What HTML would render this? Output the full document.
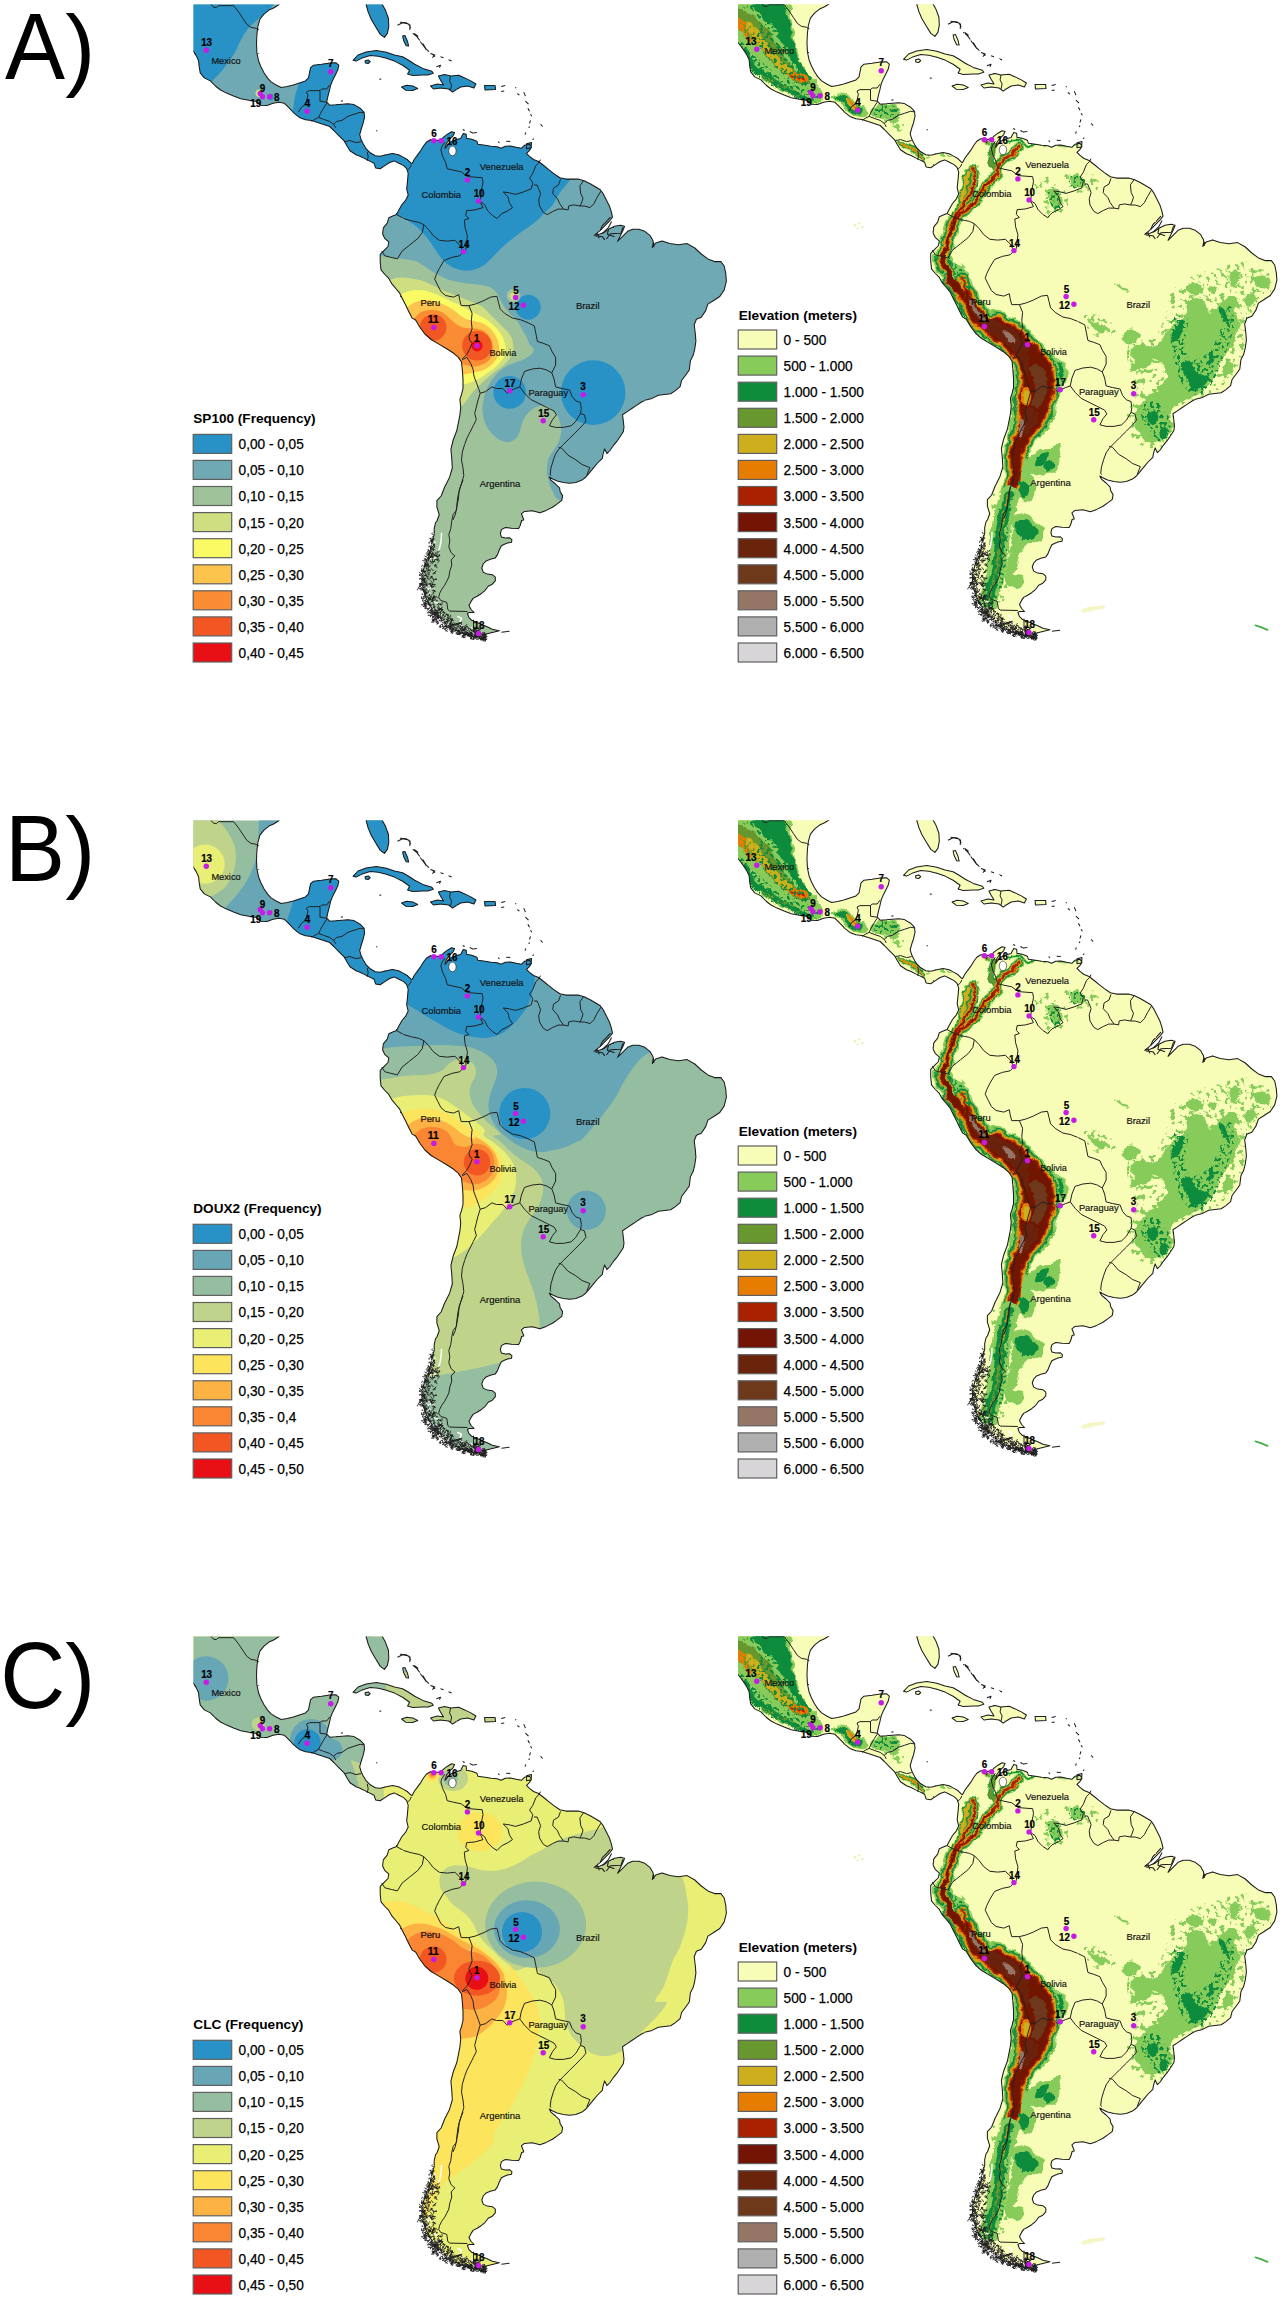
<!DOCTYPE html>
<html lang="en"><head><meta charset="utf-8"><title>Allele frequency maps</title>
<style>
html,body{margin:0;padding:0;background:#fff}
svg{display:block}
text{font-family:'Liberation Sans', Arial, Helvetica, sans-serif}
.pl{font-size:90px;fill:#000}
.num{font-size:10.1px;font-weight:bold;fill:#000;stroke:#000;stroke-width:.2;text-anchor:middle}
.cty{font-size:9.8px;fill:#111;stroke:#111;stroke-width:.18}
.lt{font-size:12.9px;font-weight:bold;fill:#000}
.ll{font-size:14.7px;fill:#000;stroke:#000;stroke-width:.25}
.sw{stroke:#5f5f5f;stroke-width:1.2}
.coast{fill:none;stroke:#1c1c1c;stroke-width:1.05;stroke-linejoin:round}
.bord{fill:none;stroke:#222;stroke-width:1;stroke-linejoin:round}
.dot{fill:#c81ae8}
</style></head><body>
<svg width="1285" height="2300" viewBox="0 0 1285 2300">
<defs>

<path id="land" d="M185.1,0.4 279.5,0.4 279.1,4.5 274.1,7.7 269,10.1 264,14.2 259.9,19.2 257.9,26.3 256.9,34.4 256.5,43.5 256.9,52.6 258.5,60.7 260.9,66.8 264,72.8 267.4,77.9 271.1,81.9 276.1,85 281.2,87.4 287.2,86.6 293.3,85 299.4,83 305.4,80.9 308.5,77.9 309.5,72.8 310.5,67.8 313.5,65.2 321.6,64.3 329.7,63.1 335.8,62.7 338.8,65.2 337.8,69.8 335.8,73.9 332.8,79.9 330.7,85 329.3,91.1 327.7,97.1 326.7,102.2 329.7,105.2 335.8,104.8 341.9,104.2 347.9,103.8 354,104.6 360.1,108.2 364.1,112.3 364.5,117.4 363.1,123.4 361.1,129.5 359.7,134.6 361.1,139.6 363.1,143.7 366.1,148.7 370.2,152.8 375.3,155.8 380.3,156.2 386.4,154.8 392.5,153.4 398.5,154.8 403.6,157.4 407.6,159.8 410.7,162.9 412.1,163.5 414.2,159.5 417.2,155.4 420.2,151.4 423.3,146.3 426.3,142.3 430.4,139.8 434.4,140.2 440.5,140.2 443.5,137.2 447.5,134.2 451.6,131.7 454.6,132.5 453,135.8 449.6,139.2 446.5,143.3 444.9,148.3 447.5,145.3 450.6,141.9 455.6,139.8 460.7,138.6 461.7,136.2 463.3,133.4 466.2,134.2 466.4,138.2 471.8,139.2 476.9,141.2 477.9,144.3 485,145.3 491.1,146.3 497.1,146.7 501.2,148.3 505.2,146.3 510.3,145.9 516.3,147.3 521.4,148.3 524.4,145.3 529.5,144.3 531.5,147.3 529.5,150.4 526.5,153.4 529.5,156.4 533.5,159.5 538.6,161.5 543.7,165.5 548.7,169.6 553.8,173.6 559.8,177.7 565.9,179.1 572,179.1 578.1,179.1 584.1,180.7 590.2,183.7 595.3,186.8 600.3,189.8 603.3,193.9 606.4,199.9 609.4,206 611.4,212.1 612.5,217.1 609.4,221.2 605.4,225.2 600.3,230.3 594.2,235.3 599.3,234.3 604.4,232.3 608.4,229.3 614.5,226.2 620.5,225.2 624.6,226.2 622.6,231.3 619.5,237.4 617.5,241.4 622.6,236.3 627.6,231.3 632.7,229.3 638.8,229.3 644.8,231.3 649.9,235.3 652.9,240.4 653.9,246.5 653.4,242 652.3,247.4 655.6,243.1 662.1,240.9 669.7,243.6 678.4,244.7 687.2,243.6 694.8,248 701.3,254 707.9,258.9 714.4,261.6 720.9,261.6 724.2,266 725.8,273.6 726.4,281.2 724.2,289.9 719.8,296.5 713.3,300.8 707.9,304.1 705.7,310.6 701.3,317.2 696.4,319.3 694.2,324.8 695.3,333.5 695.9,341.1 694.8,348.8 693.2,355.3 690.4,360.7 689.3,370 686.3,374.2 681.6,380.5 680.1,386.7 675.4,390.6 670.7,393.7 664.5,394.5 658.3,395.3 652.1,398.4 645.8,399.9 641.2,402.3 636.5,405.4 631.8,408.5 627.2,411.6 622.5,414.7 623.3,420.9 624,427.2 623.3,431.8 620.2,436.5 617,441.2 613.2,445.8 610,450.5 606.9,453.6 604.6,448.9 603,454.4 602.3,458.3 597.6,463 593.7,467.6 589.8,472.3 585.9,477 582,480.1 575.8,482.4 569.6,483.2 563.3,482.4 557.1,480.9 551.7,478.5 549.3,477 550.9,480.1 555.6,484 559.5,487.9 560.2,491.8 562.6,495.6 561.8,500.3 557.9,503.4 552.5,507.3 546.2,510.4 540,512.8 532.3,510.7 524.5,511.4 521.4,513.8 523,517.7 523.7,520 521.6,520.5 520.2,525.5 518.6,528.6 511.5,528.2 505.4,527.5 501.4,529.6 500.4,533.6 501.4,537.1 505.4,538.1 509.5,537.7 511.9,539.7 511.5,542.3 507.5,543.1 504.4,544.3 501.4,545.8 499.4,549.8 497.4,554.9 495.3,557.9 490.3,559.3 486.2,560.9 483.2,564 481.8,568 483.2,572.1 487.2,574.1 492.3,574.7 495.3,577.1 495.3,580.8 492.3,584.2 488.2,586.2 485.2,590.3 481.2,593.7 477.1,596.3 473.1,598.4 471.1,601.4 469,605.4 471.1,609.5 474.1,612.5 469,612.5 467.4,613.5 469,617.6 472.1,620.6 477.1,622.6 482.2,624.7 487.2,626.7 492.3,629.3 499.4,630.7 493.3,632.2 487.2,633.8 482.2,635.8 484.2,639.8 479.1,637.8 473.1,636.2 467,634.8 460.9,632.8 454.9,629.7 448.8,625.7 442.7,620.6 437.7,615.6 432.6,609.5 428.6,603.4 425.5,596.3 422.9,589.3 421.9,581.2 422.5,573.1 424.9,565 428.6,556.9 430.6,548.8 432.2,540.7 434.2,534.6 434.2,528.6 435.6,522.5 437,520.8 439.2,514.7 436.9,507.2 436.9,500.7 441.1,496 444.8,486.7 449.5,477.4 452.3,468 451.8,458.7 450.9,449.3 453.2,440 456.8,430.5 458.4,422.7 459.9,414.9 460.7,407.2 459.9,399.4 461.5,394.7 463,388.5 463,379.1 462.3,369.8 461.5,362 458.4,357.4 452.9,352.7 446.7,348.8 438.9,344.1 431.1,339.5 424.9,334 420.2,327.8 415.6,320 412.1,318.1 409,311.9 405.9,305.6 402.8,299.4 399.7,293.2 395.8,288.5 391.9,283.9 388.8,278.4 384.9,274.5 381,269.8 380.2,262.1 380.2,254.3 384.9,249.6 388,246.5 388.8,241.8 384.9,238.7 382.6,234 383.3,227.8 387.2,223.2 388.8,217.7 392.7,216.1 396.6,214.6 398.9,209.9 402,204.5 405.9,199.8 408.2,195.1 406.7,188.9 407.5,181.1 408.2,173.3 406.7,168.7 403.6,165.6 398.9,163.2 394.2,160.9 389.6,162.5 384.9,165.6 380.2,168.7 375.6,167.9 374,163.2 369.3,160.9 364.7,158.6 360,156.2 356,154.8 350,150.7 346.9,145.7 343.9,140.6 338.8,135.6 333.8,130.5 329.7,126.5 323.7,124.4 317.6,122.4 311.5,120.4 305.4,119.8 299.4,117.4 294.3,113.3 289.3,108.2 284.2,103.2 279.1,102.2 273.1,103.2 267,105.6 260.9,105.2 255.9,101.2 248.8,100.2 240.7,98.7 233.6,96.1 226.5,93.1 220.5,90 215.4,86 210.4,80.9 204.3,77.9 200.2,72.8 199.2,66.8 198.6,60.7 196.2,55.6 193.6,51.6 189.1,45.5 185.1,40.5ZM365.7,0.4 381.9,0.4 382.3,4.5 385.4,10.1 388.4,18.2 388.8,26.3 387.4,33.4 384.4,37.4 380.3,34.4 375.3,26.3 371.2,19.2 368.2,12.1 366.1,4.5ZM353,60.3 358.1,55 366.1,52 376.3,50.6 386.4,52.2 394.5,55 402.6,56.7 408.6,60.3 414.7,64.3 422.8,68.4 431.9,71.2 433.3,73.2 427.9,74.9 422.8,74.9 412.7,75.5 407.6,74.1 409.6,70.2 402.6,65.2 394.5,61.1 386.4,58.3 378.3,56.2 370.2,55.6 362.1,58.1 356,61.1ZM365.1,60.7 368.2,59.9 370.2,61.7 368.2,63.5 365.3,62.9ZM401.6,87 406.6,85.2 412.7,86 417.7,88.4 412.7,90.4 405.6,90.2ZM430.4,86 437.4,84 443.5,85 440.5,79.9 438.4,75.9 444.5,74.5 450.6,75.9 458.7,75.3 464.7,77.9 470.8,80.9 475.9,84 473.9,88 467.8,86 460.7,87 455.6,90 452.6,92.1 448.6,89 440.5,88 433.4,89ZM484.6,85.4 495.1,85.4 495.5,89.6 485,90ZM526.5,143.7 531.5,142.6 531.1,147.7 526.5,148.7ZM402.6,36 405,35.6 407.6,41.5 408.6,46.1 406.2,45.7 403.6,40.5Z"/>
<clipPath id="lc"><use href="#land"/></clipPath>
<clipPath id="lcL"><rect x="193.5" y="4.5" width="560" height="660"/></clipPath>
<clipPath id="lcR"><rect x="187.5" y="5.3" width="560" height="660"/></clipPath>
<filter id="jag" x="-2%" y="-2%" width="104%" height="104%"><feTurbulence type="fractalNoise" baseFrequency="0.45" numOctaves="2" seed="8" result="n"/><feDisplacementMap in="SourceGraphic" in2="n" scale="1.4" xChannelSelector="R" yChannelSelector="G"/></filter>
<filter id="rough" x="-5%" y="-5%" width="110%" height="110%"><feTurbulence type="fractalNoise" baseFrequency="0.11" numOctaves="3" seed="4" result="n"/><feDisplacementMap in="SourceGraphic" in2="n" scale="7" xChannelSelector="R" yChannelSelector="G"/></filter><filter id="rough2" x="-5%" y="-5%" width="110%" height="110%"><feTurbulence type="fractalNoise" baseFrequency="0.2" numOctaves="2" seed="11" result="n"/><feDisplacementMap in="SourceGraphic" in2="n" scale="5" xChannelSelector="R" yChannelSelector="G"/></filter><filter id="speck" x="-5%" y="-5%" width="110%" height="110%"><feTurbulence type="fractalNoise" baseFrequency="0.2" numOctaves="3" seed="23" result="n"/><feColorMatrix in="n" type="matrix" values="0 0 0 0 0 0 0 0 0 0 0 0 0 0 0 11 0 0 0 -6.25" result="m"/><feComposite in="SourceGraphic" in2="m" operator="in"/></filter><filter id="speck2" x="-5%" y="-5%" width="110%" height="110%"><feTurbulence type="fractalNoise" baseFrequency="0.3" numOctaves="2" seed="5" result="n"/><feColorMatrix in="n" type="matrix" values="0 0 0 0 0 0 0 0 0 0 0 0 0 0 0 0 12 0 0 -6.5" result="m"/><feComposite in="SourceGraphic" in2="m" operator="in"/></filter>
<g id="ov"><path d="M448.7,150.9a3.7,4.8 0 1,0 7.4,0a3.7,4.8 0 1,0 -7.4,0Z" fill="#fff" stroke="#1c1c1c" stroke-width=".6"/><g filter="url(#jag)"><path class="bord" d="M210.4,3.6 213.4,7.1 216.4,7.7 218.4,5.7 233.6,5.7 238.7,12.1 242.7,18.2 246.8,24.3 250.8,27.3 255.9,28.3 258.9,29.9M298.4,112.3 301.4,107.2 304.4,105.2 306.5,101.2 307.9,95.1 306.5,92.1 309.5,90.6 320,90.6 320,101.2M320,90.6 321.6,89 326.7,89 329.7,85M320,101.2 326.7,102.2M326.7,103.2 324.1,107.2 320.6,113.3 318.6,117.4 314.6,119.4 311.5,121.4M318.6,117.4 323.7,119.4 329.7,121.4 333.8,124.4 335.8,127.9M333.8,124.4 336.8,121.4 341.9,120.4 347.9,116.3 354,114.3 360.1,112.3 364.1,112.9M344.9,141.6 350,140.6 356,142.6 361.1,141.6M367.2,151.8 368.2,156.8 367.2,160.9M411.4,164.8 409.8,167.9 407.5,170.2M444.8,142.2 441.7,146.9 440.9,150 442.5,156.2 445.6,162.5 447.2,168.7 453.4,170.2 461.2,171.8 467.4,176.5 475.2,177.2 482.2,177.7 483,182.7 481.4,190.5 480.6,198.2 479.8,201.4M479.8,201.4 484.5,204.5 487.6,210.7 492.3,215.4 497,218.5 501.6,213.8 507.9,210.7 512.5,207.6 509.4,202.9 507.9,196.7 503.2,192 509.4,192.8 515.6,194.4 523.4,192 531.2,188.9 532.8,182.7 529.6,178 532.8,173.3 535.9,165.6 539,162.5 540.5,159.6M479.8,201.4 483,207.6 475.2,209.9 466.6,210.7 465.8,215.4 468.9,218.5 464.3,220 465.1,227.8 467.4,235.6 466.6,243.4 465.8,249.6 463.5,251.9M534,185 537.1,185 538.7,188.9 540.6,193.6 538.7,199.8 539.5,206 543.3,212.3 547.2,214.6 552.7,211.5 558.1,209.1 563.6,209.1M560.5,179.4 558.5,185 553.5,188.1 552.7,193.6 557.4,198.6 559.7,203.7 563.6,209.1M563.6,209.1 568.2,209.9 568.6,206 573.7,204.9 579.9,206M583.8,180.4 579.9,185.8 580.7,193.6 583,198.2 581.5,202.9 579.9,206M579.9,206 584.6,206 590,207.6 593.9,203.7 597,197.5 600.9,191.2M396.6,214.6 403.6,218.5 411.4,220.8 419.1,222.4 423.8,224.7M423.8,224.7 422.3,232.5 417.6,238.7 409.8,244.9 402,251.2 397.4,258.9 391.1,257.4 384.9,255.8 381.8,251.2M423.8,224.7 428.5,229.4 433.2,235.6 439.4,240.3 447.2,241.1 454.9,240.3 459.6,244.9 463.5,251.9M463.5,251.9 459.6,255.8 451.8,257.4 444,260.5 439.4,268.3 436.3,274.5 434.7,279.2 437.8,285.4 440.9,291.6 445.6,295.5 453.4,297.1 458.8,294.7 459.6,299.4 461.2,305.6 468.9,305.6M468.9,305.6 472.1,313.4 471.3,321.2 472.1,329 468.9,336.8M468.9,336.8 469.7,339.9 472.2,343.3 469.4,349.6 466.6,354.6 462.3,358.9M468.9,305.6 475.2,304.1 483,301 490.7,297.1 497,296.3 498.5,302.5 500.1,308.8 504.7,313.4 512.5,318.1 520.3,319.6 528.1,322.8 534.3,325.9 535.9,333.7 537.4,341.4M537.4,341.5 543.2,343.3 549.4,345.7 551.8,351.1 555.6,357.4 555.6,365.1 551.8,372.9M462.3,359.7 466.9,357.4 470.8,363.6 473.2,369.8 473.9,376 476.3,382.3 478.6,388.5 480.2,393.2M480.2,393.2 477.8,400.9 476.3,407.2 474.7,413.4 476.3,419.6 473.2,425.8 470,432.1 466.9,438.3 464.6,444.5 462.3,452.3 461.5,460.1 463,467.9 463.8,475.6 461.5,483.4 459.1,491.2 458.4,499 456.8,506.8 455.3,514.6 452.9,520M463,480 459.9,488.1 457.9,496.2 456.9,504.3 456.5,510.4 453.2,514.4 451.8,520.5 450.8,528.6 448.8,534.6 449.8,540.7 448.8,546.8 451.2,552.8 454.9,555.9 451.2,559.9 451.8,565 449.8,571.1 448.8,577.1 446.8,581.2 444.7,585.2 441.7,589.3 439.7,593.3 438.7,597.4 440.7,600.4 446.8,602.4 447.8,609.5 449.8,611.1 467.4,611.5M473.5,619.6 473.5,633.8M480.2,393.2 485.6,391.6 491.8,386.9 496.5,388.5 502.7,388.5 507.4,393.2 509.7,390.8M509.7,390.8 515.2,388.5 519.8,386.9 521.4,379.1 524.5,371.4 532.3,369 540.1,368.2 546.3,369.8 551.8,372.9M551.8,372.9 554.1,379.1 555.6,386.9 561.9,388.5 569.6,390 572,396.3 575.9,400.9 580.5,402.5 581.3,408.7 580.5,413.4M519.8,386.9 524.5,393.2 530.7,399.4 538.5,403.3 546.3,407.2 554.1,411.1 556.4,414.9 552.5,419.6 549.4,425.8 555.6,427.4 563.4,427.4 571.2,425.8 575.9,421.2 580.5,413.4M580.5,413.4 584.4,414.9 586,421.2 582.1,425.8 575.9,432.1 569.6,438.3 563.4,444.5 558.8,449.2M558.7,447.4 561.8,448.2 568,455.2 575.8,459.8 582,464.5 589.8,467.6 586.7,475.4M558.8,449.2 555.6,453.9 553.3,460.1 551,467.9 550.2,474.1 551,475.6M450.6,75.9 449.6,80.9 451.6,85 450.6,90"/><use href="#land" class="coast"/><path class="coast" d="M397.5,25.3 402.6,22.7 408.6,23.9 410.7,28.3M412.7,33.4 416.7,36.4 419.8,40.5M422.8,43.5 425.8,48.6 428.9,51.6M431.9,53.6 434.9,56.7M400,22.3 406.1,22.7 410.1,25.3 409.7,29.9M414.2,33.4 418.2,36.4M420.2,41.5 423.3,45.5 426.3,49.6M430.4,53.6 434.8,55 432.4,57.7M440.5,56.7 443.5,57.7M448.6,59.7 451.6,61.1M436.4,66.8 440.5,65.2 439.5,67.8M501.2,86.6 505.2,85.6M501.2,91.5 504.2,91.1M515.3,87.4 516.1,88.2M517.4,93.5 519.4,95.1M523.8,92.1 525.4,96.1M525.4,101.2 528.5,104.2M527.9,108.2 529.5,111.3M530.5,114.3 531.9,116.3M530.5,120.4 529.5,123.4M529.5,126.5 528.7,127.9M540.6,124.4 542.6,126.5M525.9,132.5 525,134.6M532.5,139.6 533.9,138.8M462.7,129.5 464.7,130.5M469.8,131.5 472.8,133.1 476.9,132.5M498.1,141.6 499.5,142.8M506.2,141.2 510.3,141.6M379.3,79.3 381.3,78.9M340.9,101.2 342.9,100.8M376.3,130.5 377.3,131.1M501.4,632.2 509.5,631.3M600.3,230.3 602.3,225.6 606.8,221.2 610.4,217.1M602.3,233.3 608.4,227.6 611.6,221.6M595.3,235.9 602.3,236.7 604.8,239.8M606.4,239 610.4,233.7 620.9,233.3 623,227.2M608.4,229.3 607.4,234.3 614.5,236.7M597.3,233.3 599.3,238.4"/></g><path d="M441.5,533.4 441.2,539.4 440.1,546.3 438.9,550.5" fill="none" stroke="#fff" stroke-width="1.5" stroke-linecap="round"/><path d="M457.9,616.5 461.4,618.2 459.7,623.3 462.2,625.9" fill="none" stroke="#fff" stroke-width="1.6" stroke-linecap="round" stroke-linejoin="round"/><path d="M434.6,610.3l0.0,0.3M452.4,622.3l-0.5,1.5M444.0,618.7l-1.3,-1.4M470.2,629.4l-0.4,0.3M429.6,611.3l0.4,-0.0M479.5,636.4l0.7,1.0M437.2,617.7l-0.0,0.6M440.8,624.6l-0.5,-1.0M436.6,609.1l-1.1,0.0M424.7,605.0l-1.3,-0.8M423.6,597.7l-0.3,0.3M431.6,612.3l0.2,1.0M445.3,627.7l-0.8,-0.9M437.0,602.9l1.4,0.2M434.1,543.4l1.5,-0.6M483.9,638.1l1.0,1.4M468.6,632.8l-0.7,1.3M461.3,629.0l0.3,-1.4M434.0,578.5l-0.6,1.0M433.8,541.7l1.5,0.8M435.6,617.1l0.5,0.3M440.6,608.1l-0.9,-0.4M428.7,585.5l1.2,-0.9M439.8,621.8l-0.1,0.4M434.1,554.3l0.9,-0.1M431.7,560.5l-0.7,1.2M434.9,603.1l1.6,-1.3M433.8,620.6l1.3,-1.4M459.6,633.1l-0.4,0.4M464.3,632.8l-1.2,-1.4M435.4,557.8l-1.2,0.8M442.4,623.7l0.8,-1.4M435.9,556.4l-1.2,1.4M436.0,614.4l-0.6,-0.8M447.5,628.4l0.2,-1.2M426.7,562.3l0.9,0.5M485.0,638.3l1.6,-0.9M451.2,620.4l1.4,1.5M453.1,629.1l1.4,0.0M481.6,638.8l-0.4,-0.8M439.7,618.5l-1.0,0.3M484.8,637.9l1.0,-0.8M453.8,625.4l-0.9,0.9M467.5,634.0l0.1,-1.5M477.4,639.0l0.8,-0.0M437.3,619.8l-1.5,-0.7M472.4,629.1l-1.2,-1.6M424.6,601.7l-0.5,-1.4M472.9,632.6l0.8,1.2M432.9,557.7l1.1,0.1M441.7,614.7l-0.1,-0.3M434.2,547.8l1.0,-0.8M476.1,636.5l-1.1,0.4M460.4,628.3l1.0,-1.3M480.4,639.7l0.0,1.4M425.7,587.8l1.0,-1.4M433.8,589.2l0.1,1.6M427.7,588.6l1.6,1.4M465.9,632.9l0.6,0.2M423.1,598.7l0.2,-0.6M467.0,629.5l-0.2,-0.7M464.0,634.9l-0.0,-1.3M437.9,610.1l-1.4,-0.2M422.1,573.4l0.9,1.4M421.4,591.0l-0.8,-1.3M469.5,629.5l0.0,0.1M437.2,607.7l-0.1,0.2M429.3,592.8l1.0,0.4M460.0,634.4l-1.0,0.2M439.5,621.9l-0.0,-1.1M422.7,599.5l1.4,-1.2M448.5,623.3l-0.5,1.1M462.8,626.7l-0.4,-0.9M478.3,637.3l-1.0,-0.9M428.2,563.7l-1.2,1.0M442.2,619.7l1.6,1.5M425.9,560.0l1.5,-1.4M428.9,569.8l-0.6,0.6M442.2,619.2l-1.0,0.0M420.7,585.3l0.2,-0.6M453.5,630.3l-1.2,-0.7M425.4,570.1l1.1,1.2M468.4,635.9l-1.4,-0.3M426.8,593.4l0.7,0.7M432.8,600.4l1.5,1.3M423.0,586.9l-1.2,0.0M450.0,617.5l-0.2,1.2M472.1,638.5l-0.6,0.3M472.1,636.4l-0.1,-0.1M446.2,625.0l1.3,-1.4M441.3,610.3l0.0,-0.6M432.9,545.8l-1.1,-1.2M442.8,616.8l0.8,1.4M440.4,609.9l-0.6,-0.6M482.1,637.5l0.3,0.1M431.8,585.8l-0.9,1.0M426.2,602.3l-1.5,0.9M427.0,591.7l1.1,1.1M429.6,550.2l-1.1,1.1M432.5,588.4l1.3,-0.4M448.9,625.2l0.8,-1.1M482.7,635.9l-0.8,-1.4M425.5,586.9l1.3,1.0M426.8,559.4l-0.5,0.6M460.0,628.8l0.7,1.1M430.6,587.7l-1.4,1.0M428.5,605.5l-0.2,0.1M428.0,593.6l0.5,0.2M432.5,609.0l1.0,0.7M461.4,632.9l1.2,-0.3M453.9,627.1l-0.7,0.7M478.7,633.8l-1.3,-1.1M457.7,634.0l1.6,0.9M442.7,614.9l-1.4,-0.1M426.5,586.7l-0.8,-1.5M481.5,633.9l1.2,0.7M481.7,638.4l-0.5,-0.7M479.6,637.4l1.2,0.2M425.5,581.5l-0.8,-0.5M423.1,577.8l-0.4,-1.3M431.1,605.6l1.1,-1.5M431.1,558.4l-0.9,-0.2M442.2,619.3l-0.2,-1.1M428.7,561.2l-1.1,-0.1" fill="none" stroke="#fff" stroke-width="1.1" stroke-linecap="round"/><path d="M428.3,569.5l-0.2,-1.2l0.1,1.3M450.4,624.6l0.4,1.1l-1.5,-1.6l1.3,0.3M462.5,632.5l0.5,-0.0l0.6,-0.1l-0.8,1.7M485.1,636.5l0.0,-1.6l0.2,-1.3l-1.3,-0.7M431.0,547.0l-0.1,1.6l-0.3,-1.5M457.9,632.9l-0.1,-0.0l0.6,-1.1M445.5,612.9l-1.3,-0.3l-1.0,-0.8l1.6,1.0l-0.7,1.3M426.1,574.0l-1.6,-1.2l-0.2,-1.7M451.5,620.8l0.3,-0.9l0.3,-0.4l-0.2,1.6M437.2,612.9l-0.6,-0.9l0.4,0.8l-1.2,0.4M431.9,555.3l-0.8,1.1l0.3,-0.7l-1.1,0.7l-1.5,-0.9M447.5,617.6l0.8,-1.5l-0.3,-0.9l-1.5,-0.7M445.9,614.5l1.6,0.5l0.7,0.3l-1.2,-1.6l-1.6,1.4M462.4,625.0l-1.5,-0.6l-1.2,-1.5l-0.2,-0.4l-1.5,1.5M456.9,632.4l0.6,1.4l1.3,-0.3M442.0,626.9l0.8,-0.4l0.8,0.3l-0.2,1.2l-1.4,0.9M432.3,614.8l-0.8,-1.7l-0.7,0.6l-1.0,-1.1l1.4,0.5M438.0,607.9l0.5,1.0l0.9,-1.0l-1.0,-1.0M475.3,637.4l0.7,1.5l-0.8,-1.1M432.4,590.9l1.1,-0.8l0.4,0.6M424.2,586.0l-0.3,-1.1l0.9,-0.8l0.9,1.0M482.1,639.5l1.6,0.6l-1.0,-0.1l-1.1,-1.7M437.3,611.1l0.1,1.5l0.0,1.7l-1.2,1.2M452.8,631.2l-1.3,-0.2l0.4,1.4l-0.4,0.2l1.3,1.0M452.7,624.7l1.6,0.1l1.0,-0.6M477.9,632.0l-0.5,-0.3l-0.8,1.4l-1.0,1.2l-0.2,-1.6M442.8,617.3l1.5,-0.0l1.5,-1.4l-0.9,0.1l-0.7,0.8M450.6,625.5l0.6,1.5l1.3,0.4l-0.7,-1.2M437.6,620.6l0.0,0.4l-1.6,1.6M438.4,603.5l-0.0,-0.5l1.4,1.5l1.4,0.1l-1.3,-0.3M433.5,541.6l-1.0,-0.9l0.6,-0.6M428.6,597.7l1.2,0.4l0.7,0.7M470.9,638.1l0.1,1.2l0.1,-1.0l-1.0,0.1M451.5,621.0l1.3,-1.2l-0.9,0.8l-0.8,-1.4M469.1,633.5l0.4,1.0l-1.4,0.2l-0.5,1.1l-0.5,0.7M448.0,626.9l-0.1,-1.6l0.9,0.4M475.0,634.9l1.2,1.7l1.5,-1.4l-1.5,1.5M437.5,610.1l-0.2,0.3l-1.7,0.7l1.2,-1.1M469.7,631.2l0.2,-1.1l0.3,-0.5l0.9,-0.7l-1.3,0.8M434.9,564.7l0.9,0.9l-0.3,0.8l-1.5,-0.5M428.9,614.4l-0.9,1.5l0.6,-0.6M453.0,625.9l0.5,0.7l0.9,1.6l-1.6,0.4l0.8,-0.8M475.9,635.7l0.5,1.1l-1.4,0.3M458.6,633.4l1.6,1.2l0.1,0.3l-0.2,-0.0l-0.7,-0.3M427.0,590.4l0.6,0.8l-1.6,0.9l0.3,0.5M432.4,604.0l-1.5,1.7l1.5,-1.5l1.4,-0.2l-0.1,1.6M427.3,579.9l-1.2,1.6l-0.9,0.7l-1.5,-0.3l-1.3,1.2M452.2,624.6l1.5,0.8l-0.9,-1.3l1.3,1.0M446.0,626.0l0.5,0.9l-1.1,-0.9l1.6,1.4M470.0,637.1l-1.6,-1.6l-0.9,-0.8l0.9,1.4l-1.2,-0.9M482.8,637.7l0.8,1.2l-1.4,-1.3l1.1,0.4l0.9,-1.0M428.8,607.8l-0.7,0.9l1.1,-1.1l0.5,0.3M438.1,609.7l0.7,-0.0l0.9,-0.6M472.1,636.4l-0.6,-0.2l0.3,1.4M452.2,630.3l-0.6,-0.3l1.5,1.3l-0.9,-0.5l-0.5,-0.5M427.9,603.6l0.1,1.1l0.2,-1.1l0.9,1.3l-0.7,-1.6M438.8,617.4l-1.5,0.2l1.0,-1.4l-1.4,0.8l1.4,-1.4M463.7,631.0l1.0,-0.6l-1.2,-0.0l1.0,-1.5M442.8,627.7l1.2,1.0l1.1,1.3l1.6,0.5M442.2,616.2l1.4,-0.9l-1.1,0.5l0.6,-0.6l-0.4,0.1M431.4,585.1l0.5,0.9l-1.1,-1.5l-0.1,0.3M473.4,637.7l0.3,0.3l-0.1,0.0l-0.2,1.3M470.9,634.9l-0.1,-0.9l-1.5,1.5M465.4,633.5l1.0,-1.5l1.4,1.3l1.3,1.4M429.6,612.0l-1.2,-0.6l-0.8,1.3l0.1,0.5l1.7,-0.8M435.8,619.9l1.1,-1.4l-0.8,0.7l-1.4,-0.1M441.6,610.3l-1.6,-1.1l-1.0,0.6l1.0,-0.2M431.9,604.6l-0.5,0.6l-1.3,-0.4M441.6,609.3l1.2,0.7l-0.1,-0.7M435.8,556.9l1.4,-1.2l0.4,1.5l0.8,1.5M462.0,630.0l0.8,-0.6l1.5,0.2l0.8,-0.6l1.1,-1.4M426.6,560.2l-1.0,-1.6l-0.1,0.7l-1.4,-1.6M426.8,560.0l-0.6,-0.3l-1.6,-0.3l0.7,1.6l1.0,0.5M441.1,626.1l-1.3,-0.4l0.0,1.0l1.1,0.4l-1.2,0.9M475.4,634.9l0.3,-1.0l1.5,1.7l0.7,1.5M437.7,623.9l-0.9,0.3l0.7,-0.6l1.5,-0.5M430.2,612.7l0.2,-0.8l1.4,1.7M427.9,578.5l-0.2,-0.3l1.0,1.5M484.8,640.2l0.4,0.5l0.9,-1.2l-0.3,-1.6l0.1,-1.3M427.7,604.7l-1.5,1.0l0.8,1.0l-0.3,-0.0M431.5,554.2l0.9,-0.0l1.7,1.2l1.2,-0.3l-0.2,0.2M475.8,635.1l-0.6,-1.5l0.8,1.4M430.9,557.0l-0.1,-1.3l1.4,0.2M458.9,623.8l1.2,-0.3l1.0,-0.9l0.8,0.2M474.0,637.3l-1.7,-0.9l-0.7,-0.6l-1.5,1.3l1.1,-0.3M428.1,596.8l-0.7,-0.0l1.5,1.6l-0.1,-1.0M433.1,587.4l1.4,-1.6l0.5,0.7l0.2,0.1M480.4,638.9l0.7,1.5l-0.2,-1.4l-0.9,-0.7M453.3,630.9l1.0,-0.4l0.6,1.3l0.3,-0.9M432.9,588.4l-0.1,-1.4l1.4,-1.4M473.9,638.3l1.0,-1.4l-0.7,0.9l-0.9,-0.8l0.2,-1.1M477.4,630.9l-1.7,1.3l-1.5,-1.5l0.9,1.4l-0.6,-0.1M441.1,617.3l-0.9,-0.2l0.9,1.0l1.0,-0.9l-0.0,-0.9M443.1,622.0l0.2,1.3l-1.1,-1.2M430.7,609.3l-1.3,-1.1l0.5,0.3M459.5,628.6l1.1,0.8l1.0,0.9l-0.0,0.5M430.8,612.0l-1.3,0.9l0.3,-1.2M461.9,629.6l1.3,-1.2l-0.4,-0.7l-0.3,-1.4l-1.6,1.7M465.4,628.9l-0.3,-1.4l-0.9,-0.7l1.5,1.4M422.9,575.9l0.2,1.4l1.3,1.4l-1.1,1.2M477.3,637.3l-0.5,-1.1l0.2,-1.1l-1.0,-1.0l-0.1,-0.7M424.5,598.5l0.0,0.2l0.5,-1.0l-1.3,-1.5M462.4,627.2l-1.6,-0.6l-0.4,-1.4M473.0,636.0l-0.7,0.4l-0.0,-1.1M433.0,618.6l0.1,-1.2l0.7,-0.8l0.8,0.6l-1.2,-1.0M423.6,586.9l0.8,-0.1l-1.7,0.9M462.1,629.7l0.6,1.5l1.3,-0.9l0.5,-1.4M429.4,607.8l-0.7,0.7l-0.9,1.4l-1.0,0.9M430.5,596.8l1.0,-0.1l-0.8,1.2l-0.7,1.4l1.4,-1.3M478.1,632.0l-0.1,-0.6l-0.8,-1.6l-0.5,1.3M480.2,638.4l0.4,0.4l-0.3,-0.3M431.2,584.9l-1.6,-1.2l0.0,-0.7l-0.5,1.6l-1.2,-1.0M428.8,576.1l-1.7,0.2l1.2,0.9l-1.4,1.1l1.3,0.6M463.1,633.4l0.7,0.6l1.6,1.1l-1.2,0.4M436.8,613.8l-0.9,-0.9l-0.6,-1.1l0.0,-1.3l-1.5,-1.5M435.0,564.6l-0.3,0.8l0.7,-0.8l0.5,-0.4M451.3,629.4l0.2,-0.3l0.7,0.4l1.1,1.0M430.3,556.8l1.6,-0.1l0.7,1.0l1.5,-0.8M422.9,584.0l-1.5,0.7l-1.3,-1.6l-0.7,0.8M483.6,638.9l-1.1,-1.5l-0.2,1.3l0.5,-0.9l0.8,-0.3M437.4,608.6l-0.2,-1.2l1.3,-0.8l0.2,-0.8l-0.3,-0.6M430.9,550.0l-1.5,1.3l-0.6,-1.4l-1.1,-0.1M484.9,639.4l-0.5,0.2l0.2,-1.0l0.4,1.1l-0.8,-1.1M423.5,587.6l-1.1,-1.6l-1.1,-1.3M432.8,548.9l-1.7,-1.0l1.6,-1.7l0.1,1.1l1.0,0.8M480.0,637.0l-1.7,-1.2l-0.6,0.8M435.2,617.4l-0.5,-0.8l1.4,-0.6l-1.4,-0.6l0.8,-1.0M461.6,629.6l-1.2,-0.4l-1.1,-1.6M424.5,605.6l-1.6,-1.1l-1.5,0.3l0.3,-0.6M441.5,610.7l1.1,-1.5l-0.4,1.4l1.3,0.9M445.2,625.7l0.0,0.2l-1.3,1.1l0.6,-0.2l0.6,-0.3M426.1,602.4l0.1,-0.2l-0.7,-1.5M433.3,545.7l0.8,-0.6l0.8,1.7l-0.3,1.2M437.9,558.8l1.1,1.0l0.0,1.7l-1.5,1.3M455.0,631.0l1.2,-1.0l-0.7,0.5M464.7,632.7l0.9,0.2l1.4,1.0M427.6,561.8l1.5,-1.0l-0.7,-0.3l0.4,-1.6M453.9,627.3l0.1,-0.6l1.6,1.6l0.2,1.7M433.7,600.5l0.5,-1.0l-1.0,0.9l-1.1,0.3M432.7,543.1l-0.7,-1.7l-1.5,-1.0l0.7,1.3M420.9,584.9l-0.9,0.3l-0.7,1.3l-0.7,1.2l0.6,-0.2M478.3,637.2l0.5,-0.5l-0.6,0.3l0.5,-0.8l0.5,-1.7M441.3,626.6l-0.4,-0.8l-1.4,1.3l0.9,-1.3M450.6,627.3l-0.4,0.8l0.6,-0.5M477.1,631.6l-1.5,-1.1l0.0,-0.1l0.5,-1.5l-0.9,-1.6M485.4,638.5l-0.0,1.1l0.1,-1.4l1.0,-1.7M481.8,636.6l0.9,-1.3l-0.1,-1.6l1.2,1.5l1.3,-1.6M428.1,596.2l-0.7,0.0l-1.3,0.2M427.0,557.2l-0.9,-0.3l-1.5,-1.0l-0.2,0.2M438.3,610.0l-1.2,0.2l-1.1,0.4l1.6,0.7M426.4,600.8l-0.7,1.6l0.5,1.2l-1.5,-0.3l-1.4,-0.8M437.0,556.5l0.2,0.0l1.4,-0.4l-0.7,0.8M424.1,582.0l0.5,-0.6l-1.3,-0.6l0.1,-1.1M427.4,602.0l-1.6,-0.5l1.5,0.1l0.1,0.8M429.2,600.2l1.6,-0.5l0.3,-0.4l-0.7,0.4M430.2,552.3l0.5,-0.4l-1.4,0.2l-1.4,-0.4l-0.9,-0.8M431.9,541.0l-1.5,0.9l-1.5,0.4l0.2,1.5M445.2,628.6l1.1,-0.1l-0.6,0.4M477.7,632.5l-0.4,-0.2l-0.2,-1.3l-0.6,0.8M431.4,548.6l0.7,-0.3l0.6,0.5M426.8,563.7l-1.0,0.7l-0.0,-0.2l1.0,0.0l-0.1,0.2M473.5,631.0l0.5,-0.4l1.0,0.6l-0.2,0.3M437.3,610.5l-0.6,0.7l-0.9,-0.8l0.8,0.3l-0.8,-1.5M467.9,634.1l0.2,1.6l1.4,-0.2M432.8,614.8l0.0,-1.2l1.7,-0.5l-1.2,-0.0M437.1,564.8l-1.3,0.9l0.3,1.4l1.4,0.6M435.0,597.4l-1.3,-0.5l-1.1,1.3l0.6,-0.7M438.4,621.2l1.5,-1.2l-0.4,1.1l0.2,-1.3M435.6,553.0l-0.7,-0.2l1.0,0.5l0.1,-0.1M452.4,629.3l0.2,-0.5l-0.9,1.5l-1.3,1.5M484.1,638.2l-1.2,-0.3l-1.2,1.4M484.1,635.1l0.1,-1.1l0.1,-0.5l-0.0,-1.0l0.7,-0.3M430.8,616.0l-1.2,-0.7l-0.6,0.7M481.6,633.8l1.5,-1.6l-0.0,0.3l0.6,0.4l0.4,1.5M434.0,550.7l-0.7,-0.7l1.7,-0.3M432.8,550.1l1.1,-0.3l-0.6,-0.5l-1.6,0.9l-0.8,0.3M436.9,618.9l1.5,-0.3l-1.0,-1.0l-0.2,-0.9M475.9,637.9l0.2,-1.6l-0.6,-1.5l0.0,0.8M421.6,572.0l-0.2,-1.5l0.2,-1.2l0.6,-1.5M476.8,634.2l-1.5,-1.6l1.5,-0.3M424.3,563.5l1.5,-0.5l1.5,-1.2l0.7,1.5M423.5,571.1l-0.5,0.8l1.4,-1.2l1.3,1.6l0.8,0.6M429.7,556.3l0.9,0.1l1.5,-1.4l-0.9,-1.4l-0.6,0.9M476.9,635.7l-0.7,1.0l1.6,-0.1M424.6,604.5l1.6,-1.6l-0.3,1.6l0.4,-1.5M433.2,540.8l-0.8,0.4l-0.4,-0.1l0.4,-0.6M433.3,596.9l-0.8,1.5l-0.0,0.6l0.4,1.3l0.5,-0.1M449.0,618.2l-0.9,0.3l-1.2,1.5l-0.7,-1.4M423.8,601.5l-1.5,-0.6l0.5,-1.5l-1.2,-1.6l0.1,-1.5M421.0,585.6l-0.8,1.4l0.0,-0.3M448.4,616.9l-0.6,0.6l0.0,1.4l0.5,0.6M430.3,610.2l1.0,0.7l1.1,1.0l-1.1,1.1M423.9,588.8l-0.1,0.5l0.6,-0.3l1.5,1.2M450.5,622.3l0.8,0.6l-0.2,-0.3l-0.4,0.9M433.6,535.3l-0.4,-0.5l-1.6,-1.2l1.0,-0.9M455.6,624.2l-0.1,0.6l-1.6,-0.8l0.9,-1.3M421.4,593.8l1.6,0.9l-0.6,-0.8l0.1,-0.0M423.4,578.4l-0.7,1.2l1.2,0.1l-1.0,1.4M470.1,628.5l0.6,0.9l0.2,0.5l1.5,1.4l-0.8,0.1M484.1,638.7l0.4,-1.1l1.6,1.0M450.7,619.4l0.7,-0.1l-0.2,-1.3M442.5,609.5l-1.7,-0.1l0.4,1.3M470.7,635.1l-1.5,-0.1l-1.6,-1.5l-0.4,-0.1M438.3,555.6l1.4,0.5l-0.6,-1.6l1.1,0.8M447.7,619.5l1.0,0.7l-0.2,-0.5M431.1,609.2l1.3,0.4l-1.4,0.8l0.4,0.2l0.5,0.6M442.4,614.6l0.8,-0.7l0.8,1.5M447.2,615.9l1.2,-0.5l-0.2,-1.4M433.9,600.7l-1.5,0.3l1.1,1.1l-0.4,0.3l0.7,0.9M461.7,630.3l0.2,1.7l-1.2,1.0l-0.6,0.8l1.5,-0.8M443.1,620.2l0.6,-0.7l1.0,-0.3l-1.2,0.4l-0.1,0.1M484.8,637.6l-1.4,-0.7l0.7,0.6M430.3,599.6l-1.0,-1.6l1.4,0.5l-1.6,-1.0M432.3,539.1l1.2,-1.0l0.7,0.7l-0.6,1.3M426.1,575.0l0.4,1.7l-0.9,-0.9l0.4,-1.2M480.9,638.0l1.4,0.6l-1.1,-0.5l0.7,-1.0M476.0,631.4l-0.0,0.6l1.2,0.8l0.9,0.6M438.4,619.2l0.2,-1.6l-1.2,0.6l-1.5,1.0M421.2,574.8l-0.7,-1.6l-0.5,-0.3l-1.1,-1.1M425.1,563.9l0.7,0.0l-0.3,-0.4l0.0,-0.1l0.1,0.1M469.9,628.1l-0.4,0.5l-1.6,-0.1l0.1,-0.5M477.5,635.3l-1.4,0.0l-0.9,0.3l0.5,1.3l-1.0,-1.3M434.3,596.2l1.0,0.7l0.9,-0.2l1.7,1.3M444.9,622.6l-0.1,1.4l0.6,-1.0M433.0,610.0l-1.7,0.8l1.4,0.4M423.4,580.0l1.6,-1.1l-1.1,1.0M422.4,576.4l1.0,0.5l0.8,1.3l0.5,1.6M459.6,625.5l-0.4,0.5l-0.3,0.5l-1.6,0.3M421.4,583.7l-0.4,1.5l0.6,-1.3l0.5,0.5M461.5,623.8l-0.0,-0.4l0.1,-1.5l-1.6,1.6l-0.4,-0.6M431.9,561.7l-0.0,0.9l0.2,-0.9M430.2,570.6l-1.3,-0.4l-0.9,-0.2M427.9,584.7l-1.2,0.7l-1.2,-0.5l1.7,1.0l0.3,-0.9M427.4,567.4l-1.5,1.1l1.0,-0.3l-0.4,0.8M428.4,552.8l-1.0,-0.6l-1.7,1.3M443.2,623.8l-1.2,1.0l1.3,1.4l-1.3,0.5M422.9,583.8l0.7,1.4l-1.1,-0.4M430.1,598.9l1.7,1.2l0.5,1.6l-1.2,-0.3M438.4,622.1l-1.0,1.5l-0.4,-0.8l0.6,1.2M432.7,541.1l-1.0,0.2l-0.5,-1.7l-1.7,-1.7M425.0,593.8l-0.2,1.4l1.0,-1.1M433.9,611.4l-0.9,0.8l1.0,0.1l0.4,1.4l0.5,1.6M429.6,571.2l-1.4,-1.6l-0.1,1.1l0.6,0.2M469.8,635.3l-0.1,-1.4l0.3,1.2M426.8,564.5l1.4,-0.4l0.5,-0.4l-0.3,0.5M421.4,578.7l0.9,0.5l-0.1,-1.7l-0.1,-0.8l0.3,0.0M432.0,618.8l1.7,1.0l-0.7,-0.2M434.2,613.4l0.1,1.6l1.5,-0.2l0.2,-1.4l-0.9,-1.2M448.3,628.0l-1.7,-1.1l-1.2,-1.1M437.0,556.7l-1.0,-0.2l0.4,-1.5l1.5,-0.6M433.4,561.0l-0.1,1.4l1.0,-1.0l-1.5,0.4M432.6,612.9l-0.3,-1.2l-0.1,-1.1M470.6,633.3l0.2,-0.6l-1.1,0.8l0.9,-0.6M434.3,605.7l0.0,-0.9l-0.9,-0.3M470.0,633.3l1.6,0.4l-1.3,0.7l0.3,0.4M465.4,631.4l-0.9,1.6l1.4,1.0l-1.3,-0.8l-0.1,0.2M427.9,583.4l-0.8,-0.6l-1.4,1.0M471.9,638.1l-1.4,-1.5l0.7,1.5l1.0,1.5M465.0,633.7l-0.0,-1.7l-0.3,-1.4l0.8,0.2M425.8,579.0l-0.2,-0.8l-1.2,0.4l0.9,0.6l-1.3,-0.5M445.0,627.0l-0.3,-1.2l1.7,0.3l1.4,1.6M464.0,630.3l-1.2,0.1l-0.3,0.1M425.1,561.5l-1.3,-1.2l-1.1,0.3l0.4,0.4M430.6,553.6l-1.4,1.3l-1.5,-0.8l0.9,0.3l0.6,-0.3M434.6,618.7l-1.3,-1.2l-1.0,0.1l0.3,-1.7l1.7,1.1M425.5,602.5l0.7,1.3l-0.0,0.3l0.5,-0.5M437.1,605.0l1.4,-1.4l-0.7,1.2l0.1,-0.5M477.2,630.0l0.2,1.5l0.2,1.3l0.6,-0.9l-0.5,-1.4M422.6,575.4l-0.6,-1.1l-0.5,-0.2l0.9,-1.1l1.1,1.5M425.5,571.2l-1.6,-0.0l-1.4,-1.4l1.6,1.5M432.2,547.5l-1.1,1.7l-1.0,1.0M429.4,556.8l-1.0,1.4l1.2,0.0l-1.5,-0.7M429.3,579.4l0.9,-0.7l-0.8,-0.7M477.5,635.7l-0.6,-0.0l-0.4,-0.8M432.8,544.8l1.0,0.3l0.8,-1.6M428.0,565.2l-1.4,-0.4l-0.8,-0.4l1.6,0.7l1.0,-1.2M479.4,633.5l0.3,-1.2l-1.7,0.3M474.3,637.2l0.8,-0.7l1.3,-1.7M430.7,576.6l1.6,-0.3l-0.1,1.5l0.3,0.7M432.6,549.3l1.5,-1.3l-0.2,-0.8l0.6,-1.3l-0.6,-0.3M434.0,613.7l0.7,-1.0l1.4,-0.1l0.7,0.5M479.3,635.0l1.4,-0.8l-1.4,1.6M482.5,636.8l1.5,0.3l0.7,0.8l-1.2,-0.8M479.5,637.9l1.4,1.2l1.2,1.1M438.1,623.8l-1.6,-1.5l0.8,-0.0M477.9,631.1l0.7,-0.5l0.5,-1.5l1.4,0.8M427.8,553.4l-1.2,1.6l1.1,0.3l-1.2,1.0M455.5,625.3l-0.5,-0.5l-1.5,0.6l-1.5,0.6M477.3,634.8l-0.1,-1.7l0.4,0.5l1.2,0.4l-0.5,-1.7M471.3,632.6l0.9,1.7l-0.1,1.4M424.5,604.3l-0.6,-1.5l1.3,0.3l0.8,0.8l-1.4,0.0M427.1,593.0l-0.0,0.1l-0.8,0.1l-1.5,-0.5M431.0,586.7l1.2,0.8l-1.5,-1.3l0.8,1.2M483.6,636.9l0.4,-1.2l1.6,0.0l-0.8,1.6l-0.4,-1.5M449.5,628.4l-0.6,0.6l1.4,1.7l1.3,1.4l-0.8,1.1M433.1,551.5l-0.9,0.8l0.3,1.1l-1.3,1.2M445.6,629.6l0.8,0.7l-0.6,0.9l0.3,-0.3M435.6,619.9l-1.4,-0.4l-1.0,1.4l-1.4,-1.4M484.4,636.9l0.7,-0.6l-0.4,1.7M420.2,584.9l-0.0,-0.3l-0.4,1.5l-0.6,1.1M433.9,620.9l-0.9,-1.3l-0.6,1.2M427.3,575.3l-1.5,-0.7l-1.6,1.3l-0.5,-1.4M424.1,598.3l-1.4,0.1l-1.5,-0.2l1.0,-0.8M466.0,635.5l0.2,-0.4l-0.9,-0.2M431.0,560.2l-0.9,1.7l0.0,-0.5l1.2,0.1M449.4,616.9l1.0,0.4l-0.1,-1.3l0.5,-1.2M432.3,559.9l0.3,-0.2l-0.3,0.1l0.5,-1.2M475.9,633.1l1.1,1.0l-1.0,-0.5l-1.5,0.9l-0.1,1.7M425.7,588.0l1.3,1.4l-0.8,0.4l-1.5,0.6M479.7,637.0l-0.5,1.7l0.9,-0.1M433.6,557.5l-1.2,0.0l0.5,-1.3M427.8,553.4l1.1,1.4l0.4,1.5l0.2,0.2M433.2,539.9l0.3,-0.8l-1.5,0.2l-0.3,1.5M422.7,572.3l-1.2,-1.6l0.3,-0.9l0.4,1.4l0.8,-0.7M444.1,624.6l1.3,-0.5l1.5,0.3l-0.8,0.5M460.9,633.7l1.3,-1.7l0.4,0.8l-1.1,0.3M423.2,578.7l-0.9,0.5l1.2,0.7l-0.9,-1.6M427.9,599.4l0.6,0.2l0.2,-0.9M431.4,557.7l-1.6,-0.4l1.5,-0.1l1.6,0.4M458.7,626.1l-1.1,0.7l0.3,0.6M435.3,620.0l0.4,0.2l0.9,-0.7l-0.4,-0.2M462.3,629.1l0.1,-0.5l-1.2,-0.2l-1.3,-0.6l0.9,1.2M431.3,577.1l0.6,0.2l-1.4,0.6l0.7,-0.2M481.3,637.6l-0.7,-1.6l-1.2,1.1l-1.1,0.2M424.3,575.7l1.4,-0.2l0.5,-0.1l-1.1,-0.5M466.6,632.2l-0.5,0.1l0.3,1.4l-0.9,-0.5M435.1,614.7l0.3,-0.8l0.4,-0.1l1.0,1.0M433.8,578.1l-0.2,1.7l-0.0,1.7l0.4,0.4M436.4,599.8l0.1,0.2l0.2,1.5l0.8,-1.4M482.4,640.3l1.6,1.0l1.5,-1.3l-0.1,1.6M455.7,631.0l-0.1,-0.5l0.8,-0.3l-0.2,-0.9M432.9,563.9l-1.4,-0.9l-1.1,0.0M452.0,630.0l-0.6,1.7l-0.2,0.0M424.0,566.8l-1.3,-1.6l-1.6,1.3M466.8,631.6l-0.2,0.1l0.7,1.1l1.0,-0.9M432.5,586.7l-0.8,-1.7l1.6,-0.8l-0.3,0.9l-0.6,-0.3M468.0,636.2l0.0,-1.2l0.8,-0.8l-0.3,-0.9M444.9,623.4l0.2,-1.3l-0.0,-0.8l-0.7,1.5M438.2,612.2l-0.4,1.2l0.8,-1.2M440.4,619.1l-0.1,-1.6l0.2,-1.1l0.1,-0.9M461.5,633.0l0.5,0.2l0.5,-0.3l1.2,0.1l1.3,1.7M472.2,631.2l0.3,-1.5l-0.7,0.5l-1.2,-0.2M432.8,597.1l1.3,-0.6l-0.6,-0.2M433.9,607.7l-0.2,-0.2l0.5,-0.6l1.1,-0.3l0.2,0.1M478.8,630.9l0.5,-1.2l1.5,-0.5M450.5,626.3l0.9,-0.9l-0.6,0.8M458.7,623.8l-0.1,-0.4l-1.5,0.2l1.5,0.1l0.8,-1.5M471.4,636.1l-0.1,-1.0l0.9,0.4l1.2,0.2M425.6,581.3l-1.2,-0.8l-1.3,-1.6l0.1,0.8l-0.3,1.4M433.4,579.1l-1.2,-0.4l-0.4,-0.6M423.9,598.4l-0.8,-1.1l1.4,-1.0l-1.3,-0.0M424.1,583.5l-1.5,-0.5l-0.6,0.4l-1.7,0.9l-1.4,-0.3M441.0,611.3l-0.9,0.4l-0.3,1.5l-0.2,-0.8M433.1,589.7l1.1,0.5l1.0,1.1M433.7,606.0l0.6,1.4l-0.1,0.1l0.6,-1.2M432.5,608.4l-1.6,1.1l-0.4,1.1l-1.3,-0.2M435.2,621.7l1.7,0.2l0.8,0.3l-0.1,-1.1M449.6,625.4l0.2,1.0l-0.4,-0.6l-0.9,-0.6M459.7,631.7l-0.4,1.0l-0.7,1.7M474.3,634.2l0.5,-0.5l0.5,-1.0M435.1,614.0l0.8,0.4l1.6,1.6l0.9,-0.6M438.5,616.5l-1.6,-0.1l-0.8,0.2l0.8,1.2l0.0,0.7M478.5,635.4l1.3,-0.6l1.4,-0.0l1.6,1.2l0.7,-0.4M434.0,610.9l0.6,-0.8l1.5,-0.3M440.2,608.7l1.6,-0.7l-1.4,0.6l-1.5,-1.1M421.5,588.1l1.7,0.8l0.2,0.4M425.1,602.4l-1.4,1.1l1.2,0.7l-1.0,0.9M432.6,537.1l0.8,-0.4l-0.9,-0.2M447.2,620.3l0.0,1.6l-0.1,-0.2l0.5,1.0l0.3,1.5M432.3,584.0l-0.7,-0.1l1.5,0.6M478.9,637.2l1.6,1.2l1.6,1.4l-0.7,-1.4l1.5,1.5M458.7,624.1l1.6,-1.6l-0.1,1.2l0.4,-0.5M428.7,610.0l-0.0,-0.2l-1.4,-1.3M426.4,571.3l1.0,0.1l1.4,1.7l1.0,-0.5l-0.8,0.4M427.2,557.7l0.9,0.1l1.2,-0.0l-0.4,1.7l-0.9,-0.4M427.8,592.1l-0.2,1.6l-1.4,-0.1l0.5,-1.6M476.3,636.2l0.8,-0.1l-1.1,0.4M461.7,632.0l1.0,0.5l0.2,-1.1M457.8,634.2l-0.9,0.3l-1.0,-1.2l1.0,0.2M477.8,639.3l-0.3,-0.5l1.5,0.4M425.9,571.3l-0.6,-0.3l0.7,0.3M440.3,613.8l1.2,-0.2l-1.1,-0.7l0.4,-1.4l1.4,-0.9M425.8,607.2l-0.1,1.4l-0.8,0.4l0.3,-1.7M483.2,636.2l0.2,-0.9l-0.9,-1.4l-1.5,0.3M437.8,551.7l-0.3,-0.2l-1.1,0.9M468.8,633.9l-0.9,1.4l1.3,-0.0l1.0,-0.5M465.2,628.9l1.0,1.1l-0.2,-0.7l-1.6,-0.1M462.0,634.7l0.7,0.8l0.6,1.4l0.3,0.5M429.8,589.7l-1.1,1.0l-0.0,0.8l-0.5,1.5M427.4,602.8l0.0,0.0l1.7,1.3l-0.2,1.1M458.0,623.9l-1.6,-0.4l0.3,0.9l0.3,1.4M426.5,564.8l-1.5,-1.5l-1.3,-1.6M435.5,613.5l1.6,-1.4l0.4,0.8l1.6,0.8M426.0,562.0l1.2,-1.6l-0.8,-1.4M447.8,629.2l-1.2,1.4l0.0,0.0l1.0,1.5M472.4,633.0l0.2,0.5l-1.5,-1.0l0.3,0.8M429.2,551.2l0.3,0.3l-1.7,-1.5l1.1,0.4M484.8,637.8l1.5,-1.2l-0.2,-1.4l0.2,-0.9M433.8,620.0l1.7,-0.3l-1.4,0.1M438.6,618.1l0.0,-0.9l1.0,-1.6l-1.6,-0.5M437.7,612.4l0.3,-0.8l-0.3,0.8l-1.4,-0.2M423.2,580.6l-1.6,-0.9l-0.8,-1.1l1.1,0.6l1.3,-1.2M431.9,537.9l-0.6,0.4l-1.7,0.2M425.9,606.3l-0.2,-1.0l-0.9,1.7l0.7,0.8M435.3,596.8l0.1,-0.3l-1.3,-0.8l-1.1,0.4M432.7,619.5l0.5,1.6l0.6,-0.7l0.6,1.7M452.4,629.0l0.1,1.4l1.1,-0.4M467.2,632.9l1.3,-0.3l1.6,0.4l0.0,1.1M431.4,594.9l1.0,-0.8l1.7,-0.5M440.7,624.4l-0.0,-0.2l1.5,0.3l0.6,-0.4M425.5,600.4l0.7,-1.0l-1.6,1.3l1.0,0.7M441.1,609.8l-1.2,-1.5l0.5,0.7l0.3,0.3M433.7,574.0l0.8,-1.5l0.9,1.4M426.8,559.6l-0.6,1.5l0.5,-0.2l-1.2,-1.5M456.5,627.2l-0.8,0.3l0.7,-0.1l1.0,1.0l-1.4,0.7M442.5,612.9l0.6,-0.9l0.8,0.1l-0.9,-1.1M470.5,633.8l-1.4,0.4l1.3,0.9M451.1,619.4l-1.4,-0.4l0.3,-0.5l1.2,1.3l1.6,-1.5M452.3,619.5l-1.4,0.1l-1.1,-1.2M466.4,631.2l1.0,-0.7l0.8,0.3l0.5,-1.6M434.7,596.9l-0.1,0.4l-0.4,-0.8M484.5,637.2l0.9,-1.6l1.0,1.0l1.1,-0.1M431.5,541.1l0.2,-1.7l-0.9,0.8l-0.2,-0.4M465.6,631.0l1.4,1.6l0.9,1.0l0.7,-0.3M457.7,629.7l0.9,1.5l1.3,-0.2l-1.4,-1.4M429.2,552.3l1.0,0.5l1.4,-1.3l-0.7,-0.3M469.5,631.0l0.8,1.1l0.1,0.6l1.2,1.1l-1.2,-1.6M461.0,627.0l-1.1,-1.2l0.5,0.4l-1.2,1.4M432.5,574.0l1.4,-0.2l-0.3,-0.9l1.2,-0.6l1.4,-1.6M426.5,607.0l-1.6,-1.1l-0.9,1.1l-1.6,-1.6M427.9,601.5l0.7,0.3l-0.3,-0.2l0.5,-1.4M450.2,623.5l-0.3,0.1l1.1,0.6l-1.0,-1.2M432.4,584.9l0.7,-0.4l0.8,0.0l1.5,0.0l0.5,0.6M444.9,626.9l1.0,-1.6l0.2,1.6l-0.8,-0.7M431.2,616.2l0.1,-1.1l-1.1,0.6l0.1,-0.3M435.4,615.4l-1.0,0.1l1.1,-1.3M460.7,630.2l0.0,-1.3l0.8,-1.0l-0.4,0.3M431.3,583.9l-0.7,-0.0l0.2,-1.3M477.4,635.4l0.6,1.7l-0.5,-0.3l0.7,-1.6M424.2,594.3l0.3,-0.3l1.4,1.1l-1.1,1.4M452.4,628.4l1.4,1.3l-0.1,-0.4l0.7,0.6l-1.4,0.0M427.3,585.2l-1.2,-0.2l0.9,-0.4l-1.6,0.1M427.7,566.2l0.9,1.4l1.3,-1.5M474.8,637.7l-0.7,-1.4l1.0,-0.8l1.6,-1.1M424.8,583.6l-0.9,1.6l-0.7,-0.0M441.1,609.2l-1.2,-0.1l1.1,0.6l-0.8,-1.5M449.2,627.8l0.1,-0.6l1.5,-0.2M466.0,637.3l-1.0,-0.5l-1.1,0.8l1.2,-1.0M434.6,554.6l1.4,-1.1l0.5,0.3l1.6,-1.5l1.7,-1.5M434.4,573.0l1.5,-1.6l-0.8,0.3M430.3,611.5l1.1,-0.0l1.2,0.9l-0.3,0.7M434.1,619.6l-0.9,0.1l-0.8,1.5l1.5,1.4M427.1,607.9l-0.6,-0.1l0.8,1.4l-0.8,-1.3M442.0,620.3l1.7,-0.6l-1.6,-1.3l-0.9,0.8l0.8,-0.5M471.3,637.1l1.0,-0.7l1.4,0.4l0.6,0.3M428.5,573.1l-0.8,0.9l1.7,0.6l-1.1,0.4M434.4,560.0l0.0,-0.3l0.2,1.4l0.3,0.8M482.4,637.1l-1.7,-0.2l-1.3,-0.5l1.2,-1.0l-0.2,1.3M471.5,634.9l-0.0,-1.6l1.3,1.3l0.9,-0.8M457.8,625.2l-0.6,-0.8l0.2,-0.7l0.8,-0.7M474.7,639.0l-0.8,0.5l-0.5,0.0l-0.8,0.1M455.5,623.5l1.3,-0.1l1.2,1.4l-0.3,-0.3M448.6,627.3l1.1,0.8l1.6,0.9l-1.3,-0.6M476.3,638.7l0.2,0.8l0.9,-0.2l1.3,-1.0M465.2,634.8l0.8,0.2l-1.5,-1.4M446.3,622.7l0.2,-1.3l-0.9,0.8l-1.3,-0.4M477.3,637.1l0.0,-1.0l-0.6,1.6l-0.1,-0.2M424.8,565.3l1.5,1.6l0.6,-1.3l0.6,-0.1M430.7,614.6l0.8,0.8l-0.3,0.2l-0.7,0.5l-0.2,1.0M423.9,586.9l-0.3,1.1l1.6,-1.5l0.5,1.1M435.1,609.4l0.4,-0.5l-1.6,-1.3l0.6,0.7M484.4,639.0l1.6,0.8l1.2,-1.0l-0.8,0.8M429.6,565.7l-0.1,0.8l-1.6,0.6l1.2,-0.3M463.1,629.2l-0.6,-1.7l-0.3,0.3l1.4,-1.4l0.8,-0.6M449.1,619.6l0.7,1.3l0.9,1.6l-1.6,1.4M428.3,554.5l1.2,-1.6l0.1,-0.3l1.4,0.4M421.7,576.4l-0.9,-0.8l-1.6,-0.2l1.2,-0.4l-1.5,-0.5M476.4,631.5l-1.1,0.8l-0.5,-1.6l0.5,-0.8l1.3,-1.1M451.2,627.1l-1.6,1.1l-0.8,-1.5l-0.9,1.6M451.9,622.9l0.1,-1.2l-0.6,-0.7l-0.1,1.5M459.9,630.3l-1.2,0.5l-0.7,0.0l0.7,1.6M441.6,617.3l-0.1,1.5l-0.2,1.5M431.0,568.4l1.2,0.9l1.1,1.7M431.5,550.0l-0.4,-0.5l-0.3,-1.5M437.2,559.6l0.4,-0.5l-1.5,1.0l-0.9,-0.9l0.2,0.9M424.8,564.2l1.0,1.4l-1.6,-1.1M432.6,561.9l-0.7,-0.9l0.4,0.7l1.3,0.0l-1.5,-1.6M428.0,597.7l0.8,1.3l1.2,-0.4M434.9,618.4l0.7,1.3l1.6,1.6l1.1,0.6M462.9,635.2l0.1,1.3l-0.6,-1.0l0.4,0.4l-1.4,1.1M440.8,622.2l0.7,-1.0l0.6,-1.1l-0.9,0.9l-1.2,-0.3M432.4,555.6l-0.1,0.4l0.4,-0.3l-0.1,0.7l-1.6,-1.6M454.3,620.3l-0.7,0.6l-1.1,-1.4l-1.5,1.2l0.1,-1.6M429.0,598.0l1.2,1.0l-1.6,0.2M484.2,635.8l0.5,-1.6l-1.5,1.1l1.2,-0.8l1.5,1.1M436.1,555.4l1.4,1.1l-1.0,-0.3l-1.5,-0.6M440.7,614.6l0.2,-0.2l-1.1,1.0M429.2,598.7l0.5,0.7l-0.8,0.9M471.6,634.8l-1.3,-0.7l1.2,-1.7l0.5,1.4M467.6,635.3l-0.2,-1.2l-0.2,-1.6l-1.0,1.3l-1.4,0.1M474.3,631.8l1.2,1.6l-1.0,-1.1l0.7,-1.5M429.7,558.1l-1.3,-1.0l-0.5,1.6l-1.1,-0.3M434.3,620.3l-0.9,0.8l-1.4,1.6l-0.8,-1.2M430.1,606.5l-0.9,-1.6l1.0,-0.7l-0.8,1.2l1.6,0.2M457.8,634.7l1.6,-0.9l0.4,0.6l-0.4,-0.8l-0.2,0.7M449.4,628.1l0.2,0.6l0.6,0.5l1.6,0.7M434.2,591.3l1.1,0.7l-0.5,-1.7M483.8,640.0l-0.2,-1.0l-1.6,-1.2l-0.5,-0.5M432.2,584.6l0.8,-1.2l-1.3,-1.6l-1.4,-1.6M426.6,592.8l-1.4,-1.3l1.0,1.6l-0.9,0.6l0.9,1.3M430.6,565.3l-1.0,1.0l-1.5,-1.1l0.7,-1.4M473.6,630.8l1.3,-0.9l0.4,-1.6l-1.0,-0.6l0.8,1.7M430.6,576.9l0.2,0.5l0.7,-0.4l-0.4,-1.1M446.6,625.2l-0.5,1.1l1.0,-0.3l-1.1,1.3M424.5,604.3l-0.0,1.5l1.2,-1.2l-0.8,-1.3l1.0,1.4M435.2,619.3l-0.2,-1.3l1.6,-1.7l1.0,-1.6M425.7,587.3l0.7,-1.5l-0.7,-0.8l-0.1,-0.3M428.0,553.2l1.6,0.3l-1.0,0.4l-0.0,-0.7l1.0,-0.8M421.1,590.7l-1.2,-1.5l-0.9,-1.3l-1.7,1.3l0.1,1.2M456.5,633.3l1.4,1.3l1.3,-0.2M466.3,627.4l-0.2,1.0l-0.1,1.5M477.1,636.8l-1.4,-0.1l-0.9,-1.3l1.0,0.5l-0.1,1.4M432.2,599.0l0.0,1.3l0.0,-1.5l1.6,-0.9M424.0,592.0l1.5,1.1l-1.5,-1.6l1.7,-0.0M468.7,628.0l-1.5,-1.5l0.0,0.5l-1.4,-1.4l1.3,-1.5M426.0,597.2l-0.8,-0.9l0.8,1.5l-0.9,-0.7l-0.3,-1.5M432.9,552.1l-0.1,0.2l0.5,0.8l1.4,1.6M434.1,555.4l0.2,-0.6l-1.7,-0.5l-0.6,-1.4M427.2,565.9l-0.6,-0.5l-0.3,0.7l-0.8,0.7l1.3,-0.2M432.1,599.2l1.4,-0.4l0.5,-1.6l-0.9,0.5M433.3,580.2l1.7,-0.7l1.7,-0.3l-1.4,-0.1l1.5,0.2M439.9,604.8l0.7,-1.1l0.7,1.6l1.1,-1.6l-0.7,-1.7M458.5,624.1l0.2,1.0l-1.2,-0.1l0.4,-1.5M447.9,618.0l0.5,0.3l-0.1,-0.2l0.3,-0.6l1.0,0.2M420.4,579.0l-1.4,-0.1l0.9,-0.2l1.3,-0.5M432.0,615.2l1.5,-0.7l1.5,-1.3M423.2,589.6l1.7,0.5l-0.9,1.6M472.9,638.2l-1.5,-0.4l0.6,1.2l-0.5,-0.3M449.3,626.2l-1.5,0.1l-1.2,0.2l-0.9,0.2l0.6,-1.0M426.2,581.4l-0.7,1.7l-1.3,-1.1l1.2,-1.6M427.2,571.3l0.2,-0.8l-0.8,-1.0M462.5,636.4l0.2,-0.5l1.4,-1.0l-0.7,1.3M432.4,615.0l1.4,-1.4l0.3,0.6M469.6,637.1l-1.5,-1.6l0.0,-0.1M450.3,624.8l1.6,-1.2l1.3,1.7l-0.9,-1.6l1.0,-1.3M428.5,604.0l1.1,-0.8l0.5,-0.5l-0.7,1.6M442.6,617.7l-0.7,0.3l-0.5,0.7M469.0,633.2l-1.2,1.3l1.1,-1.0M463.6,635.5l-0.5,0.9l1.1,1.3l-1.5,-0.3l-0.3,-0.9M437.2,560.4l-0.3,-1.6l0.1,0.6l1.3,1.6M447.2,628.0l-1.5,0.3l0.0,0.3M477.2,632.8l1.7,0.2l0.4,-0.4l1.0,-0.7M440.4,609.7l0.3,0.1l1.1,-1.6l0.4,-1.5M462.7,633.4l1.4,1.0l0.7,1.6l-1.3,-1.5l-1.0,-1.3M483.4,635.8l-1.0,-1.7l1.3,1.6l-0.6,0.3M428.0,602.4l0.4,0.6l0.2,-0.3l-0.0,-1.3M431.7,596.2l-1.4,0.3l0.7,-0.5l0.1,-0.4M427.7,562.7l0.2,1.2l-0.9,0.6l0.8,0.4l0.6,-0.1M435.9,613.1l-1.1,1.2l0.1,-1.6M442.9,621.1l0.8,-1.6l0.3,-1.0l-0.8,0.7M424.3,572.9l-0.2,-0.8l1.5,-0.8l1.1,-0.9M430.8,570.2l-1.4,-0.4l1.4,1.4M434.7,612.3l-0.9,1.2l-1.2,-0.1M435.4,556.4l-0.0,-0.9l-0.6,0.4l-0.8,-1.5M483.1,634.7l-0.4,0.3l0.7,0.1M460.4,632.5l-1.2,-0.3l1.3,-1.6l-1.1,0.1M454.7,625.5l0.4,-1.5l1.3,0.7l-1.0,0.9M421.8,576.2l0.6,-0.7l-1.0,-0.8l1.3,1.5M434.0,607.1l-1.5,1.3l-1.3,1.3l1.2,1.0M458.2,632.2l-1.0,-0.2l-1.4,0.6M451.5,631.9l0.4,1.4l1.3,-0.9l-0.4,-1.6M458.0,630.2l0.6,0.1l-0.5,0.7l1.7,0.5M450.3,623.7l0.8,1.3l0.3,0.8l-0.9,-1.0l0.0,1.7M484.2,638.1l-1.4,1.1l-0.9,-0.9l-1.6,-0.5l1.5,-0.5M430.1,594.0l-1.6,1.0l1.0,1.0l0.3,-1.3M454.9,627.3l-1.0,1.2l-1.2,1.4l-1.3,-1.2M424.8,579.5l-0.5,1.5l-0.4,1.3l1.3,0.0l1.4,1.6M447.0,622.0l-0.2,-0.6l1.6,0.5l-0.0,-1.4M444.6,627.7l1.0,0.6l0.1,0.1l-0.7,0.8l-0.8,-0.5M446.5,622.1l0.4,-0.7l0.9,-0.4l-1.2,-1.7M421.6,589.8l1.4,0.6l-0.2,-1.1l-1.6,0.3M478.7,630.4l0.2,0.1l-0.1,1.0M431.5,614.2l1.4,-0.8l-0.1,-0.6l0.8,-0.3M421.5,587.0l-0.5,1.0l-0.5,1.2l1.3,-1.6M471.9,633.4l-1.3,-0.8l0.6,0.5l1.3,-0.2M430.7,546.6l-0.5,-0.1l-1.7,0.4l1.4,-1.2M430.4,557.6l-0.9,0.8l-1.1,-0.7l0.1,0.2l-0.2,-0.4M450.5,624.3l0.9,1.0l-0.5,-1.0l1.5,0.9M464.1,629.3l-0.8,1.7l-0.2,-0.2l-1.5,-1.2M466.8,626.5l0.8,0.1l-1.2,-0.5l-1.5,1.7M438.4,609.3l1.4,1.1l-1.6,-0.3l1.6,-0.5M474.8,630.1l-1.1,-1.7l1.1,-1.6l0.6,0.0M430.4,585.3l1.7,1.7l-1.0,-1.2l-1.7,-1.3M434.2,592.2l-1.1,0.3l0.9,-1.2l-0.8,-1.3l-0.5,0.5M433.7,597.0l-0.3,1.4l1.6,-0.8l0.3,1.6l-0.7,1.7M438.7,614.3l-1.0,1.7l0.3,0.2l-1.1,-0.8M468.2,634.5l-0.2,-0.1l0.2,0.9l-1.2,-1.0M460.1,632.5l-0.5,1.5l-1.2,-0.7M433.9,615.1l0.8,-0.4l1.6,0.4l-0.5,-0.5M421.1,585.4l-1.4,-1.6l1.4,-0.5l0.8,1.3M422.4,585.4l-1.3,-1.6l-0.1,-1.2M440.8,608.4l-0.5,-0.5l-0.4,1.6l-1.6,-0.5M475.1,638.1l-1.2,-0.3l-0.7,1.5l-0.2,0.7M423.6,599.6l-0.0,0.7l0.8,0.7l0.9,-1.0l0.5,1.0M457.6,632.0l0.5,-0.9l0.3,-0.6l0.2,1.0l1.2,1.6M452.4,625.8l0.0,0.2l1.6,-0.0M465.8,627.1l-1.7,0.9l0.7,0.7M425.4,565.6l0.9,-1.1l-0.5,-0.0M432.8,546.1l0.8,-1.3l-0.1,-1.2l0.6,1.6l0.7,-1.4M423.9,570.3l-0.3,-0.3l-0.5,0.5l-0.1,0.7" fill="none" stroke="#202020" stroke-width=".85" stroke-linejoin="round"/><circle class="dot" cx="206.3" cy="50.2" r="2.7"/><circle class="dot" cx="260.3" cy="93.5" r="2.7"/><circle class="dot" cx="262.4" cy="96.7" r="2.7"/><circle class="dot" cx="269.6" cy="96.7" r="2.7"/><circle class="dot" cx="307.1" cy="111.3" r="2.7"/><circle class="dot" cx="330.7" cy="71.8" r="2.7"/><circle class="dot" cx="433.8" cy="140.8" r="2.7"/><circle class="dot" cx="441.1" cy="140.8" r="2.7"/><circle class="dot" cx="467.4" cy="179.9" r="2.7"/><circle class="dot" cx="478.6" cy="200.9" r="2.7"/><circle class="dot" cx="463.5" cy="251.6" r="2.7"/><circle class="dot" cx="515.6" cy="297.5" r="2.7"/><circle class="dot" cx="523.4" cy="305.2" r="2.7"/><circle class="dot" cx="433.9" cy="327.4" r="2.7"/><circle class="dot" cx="477.0" cy="345.8" r="2.7"/><circle class="dot" cx="509.7" cy="390.8" r="2.7"/><circle class="dot" cx="543.2" cy="420.7" r="2.7"/><circle class="dot" cx="583.2" cy="394.7" r="2.7"/><circle class="dot" cx="478.5" cy="633.4" r="2.7"/><text class="num" x="262.5" y="92.0" textLength="5.5" lengthAdjust="spacingAndGlyphs">9</text><text class="num" x="255.7" y="106.6" textLength="10.9" lengthAdjust="spacingAndGlyphs">19</text><text class="num" x="276.8" y="100.6" textLength="5.5" lengthAdjust="spacingAndGlyphs">8</text><text class="num" x="307.4" y="107.2" textLength="5.5" lengthAdjust="spacingAndGlyphs">4</text><text class="num" x="330.8" y="67.2" textLength="5.5" lengthAdjust="spacingAndGlyphs">7</text><text class="num" x="433.9" y="137.2" textLength="5.5" lengthAdjust="spacingAndGlyphs">6</text><text class="num" x="452.0" y="145.3" textLength="10.9" lengthAdjust="spacingAndGlyphs">16</text><text class="num" x="467.6" y="175.7" textLength="5.5" lengthAdjust="spacingAndGlyphs">2</text><text class="num" x="479.1" y="196.7" textLength="10.9" lengthAdjust="spacingAndGlyphs">10</text><text class="num" x="463.9" y="247.7" textLength="10.9" lengthAdjust="spacingAndGlyphs">14</text><text class="num" x="515.9" y="293.5" textLength="5.5" lengthAdjust="spacingAndGlyphs">5</text><text class="num" x="514.0" y="309.5" textLength="10.9" lengthAdjust="spacingAndGlyphs">12</text><text class="num" x="433.2" y="323.0" textLength="10.9" lengthAdjust="spacingAndGlyphs">11</text><text class="num" x="476.7" y="341.7" textLength="5.5" lengthAdjust="spacingAndGlyphs">1</text><text class="num" x="509.9" y="386.6" textLength="10.9" lengthAdjust="spacingAndGlyphs">17</text><text class="num" x="543.8" y="416.5" textLength="10.9" lengthAdjust="spacingAndGlyphs">15</text><text class="num" x="583.0" y="390.3" textLength="5.5" lengthAdjust="spacingAndGlyphs">3</text><text class="num" x="479.1" y="628.7" textLength="10.9" lengthAdjust="spacingAndGlyphs">18</text><text class="cty" x="421.5" y="197.5" textLength="39.4" lengthAdjust="spacingAndGlyphs">Colombia</text><text class="cty" x="420.4" y="306.1" textLength="19.8" lengthAdjust="spacingAndGlyphs">Peru</text><text class="cty" x="575.9" y="308.6" textLength="23.6" lengthAdjust="spacingAndGlyphs">Brazil</text><text class="cty" x="489.5" y="356.1" textLength="26.9" lengthAdjust="spacingAndGlyphs">Bolivia</text><text class="cty" x="528.4" y="396.0" textLength="39.7" lengthAdjust="spacingAndGlyphs">Paraguay</text><text class="cty" x="479.7" y="486.5" textLength="40.5" lengthAdjust="spacingAndGlyphs">Argentina</text></g>
<g id="ovl"><text class="num" x="206.6" y="46.1" textLength="10.9" lengthAdjust="spacingAndGlyphs">13</text><text class="cty" x="211.4" y="64.3" textLength="29.3" lengthAdjust="spacingAndGlyphs">Mexico</text><text class="cty" x="479.8" y="169.5" textLength="43.6" lengthAdjust="spacingAndGlyphs">Venezuela</text></g>
<g id="ovr"><text class="num" x="200.5" y="46.1" textLength="10.9" lengthAdjust="spacingAndGlyphs">13</text><text class="cty" x="214.1" y="54.7" textLength="29.5" lengthAdjust="spacingAndGlyphs">Mexico</text><text class="cty" x="474.8" y="168.9" textLength="43.6" lengthAdjust="spacingAndGlyphs">Venezuela</text></g>
<g id="elev" clip-path="url(#lc)"><rect x="150" y="-20" width="640" height="700" fill="#f7fcb6"/><g filter="url(#speck)"><path d="M333.9,119.3C335.7,117.2 346.1,115.2 349.5,116.2C352.9,117.2 354.4,122.7 354.1,125.5C353.8,128.3 350.5,132.8 347.9,133.3C345.3,133.8 340.9,130.9 338.6,128.6C336.3,126.3 332.1,121.4 333.9,119.3Z" fill="#87cc5a"/><path d="M371.3,156.9C372.9,157.0 377.5,157.9 380.6,157.7C383.7,157.4 386.6,155.4 390.0,155.4C393.4,155.4 399.1,157.3 400.9,157.7" fill="none" stroke="#87cc5a" stroke-width="4" stroke-linecap="round" stroke-linejoin="round"/><path d="M396.2,257.3C396.7,256.0 402.4,258.6 405.5,260.4C408.6,262.2 412.6,265.3 414.9,268.2C417.2,271.1 418.2,274.1 419.5,277.5C420.8,280.9 421.9,284.5 422.7,288.4C423.5,292.3 425.0,298.6 424.2,300.9C423.4,303.2 419.6,304.2 418.0,302.4C416.4,300.6 416.2,293.9 414.9,290.0C413.6,286.1 412.3,282.7 410.2,279.1C408.1,275.5 404.7,271.8 402.4,268.2C400.1,264.6 395.7,258.6 396.2,257.3Z" fill="#87cc5a"/><path d="M486.5,181.0C487.3,178.9 492.1,178.7 494.2,179.5C496.3,180.3 498.7,183.6 499.2,185.7C499.7,187.8 499.0,191.2 497.4,192.2C495.8,193.2 491.4,193.8 489.6,191.9C487.8,190.0 485.7,183.1 486.5,181.0Z" fill="#87cc5a" stroke="#87cc5a" stroke-width="6" stroke-linejoin="round"/><path d="M495.8,188.8C497.4,186.5 502.2,186.3 505.1,187.3C508.0,188.3 511.3,191.9 512.9,195.0C514.5,198.1 515.3,203.0 514.5,205.9C513.7,208.8 510.9,211.4 508.3,212.2C505.7,213.0 501.0,212.4 498.9,210.6C496.8,208.8 496.3,204.9 495.8,201.3C495.3,197.7 494.2,191.1 495.8,188.8Z" fill="#87cc5a" stroke="#87cc5a" stroke-width="6" stroke-linejoin="round"/><path d="M517.6,176.4C519.3,174.8 525.4,174.0 528.5,174.8C531.6,175.6 535.1,178.7 536.3,181.0C537.5,183.3 537.3,187.2 535.5,188.8C533.7,190.4 528.2,191.2 525.4,190.4C522.5,189.6 519.7,186.5 518.4,184.2C517.1,181.9 515.9,178.0 517.6,176.4Z" fill="#87cc5a" stroke="#87cc5a" stroke-width="6" stroke-linejoin="round"/><path d="M494.2,210.6C495.5,209.4 503.0,208.4 505.1,209.1C507.2,209.8 508.0,213.8 506.7,215.0C505.4,216.2 499.5,216.9 497.4,216.2C495.3,215.5 492.9,211.8 494.2,210.6Z" fill="#87cc5a" stroke="#87cc5a" stroke-width="6" stroke-linejoin="round"/><path d="M534.7,177.9C536.0,176.4 542.5,177.7 544.1,179.5C545.7,181.3 545.7,187.3 544.4,188.8C543.1,190.3 537.9,190.3 536.3,188.5C534.7,186.7 533.4,179.4 534.7,177.9Z" fill="#87cc5a" stroke="#87cc5a" stroke-width="6" stroke-linejoin="round"/><path d="M442.7,497.7C444.5,492.5 452.8,494.6 456.7,497.7C460.6,500.8 465.0,508.6 466.0,516.4C467.0,524.2 464.4,531.9 462.9,544.4C461.3,556.9 460.1,580.7 456.7,591.1C453.3,601.5 446.1,606.6 442.7,606.6C439.3,606.6 436.4,598.9 436.4,591.1C436.4,583.3 441.1,570.3 442.7,559.9C444.3,549.5 445.8,539.2 445.8,528.8C445.8,518.4 440.9,502.9 442.7,497.7Z" fill="#87cc5a" stroke="#87cc5a" stroke-width="4" stroke-linejoin="round"/><path d="M621.7,292.1C626.4,285.6 634.6,280.8 643.4,276.6C652.2,272.5 666.8,269.8 674.6,267.2C682.4,264.6 684.9,261.0 690.1,261.0C695.3,261.0 700.5,264.6 705.7,267.2C710.9,269.8 718.4,271.9 721.3,276.6C724.1,281.3 725.4,289.2 722.8,295.2C720.2,301.2 710.1,305.6 705.7,312.4C701.3,319.1 699.0,327.7 696.4,335.7C693.8,343.7 693.7,352.3 690.1,360.6C686.5,368.9 682.4,378.2 674.6,385.5C666.8,392.8 651.2,399.0 643.4,404.2C635.6,409.4 631.0,410.6 627.9,416.6C624.8,422.6 627.9,434.3 624.8,440.0C621.7,445.7 615.7,450.1 609.2,450.9C602.7,451.7 591.4,450.4 585.9,444.7C580.4,439.0 576.5,424.9 576.5,416.6C576.5,408.3 585.1,401.1 585.9,394.9C586.7,388.7 582.8,385.5 581.2,379.3C579.6,373.1 576.5,363.7 576.5,357.5C576.5,351.3 576.8,345.0 581.2,341.9C585.6,338.8 597.3,343.2 603.0,338.8C608.7,334.4 612.3,323.3 615.4,315.5C618.5,307.7 617.0,298.6 621.7,292.1Z" fill="#87cc5a"/><path d="M534.4,315.4C537.3,313.5 549.2,315.4 554.5,318.3C559.8,321.2 567.1,329.4 566.1,332.7C565.1,336.0 553.6,338.9 548.8,338.4C544.0,337.9 539.7,333.6 537.3,329.8C534.9,326.0 531.5,317.3 534.4,315.4Z" fill="#87cc5a"/></g><g filter="url(#rough)"><path d="M484.7,344.8C485.2,344.0 490.9,348.8 494.0,351.0C497.1,353.2 500.0,355.8 503.4,358.0C506.8,360.2 511.8,361.6 514.2,364.3C516.7,367.0 518.2,371.0 518.1,374.4C518.0,377.8 515.3,381.8 513.5,384.5C511.7,387.2 508.4,388.0 507.2,390.7C506.0,393.4 506.9,397.0 506.5,400.8C506.1,404.6 506.4,408.6 504.9,413.3C503.4,418.0 499.7,424.9 497.4,428.9C495.1,432.8 492.8,436.8 491.2,437.0C489.6,437.2 487.1,433.6 487.8,430.4C488.5,427.2 493.3,422.4 495.6,418.0C497.9,413.6 500.5,408.7 501.8,404.0C503.1,399.3 503.1,394.6 503.4,389.9C503.7,385.2 504.2,380.0 503.4,375.9C502.6,371.8 500.8,368.4 498.7,365.0C496.6,361.6 493.2,359.1 490.9,355.7C488.6,352.3 484.2,345.6 484.7,344.8Z" fill="#87cc5a"/><path d="M487.8,347.9C489.4,348.4 497.8,355.8 501.8,358.8C505.8,361.8 509.8,363.2 511.9,365.8C514.0,368.4 514.6,371.7 514.2,374.4C513.8,377.1 511.2,381.2 509.6,382.2C508.1,383.2 505.9,382.2 504.9,380.6C503.9,379.0 504.7,375.7 503.7,372.8C502.7,369.9 500.9,366.4 499.0,363.5C497.1,360.6 494.4,358.3 492.5,355.7C490.6,353.1 486.2,347.4 487.8,347.9Z" fill="#0e8c3c"/><path d="M461.6,354.2C462.7,352.1 467.5,358.5 469.1,361.9C470.7,365.3 471.4,369.7 471.4,374.4C471.4,379.1 469.9,384.7 469.1,389.9C468.3,395.1 467.3,400.3 466.8,405.5C466.3,410.7 466.6,415.9 466.0,421.1C465.4,426.3 464.1,431.4 462.9,436.6C461.7,441.8 460.0,447.0 459.0,452.2C458.0,457.4 457.6,465.2 456.7,467.8C455.8,470.4 453.6,470.9 453.5,467.8C453.4,464.7 455.0,455.3 455.9,449.1C456.8,442.9 458.2,436.6 459.0,430.4C459.8,424.2 460.2,417.9 460.6,411.7C461.0,405.5 461.0,399.3 461.3,393.1C461.6,386.9 462.6,380.9 462.6,374.4C462.7,367.9 460.5,356.3 461.6,354.2Z" fill="#87cc5a"/><path d="M400.9,264.3C402.1,263.9 407.6,265.3 410.2,267.4C412.8,269.5 414.8,273.4 416.4,276.8C418.0,280.2 419.1,284.2 419.9,287.7C420.7,291.2 421.7,296.0 421.4,297.8C421.1,299.6 419.2,300.1 418.0,298.5C416.8,296.9 415.5,291.8 414.1,288.4C412.7,285.0 411.2,281.4 409.4,278.3C407.6,275.2 404.6,272.1 403.2,269.8C401.8,267.5 399.7,264.7 400.9,264.3Z" fill="#87cc5a"/><path d="M181.4,4.1C190.5,-1.6 226.2,1.5 235.9,4.1C245.6,6.7 238.0,14.5 239.3,19.7C240.7,24.9 242.7,29.8 244.0,35.2C245.3,40.7 245.8,47.2 247.1,52.4C248.4,57.6 249.6,62.5 251.7,66.4C253.8,70.3 257.2,73.1 259.5,75.7C261.8,78.3 264.1,79.4 265.7,81.9C267.3,84.4 268.2,87.4 269.3,90.5C270.4,93.6 273.2,98.1 272.0,100.6C270.8,103.1 265.7,105.5 262.3,105.6C258.9,105.6 254.5,102.7 251.4,100.9C248.3,99.1 247.0,96.2 243.6,94.7C240.2,93.2 235.1,93.1 231.2,91.6C227.3,90.0 223.7,87.5 220.3,85.4C216.9,83.3 214.1,81.4 211.0,79.1C207.9,76.8 203.9,74.5 201.6,71.4C199.3,68.3 198.8,64.4 197.0,60.5C195.2,56.6 193.3,51.7 190.7,48.0C188.1,44.3 182.9,45.7 181.4,38.4C179.9,31.1 172.3,9.8 181.4,4.1Z" fill="#87cc5a"/><path d="M201.6,4.1C204.4,1.7 225.2,1.5 231.2,4.1C237.2,6.7 235.6,14.2 237.4,19.7C239.2,25.1 240.8,31.3 242.1,36.8C243.4,42.2 244.1,47.6 245.5,52.4C246.9,57.2 248.6,62.0 250.6,65.6C252.6,69.2 255.8,72.0 257.7,74.2C259.6,76.4 262.3,77.5 262.3,78.8C262.3,80.1 260.3,83.5 257.7,81.9C255.1,80.4 249.9,73.8 246.8,69.5C243.7,65.2 241.6,60.4 239.0,55.8C236.4,51.2 233.8,46.2 231.2,41.8C228.6,37.4 226.2,33.2 223.4,29.3C220.6,25.4 217.7,22.6 214.1,18.4C210.5,14.2 198.8,6.5 201.6,4.1Z" fill="#0e8c3c"/><path d="M193.8,47.7C195.4,48.7 198.5,56.2 201.6,60.1C204.7,64.0 208.6,67.6 212.5,71.0C216.4,74.4 220.8,77.7 225.0,80.4C229.2,83.1 233.2,85.1 237.4,87.4C241.6,89.7 246.0,92.2 249.9,94.4C253.8,96.6 259.5,99.2 260.8,100.6C262.1,102.0 260.0,103.3 257.7,102.9C255.4,102.5 250.7,100.2 246.8,98.3C242.9,96.4 238.5,93.8 234.3,91.6C230.2,89.4 226.1,87.6 221.9,85.0C217.8,82.4 213.2,79.1 209.4,76.0C205.6,72.9 202.2,70.1 199.3,66.4C196.5,62.7 193.2,57.0 192.3,53.9C191.4,50.8 192.2,46.7 193.8,47.7Z" fill="#0e8c3c"/><path d="M186.1,10.3C187.7,8.5 190.7,10.6 193.8,11.9C196.9,13.2 200.9,14.9 204.7,18.1C208.5,21.4 212.4,26.6 216.4,31.4C220.4,36.2 224.9,41.9 228.4,47.1C231.9,52.4 234.6,58.5 237.7,62.9C240.8,67.3 243.8,71.2 247.1,73.8C250.4,76.4 255.4,76.6 257.7,78.5C260.0,80.4 262.2,83.8 261.1,85.0C260.1,86.2 254.8,86.7 251.4,85.8C248.0,84.9 244.1,82.2 240.5,79.6C236.9,77.0 233.2,73.4 229.6,70.3C226.0,67.2 222.1,64.5 218.7,60.9C215.3,57.3 212.5,52.6 209.4,48.5C206.3,44.4 202.9,39.6 200.1,36.0C197.2,32.4 194.9,28.9 192.3,26.7C189.7,24.5 185.5,25.5 184.5,22.8C183.5,20.1 184.5,12.1 186.1,10.3Z" fill="#68962f"/><path d="M195.4,22.8C196.9,22.6 201.6,24.6 204.7,27.5C207.8,30.4 211.0,35.8 214.1,39.9C217.2,44.0 220.6,48.5 223.4,52.4C226.2,56.3 228.3,60.1 231.2,63.3C234.0,66.5 239.5,69.7 240.5,71.8C241.5,73.9 239.5,76.3 237.4,75.7C235.3,75.1 231.2,70.8 228.1,67.9C225.0,65.1 221.8,62.0 218.7,58.6C215.6,55.2 212.2,51.3 209.4,47.7C206.6,44.1 203.9,39.9 201.6,36.8C199.3,33.7 196.4,31.3 195.4,29.0C194.4,26.7 193.9,23.1 195.4,22.8Z" fill="#cdaf1e"/><path d="M182.9,16.6C184.2,15.4 188.6,18.4 190.7,20.5C192.8,22.6 193.8,26.0 195.7,29.3C197.6,32.6 201.6,38.1 201.9,40.2C202.2,42.3 199.1,43.1 197.3,41.8C195.5,40.5 193.4,34.8 191.0,32.4C188.6,30.0 184.2,30.1 182.9,27.5C181.6,24.9 181.6,17.8 182.9,16.6Z" fill="#e67d00"/><path d="M237.4,72.9C239.5,72.5 246.4,74.0 249.9,74.9C253.4,75.8 257.6,77.0 258.4,78.5C259.2,80.0 257.3,83.4 254.9,83.8C252.5,84.2 246.9,81.8 244.0,80.7C241.1,79.6 238.5,78.6 237.4,77.3C236.3,76.0 235.3,73.3 237.4,72.9Z" fill="#e67d00"/><path d="M240.5,77.3C241.8,77.5 246.0,78.1 248.3,78.8C250.6,79.5 253.5,80.8 254.5,81.2" fill="none" stroke="#a82000" stroke-width="1.6" stroke-linecap="round" stroke-linejoin="round"/><path d="M281.3,97.2C281.6,95.8 285.5,94.6 287.5,94.1C289.5,93.6 290.8,93.0 293.4,94.1C295.9,95.2 299.9,98.4 302.8,100.6C305.7,102.8 308.5,105.0 310.9,107.1C313.3,109.2 316.6,111.6 317.1,113.4C317.6,115.2 316.1,117.5 314.0,118.0C311.9,118.5 307.7,118.0 304.3,116.5C300.9,115.0 296.5,111.0 293.4,108.7C290.3,106.4 287.7,104.4 285.7,102.5C283.7,100.6 281.0,98.6 281.3,97.2Z" fill="#87cc5a"/><path d="M285.7,97.5C286.7,96.6 290.5,95.5 293.4,96.3C296.2,97.1 299.9,100.2 302.8,102.5C305.7,104.8 309.9,107.8 310.9,109.9C311.9,112.1 310.6,114.8 309.0,115.4C307.4,116.0 303.8,114.9 301.2,113.4C298.6,111.9 295.7,108.2 293.4,106.2C291.1,104.2 288.5,103.0 287.2,101.5C285.9,100.0 284.7,98.4 285.7,97.5Z" fill="#0e8c3c"/><path d="M294.2,98.7C295.2,98.4 298.3,99.0 300.5,100.6C302.7,102.2 306.9,106.6 307.5,108.4C308.1,110.2 305.7,111.5 304.3,111.2C302.9,110.9 300.5,108.3 298.9,106.8C297.3,105.3 295.5,103.5 294.7,102.2C293.9,100.9 293.2,99.0 294.2,98.7Z" fill="#cdaf1e"/><path d="M296.6,100.6C297.4,101.2 299.6,103.1 301.2,104.5C302.8,105.9 305.1,108.4 305.9,109.2" fill="none" stroke="#e67d00" stroke-width="2.2" stroke-linecap="round" stroke-linejoin="round"/><path d="M320.2,110.7C322.0,108.8 328.0,105.7 332.4,105.0C336.8,104.3 343.8,105.4 346.7,106.8C349.6,108.2 349.9,110.5 349.8,113.4C349.8,116.3 347.9,122.7 346.4,124.0C344.8,125.3 343.3,121.9 340.5,121.2C337.7,120.5 332.8,120.4 329.6,119.6C326.4,118.8 323.1,118.0 321.5,116.5C319.9,115.0 318.4,112.6 320.2,110.7Z" fill="#87cc5a"/><path d="M349.8,143.9C351.3,144.7 355.7,147.0 358.8,148.9C361.9,150.8 365.7,153.2 368.2,155.1C370.7,157.0 375.2,161.8 373.6,160.5C372.0,159.2 360.0,148.7 358.8,147.6C357.6,146.5 364.5,152.2 366.6,153.8C368.7,155.4 370.5,156.4 371.3,156.9" fill="none" stroke="#87cc5a" stroke-width="5.5" stroke-linecap="round" stroke-linejoin="round"/><path d="M349.8,143.9C351.3,144.7 355.7,147.0 358.8,148.9C361.9,150.8 365.7,153.2 368.2,155.1C370.7,157.0 375.2,161.8 373.6,160.5C372.0,159.2 360.0,148.7 358.8,147.6C357.6,146.5 364.5,152.2 366.6,153.8C368.7,155.4 370.5,156.4 371.3,156.9" fill="none" stroke="#0e8c3c" stroke-width="3.4" stroke-linecap="round" stroke-linejoin="round"/><path d="M349.8,143.9C351.3,144.7 355.7,147.0 358.8,148.9C361.9,150.8 365.7,153.2 368.2,155.1C370.7,157.0 372.7,159.6 373.6,160.5" fill="none" stroke="#cdaf1e" stroke-width="2.0" stroke-linecap="round" stroke-linejoin="round"/><path d="M349.8,143.9C351.3,144.7 355.7,147.0 358.8,148.9C361.9,150.8 365.7,153.2 368.2,155.1C370.7,157.0 372.7,159.6 373.6,160.5" fill="none" stroke="#e67d00" stroke-width="1.0" stroke-linecap="round" stroke-linejoin="round"/><path d="M443.2,145.6C442.9,146.8 442.1,150.5 441.6,153.0C441.1,155.5 439.9,158.3 440.1,160.8C440.3,163.3 442.4,166.8 442.9,168.0" fill="none" stroke="#87cc5a" stroke-width="7.199999999999999" stroke-linecap="round" stroke-linejoin="round"/><path d="M418.0,173.6C417.7,174.8 417.1,177.9 416.4,181.0C415.7,184.1 414.6,188.5 413.6,191.9C412.6,195.3 410.8,200.0 410.2,201.6" fill="none" stroke="#87cc5a" stroke-width="7.4399999999999995" stroke-linecap="round" stroke-linejoin="round"/><path d="M468.6,148.0C467.5,149.1 464.1,152.7 461.9,154.6C459.7,156.5 457.4,157.6 455.3,159.2C453.2,160.8 450.9,162.3 449.4,163.9C447.9,165.5 446.6,167.1 446.3,168.9C446.0,170.7 448.2,173.0 447.6,174.8C447.0,176.6 444.5,177.9 442.9,179.5C441.3,181.1 439.8,182.4 438.2,184.2C436.6,186.0 435.1,188.3 433.5,190.4C431.9,192.5 430.4,194.5 428.9,196.6C427.3,198.7 426.0,200.7 424.2,202.8C422.4,204.9 420.1,207.3 418.0,209.1C415.9,210.9 413.6,212.1 411.8,213.7C410.0,215.2 408.7,216.8 407.1,218.4C405.5,220.0 403.2,222.6 402.4,223.4" fill="none" stroke="#87cc5a" stroke-width="10.2" stroke-linecap="round" stroke-linejoin="round"/><path d="M422.7,170.1C422.9,171.2 423.6,174.1 423.6,176.4C423.6,178.8 423.3,181.6 422.7,184.2C422.1,186.8 420.9,189.3 419.9,191.9C418.8,194.5 417.8,197.1 416.4,199.7C415.0,202.3 413.4,204.9 411.8,207.5C410.2,210.1 408.7,212.7 407.1,215.3C405.5,218.0 403.2,222.1 402.4,223.4" fill="none" stroke="#87cc5a" stroke-width="10.2" stroke-linecap="round" stroke-linejoin="round"/><path d="M402.4,223.4C401.9,224.9 400.4,229.6 399.6,232.4C398.8,235.2 398.4,237.6 397.7,240.2C397.0,242.8 396.5,245.4 395.6,248.0C394.7,250.6 393.2,253.6 392.5,255.7C391.8,257.8 391.1,258.6 391.5,260.7C391.9,262.8 394.1,266.9 394.6,268.2" fill="none" stroke="#87cc5a" stroke-width="15.600000000000001" stroke-linecap="round" stroke-linejoin="round"/><path d="M392.5,255.7C392.3,256.5 391.1,258.6 391.5,260.7C391.9,262.8 393.3,265.9 394.6,268.2C395.9,270.5 397.7,272.1 399.3,274.4C400.9,276.7 402.4,279.6 404.0,282.2C405.6,284.8 407.2,287.7 408.6,290.0C410.0,292.3 411.5,295.2 412.1,296.2" fill="none" stroke="#87cc5a" stroke-width="18.0" stroke-linecap="round" stroke-linejoin="round"/><path d="M443.2,145.6C442.9,146.8 442.1,150.5 441.6,153.0C441.1,155.5 439.9,158.3 440.1,160.8C440.3,163.3 442.4,166.8 442.9,168.0" fill="none" stroke="#0e8c3c" stroke-width="5.64" stroke-linecap="round" stroke-linejoin="round"/><path d="M418.0,173.6C417.7,174.8 417.1,177.9 416.4,181.0C415.7,184.1 414.6,188.5 413.6,191.9C412.6,195.3 410.8,200.0 410.2,201.6" fill="none" stroke="#0e8c3c" stroke-width="5.828" stroke-linecap="round" stroke-linejoin="round"/><path d="M468.6,148.0C467.5,149.1 464.1,152.7 461.9,154.6C459.7,156.5 457.4,157.6 455.3,159.2C453.2,160.8 450.9,162.3 449.4,163.9C447.9,165.5 446.6,167.1 446.3,168.9C446.0,170.7 448.2,173.0 447.6,174.8C447.0,176.6 444.5,177.9 442.9,179.5C441.3,181.1 439.8,182.4 438.2,184.2C436.6,186.0 435.1,188.3 433.5,190.4C431.9,192.5 430.4,194.5 428.9,196.6C427.3,198.7 426.0,200.7 424.2,202.8C422.4,204.9 420.1,207.3 418.0,209.1C415.9,210.9 413.6,212.1 411.8,213.7C410.0,215.2 408.7,216.8 407.1,218.4C405.5,220.0 403.2,222.6 402.4,223.4" fill="none" stroke="#0e8c3c" stroke-width="7.99" stroke-linecap="round" stroke-linejoin="round"/><path d="M422.7,170.1C422.9,171.2 423.6,174.1 423.6,176.4C423.6,178.8 423.3,181.6 422.7,184.2C422.1,186.8 420.9,189.3 419.9,191.9C418.8,194.5 417.8,197.1 416.4,199.7C415.0,202.3 413.4,204.9 411.8,207.5C410.2,210.1 408.7,212.7 407.1,215.3C405.5,218.0 403.2,222.1 402.4,223.4" fill="none" stroke="#0e8c3c" stroke-width="7.99" stroke-linecap="round" stroke-linejoin="round"/><path d="M402.4,223.4C401.9,224.9 400.4,229.6 399.6,232.4C398.8,235.2 398.4,237.6 397.7,240.2C397.0,242.8 396.5,245.4 395.6,248.0C394.7,250.6 393.2,253.6 392.5,255.7C391.8,257.8 391.1,258.6 391.5,260.7C391.9,262.8 394.1,266.9 394.6,268.2" fill="none" stroke="#0e8c3c" stroke-width="12.22" stroke-linecap="round" stroke-linejoin="round"/><path d="M392.5,255.7C392.3,256.5 391.1,258.6 391.5,260.7C391.9,262.8 393.3,265.9 394.6,268.2C395.9,270.5 397.7,272.1 399.3,274.4C400.9,276.7 402.4,279.6 404.0,282.2C405.6,284.8 407.2,287.7 408.6,290.0C410.0,292.3 411.5,295.2 412.1,296.2" fill="none" stroke="#0e8c3c" stroke-width="14.100000000000001" stroke-linecap="round" stroke-linejoin="round"/><path d="M443.2,145.6C442.9,146.8 442.1,150.5 441.6,153.0C441.1,155.5 439.9,158.3 440.1,160.8C440.3,163.3 442.4,166.8 442.9,168.0" fill="none" stroke="#68962f" stroke-width="4.32" stroke-linecap="round" stroke-linejoin="round"/><path d="M418.0,173.6C417.7,174.8 417.1,177.9 416.4,181.0C415.7,184.1 414.6,188.5 413.6,191.9C412.6,195.3 410.8,200.0 410.2,201.6" fill="none" stroke="#68962f" stroke-width="4.464" stroke-linecap="round" stroke-linejoin="round"/><path d="M468.6,148.0C467.5,149.1 464.1,152.7 461.9,154.6C459.7,156.5 457.4,157.6 455.3,159.2C453.2,160.8 450.9,162.3 449.4,163.9C447.9,165.5 446.6,167.1 446.3,168.9C446.0,170.7 448.2,173.0 447.6,174.8C447.0,176.6 444.5,177.9 442.9,179.5C441.3,181.1 439.8,182.4 438.2,184.2C436.6,186.0 435.1,188.3 433.5,190.4C431.9,192.5 430.4,194.5 428.9,196.6C427.3,198.7 426.0,200.7 424.2,202.8C422.4,204.9 420.1,207.3 418.0,209.1C415.9,210.9 413.6,212.1 411.8,213.7C410.0,215.2 408.7,216.8 407.1,218.4C405.5,220.0 403.2,222.6 402.4,223.4" fill="none" stroke="#68962f" stroke-width="6.12" stroke-linecap="round" stroke-linejoin="round"/><path d="M422.7,170.1C422.9,171.2 423.6,174.1 423.6,176.4C423.6,178.8 423.3,181.6 422.7,184.2C422.1,186.8 420.9,189.3 419.9,191.9C418.8,194.5 417.8,197.1 416.4,199.7C415.0,202.3 413.4,204.9 411.8,207.5C410.2,210.1 408.7,212.7 407.1,215.3C405.5,218.0 403.2,222.1 402.4,223.4" fill="none" stroke="#68962f" stroke-width="6.12" stroke-linecap="round" stroke-linejoin="round"/><path d="M402.4,223.4C401.9,224.9 400.4,229.6 399.6,232.4C398.8,235.2 398.4,237.6 397.7,240.2C397.0,242.8 396.5,245.4 395.6,248.0C394.7,250.6 393.2,253.6 392.5,255.7C391.8,257.8 391.1,258.6 391.5,260.7C391.9,262.8 394.1,266.9 394.6,268.2" fill="none" stroke="#68962f" stroke-width="9.360000000000001" stroke-linecap="round" stroke-linejoin="round"/><path d="M392.5,255.7C392.3,256.5 391.1,258.6 391.5,260.7C391.9,262.8 393.3,265.9 394.6,268.2C395.9,270.5 397.7,272.1 399.3,274.4C400.9,276.7 402.4,279.6 404.0,282.2C405.6,284.8 407.2,287.7 408.6,290.0C410.0,292.3 411.5,295.2 412.1,296.2" fill="none" stroke="#68962f" stroke-width="10.8" stroke-linecap="round" stroke-linejoin="round"/><path d="M418.0,173.6C417.7,174.8 417.1,177.9 416.4,181.0C415.7,184.1 414.6,188.5 413.6,191.9C412.6,195.3 410.8,200.0 410.2,201.6" fill="none" stroke="#cdaf1e" stroke-width="3.472" stroke-linecap="round" stroke-linejoin="round"/><path d="M468.6,148.0C467.5,149.1 464.1,152.7 461.9,154.6C459.7,156.5 457.4,157.6 455.3,159.2C453.2,160.8 450.9,162.3 449.4,163.9C447.9,165.5 446.6,167.1 446.3,168.9C446.0,170.7 448.2,173.0 447.6,174.8C447.0,176.6 444.5,177.9 442.9,179.5C441.3,181.1 439.8,182.4 438.2,184.2C436.6,186.0 435.1,188.3 433.5,190.4C431.9,192.5 430.4,194.5 428.9,196.6C427.3,198.7 426.0,200.7 424.2,202.8C422.4,204.9 420.1,207.3 418.0,209.1C415.9,210.9 413.6,212.1 411.8,213.7C410.0,215.2 408.7,216.8 407.1,218.4C405.5,220.0 403.2,222.6 402.4,223.4" fill="none" stroke="#cdaf1e" stroke-width="4.76" stroke-linecap="round" stroke-linejoin="round"/><path d="M422.7,170.1C422.9,171.2 423.6,174.1 423.6,176.4C423.6,178.8 423.3,181.6 422.7,184.2C422.1,186.8 420.9,189.3 419.9,191.9C418.8,194.5 417.8,197.1 416.4,199.7C415.0,202.3 413.4,204.9 411.8,207.5C410.2,210.1 408.7,212.7 407.1,215.3C405.5,218.0 403.2,222.1 402.4,223.4" fill="none" stroke="#cdaf1e" stroke-width="4.76" stroke-linecap="round" stroke-linejoin="round"/><path d="M402.4,223.4C401.9,224.9 400.4,229.6 399.6,232.4C398.8,235.2 398.4,237.6 397.7,240.2C397.0,242.8 396.5,245.4 395.6,248.0C394.7,250.6 393.2,253.6 392.5,255.7C391.8,257.8 391.1,258.6 391.5,260.7C391.9,262.8 394.1,266.9 394.6,268.2" fill="none" stroke="#cdaf1e" stroke-width="7.279999999999999" stroke-linecap="round" stroke-linejoin="round"/><path d="M392.5,255.7C392.3,256.5 391.1,258.6 391.5,260.7C391.9,262.8 393.3,265.9 394.6,268.2C395.9,270.5 397.7,272.1 399.3,274.4C400.9,276.7 402.4,279.6 404.0,282.2C405.6,284.8 407.2,287.7 408.6,290.0C410.0,292.3 411.5,295.2 412.1,296.2" fill="none" stroke="#cdaf1e" stroke-width="8.399999999999999" stroke-linecap="round" stroke-linejoin="round"/><path d="M468.6,148.0C467.5,149.1 464.1,152.7 461.9,154.6C459.7,156.5 457.4,157.6 455.3,159.2C453.2,160.8 450.9,162.3 449.4,163.9C447.9,165.5 446.6,167.1 446.3,168.9C446.0,170.7 448.2,173.0 447.6,174.8C447.0,176.6 444.5,177.9 442.9,179.5C441.3,181.1 439.8,182.4 438.2,184.2C436.6,186.0 435.1,188.3 433.5,190.4C431.9,192.5 430.4,194.5 428.9,196.6C427.3,198.7 426.0,200.7 424.2,202.8C422.4,204.9 420.1,207.3 418.0,209.1C415.9,210.9 413.6,212.1 411.8,213.7C410.0,215.2 408.7,216.8 407.1,218.4C405.5,220.0 403.2,222.6 402.4,223.4" fill="none" stroke="#e67d00" stroke-width="3.57" stroke-linecap="round" stroke-linejoin="round"/><path d="M422.7,170.1C422.9,171.2 423.6,174.1 423.6,176.4C423.6,178.8 423.3,181.6 422.7,184.2C422.1,186.8 420.9,189.3 419.9,191.9C418.8,194.5 417.8,197.1 416.4,199.7C415.0,202.3 413.4,204.9 411.8,207.5C410.2,210.1 408.7,212.7 407.1,215.3C405.5,218.0 403.2,222.1 402.4,223.4" fill="none" stroke="#e67d00" stroke-width="3.57" stroke-linecap="round" stroke-linejoin="round"/><path d="M402.4,223.4C401.9,224.9 400.4,229.6 399.6,232.4C398.8,235.2 398.4,237.6 397.7,240.2C397.0,242.8 396.5,245.4 395.6,248.0C394.7,250.6 393.2,253.6 392.5,255.7C391.8,257.8 391.1,258.6 391.5,260.7C391.9,262.8 394.1,266.9 394.6,268.2" fill="none" stroke="#e67d00" stroke-width="5.460000000000001" stroke-linecap="round" stroke-linejoin="round"/><path d="M392.5,255.7C392.3,256.5 391.1,258.6 391.5,260.7C391.9,262.8 393.3,265.9 394.6,268.2C395.9,270.5 397.7,272.1 399.3,274.4C400.9,276.7 402.4,279.6 404.0,282.2C405.6,284.8 407.2,287.7 408.6,290.0C410.0,292.3 411.5,295.2 412.1,296.2" fill="none" stroke="#e67d00" stroke-width="6.300000000000001" stroke-linecap="round" stroke-linejoin="round"/><path d="M468.6,148.0C467.5,149.1 464.1,152.7 461.9,154.6C459.7,156.5 457.4,157.6 455.3,159.2C453.2,160.8 450.9,162.3 449.4,163.9C447.9,165.5 446.6,167.1 446.3,168.9C446.0,170.7 448.2,173.0 447.6,174.8C447.0,176.6 444.5,177.9 442.9,179.5C441.3,181.1 439.8,182.4 438.2,184.2C436.6,186.0 435.1,188.3 433.5,190.4C431.9,192.5 430.4,194.5 428.9,196.6C427.3,198.7 426.0,200.7 424.2,202.8C422.4,204.9 420.1,207.3 418.0,209.1C415.9,210.9 413.6,212.1 411.8,213.7C410.0,215.2 408.7,216.8 407.1,218.4C405.5,220.0 403.2,222.6 402.4,223.4" fill="none" stroke="#a82000" stroke-width="2.38" stroke-linecap="round" stroke-linejoin="round"/><path d="M422.7,170.1C422.9,171.2 423.6,174.1 423.6,176.4C423.6,178.8 423.3,181.6 422.7,184.2C422.1,186.8 420.9,189.3 419.9,191.9C418.8,194.5 417.8,197.1 416.4,199.7C415.0,202.3 413.4,204.9 411.8,207.5C410.2,210.1 408.7,212.7 407.1,215.3C405.5,218.0 403.2,222.1 402.4,223.4" fill="none" stroke="#a82000" stroke-width="2.38" stroke-linecap="round" stroke-linejoin="round"/><path d="M402.4,223.4C401.9,224.9 400.4,229.6 399.6,232.4C398.8,235.2 398.4,237.6 397.7,240.2C397.0,242.8 396.5,245.4 395.6,248.0C394.7,250.6 393.2,253.6 392.5,255.7C391.8,257.8 391.1,258.6 391.5,260.7C391.9,262.8 394.1,266.9 394.6,268.2" fill="none" stroke="#a82000" stroke-width="3.6399999999999997" stroke-linecap="round" stroke-linejoin="round"/><path d="M392.5,255.7C392.3,256.5 391.1,258.6 391.5,260.7C391.9,262.8 393.3,265.9 394.6,268.2C395.9,270.5 397.7,272.1 399.3,274.4C400.9,276.7 402.4,279.6 404.0,282.2C405.6,284.8 407.2,287.7 408.6,290.0C410.0,292.3 411.5,295.2 412.1,296.2" fill="none" stroke="#a82000" stroke-width="4.199999999999999" stroke-linecap="round" stroke-linejoin="round"/><path d="M422.7,184.2C422.2,185.5 420.9,189.3 419.9,191.9C418.8,194.5 417.8,197.1 416.4,199.7C415.0,202.3 413.4,204.9 411.8,207.5C410.2,210.1 408.7,212.7 407.1,215.3C405.5,218.0 403.2,222.1 402.4,223.4" fill="none" stroke="#731405" stroke-width="1.0" stroke-linecap="round" stroke-linejoin="round"/><path d="M442.9,179.5C442.1,180.3 439.8,182.4 438.2,184.2C436.6,186.0 435.1,188.3 433.5,190.4C431.9,192.5 430.4,194.5 428.9,196.6C427.3,198.7 426.0,200.7 424.2,202.8C422.4,204.9 420.1,207.3 418.0,209.1C415.9,210.9 413.6,212.1 411.8,213.7C410.0,215.2 408.7,216.8 407.1,218.4C405.5,220.0 403.2,222.6 402.4,223.4" fill="none" stroke="#731405" stroke-width="1.0" stroke-linecap="round" stroke-linejoin="round"/><path d="M402.4,223.4C401.9,224.9 400.4,229.6 399.6,232.4C398.8,235.2 398.4,237.6 397.7,240.2C397.0,242.8 396.5,245.4 395.6,248.0C394.7,250.6 393.2,253.6 392.5,255.7C391.8,257.8 391.1,258.6 391.5,260.7C391.9,262.8 394.1,266.9 394.6,268.2" fill="none" stroke="#731405" stroke-width="2.6" stroke-linecap="round" stroke-linejoin="round"/><path d="M392.5,255.7C392.3,256.5 391.1,258.6 391.5,260.7C391.9,262.8 393.3,265.9 394.6,268.2C395.9,270.5 397.7,272.1 399.3,274.4C400.9,276.7 402.4,279.6 404.0,282.2C405.6,284.8 407.2,287.7 408.6,290.0C410.0,292.3 411.5,295.2 412.1,296.2" fill="none" stroke="#731405" stroke-width="5" stroke-linecap="round" stroke-linejoin="round"/><path d="M458.4,142.4C460.0,142.2 464.7,140.2 467.8,140.9C470.9,141.6 473.5,145.7 477.1,146.5C480.7,147.3 485.5,145.9 489.6,145.6C493.8,145.3 497.9,144.6 502.0,144.6C506.1,144.6 510.1,145.6 514.5,145.6C518.9,145.6 526.2,144.8 528.5,144.6" fill="none" stroke="#87cc5a" stroke-width="3.6" stroke-linecap="round" stroke-linejoin="round"/><path d="M458.4,142.4C460.0,142.2 464.7,140.2 467.8,140.9C470.9,141.6 473.5,145.7 477.1,146.5C480.7,147.3 487.5,145.8 489.6,145.6" fill="none" stroke="#0e8c3c" stroke-width="1.6" stroke-linecap="round" stroke-linejoin="round"/><circle cx="436.7" cy="142.9" r="3.2" fill="#87cc5a"/><circle cx="436.7" cy="142.9" r="2.1" fill="#68962f"/><circle cx="436.7" cy="142.9" r="1.2" fill="#731405"/><path d="M412.1,293.9C411.9,295.3 416.8,302.2 414.6,300.1C412.4,298.0 400.7,282.6 399.1,281.0C397.6,279.4 403.2,286.9 405.3,290.3C407.4,293.7 409.4,297.6 411.5,301.2C413.6,304.8 415.6,308.7 417.7,312.1C419.8,315.5 421.6,318.6 424.0,321.5C426.4,324.4 429.2,326.9 431.8,329.2C434.4,331.5 436.6,333.1 439.5,335.5C442.4,337.9 445.8,341.0 448.9,343.3C452.0,345.6 455.6,347.4 458.2,349.5C460.8,351.6 462.6,353.1 464.4,355.7C466.2,358.3 467.8,361.9 469.1,365.0C470.4,368.1 471.4,371.3 472.2,374.4C473.0,377.5 474.1,381.1 473.8,383.7C473.6,386.3 471.5,387.3 470.7,389.9C469.9,392.5 469.4,395.9 469.1,399.3C468.8,402.7 468.8,407.1 469.1,410.2C469.4,413.3 470.7,415.1 470.7,418.0C470.7,420.9 469.9,424.2 469.1,427.3C468.3,430.4 467.0,433.5 466.0,436.6C465.0,439.7 463.7,442.9 462.9,446.0C462.1,449.1 461.6,451.7 461.3,455.3C461.0,458.9 461.2,467.5 461.3,467.8C461.4,468.1 461.4,456.9 461.6,457.2C461.8,457.5 462.5,466.1 462.6,469.7C462.7,473.3 462.8,475.9 462.3,479.0C461.8,482.1 460.4,485.5 459.8,488.4C459.2,491.2 458.2,494.8 458.5,496.1C458.8,497.4 460.2,497.7 461.3,496.4C462.4,495.1 463.7,491.3 464.8,488.4C465.9,485.5 467.2,482.1 467.9,479.0C468.6,475.9 468.9,473.3 469.1,469.7C469.3,466.1 469.1,457.5 469.1,457.2C469.1,456.9 468.8,468.1 469.1,467.8C469.4,467.5 469.7,459.2 470.7,455.3C471.7,451.4 473.5,447.8 475.3,444.4C477.1,441.0 479.3,438.0 481.6,435.1C483.9,432.2 487.2,430.2 489.3,427.3C491.4,424.4 492.7,421.4 494.0,418.0C495.3,414.6 496.1,410.7 497.1,407.1C498.1,403.5 499.4,399.6 500.2,396.2C501.0,392.8 501.5,389.9 501.8,386.8C502.1,383.7 502.1,380.6 501.8,377.5C501.5,374.4 501.2,371.1 500.2,368.2C499.2,365.3 497.4,362.7 495.6,360.4C493.8,358.1 491.1,356.3 489.3,354.2C487.5,352.1 486.5,349.7 484.7,347.9C482.9,346.1 480.5,345.4 478.4,343.3C476.3,341.2 474.3,337.9 472.2,335.5C470.1,333.1 468.6,331.0 466.0,329.2C463.4,327.4 459.8,326.2 456.7,324.6C453.6,323.1 450.2,320.4 447.3,319.9C444.4,319.4 441.8,322.0 439.5,321.5C437.2,321.0 435.4,318.9 433.3,316.8C431.2,314.7 429.2,311.9 427.1,309.0C425.0,306.1 422.7,302.8 420.9,299.7C419.1,296.6 417.8,293.4 416.2,290.3C414.6,287.2 410.9,279.6 411.5,281.0C412.1,282.4 419.1,296.8 419.9,298.5C420.7,300.2 417.4,292.3 416.1,291.5C414.8,290.7 412.4,292.5 412.1,293.9Z" fill="#87cc5a" stroke="#87cc5a" stroke-width="16" stroke-linejoin="round"/><path d="M412.1,293.9C411.9,295.3 416.8,302.2 414.6,300.1C412.4,298.0 400.7,282.6 399.1,281.0C397.6,279.4 403.2,286.9 405.3,290.3C407.4,293.7 409.4,297.6 411.5,301.2C413.6,304.8 415.6,308.7 417.7,312.1C419.8,315.5 421.6,318.6 424.0,321.5C426.4,324.4 429.2,326.9 431.8,329.2C434.4,331.5 436.6,333.1 439.5,335.5C442.4,337.9 445.8,341.0 448.9,343.3C452.0,345.6 455.6,347.4 458.2,349.5C460.8,351.6 462.6,353.1 464.4,355.7C466.2,358.3 467.8,361.9 469.1,365.0C470.4,368.1 471.4,371.3 472.2,374.4C473.0,377.5 474.1,381.1 473.8,383.7C473.6,386.3 471.5,387.3 470.7,389.9C469.9,392.5 469.4,395.9 469.1,399.3C468.8,402.7 468.8,407.1 469.1,410.2C469.4,413.3 470.7,415.1 470.7,418.0C470.7,420.9 469.9,424.2 469.1,427.3C468.3,430.4 467.0,433.5 466.0,436.6C465.0,439.7 463.7,442.9 462.9,446.0C462.1,449.1 461.6,451.7 461.3,455.3C461.0,458.9 461.2,467.5 461.3,467.8C461.4,468.1 461.4,456.9 461.6,457.2C461.8,457.5 462.5,466.1 462.6,469.7C462.7,473.3 462.8,475.9 462.3,479.0C461.8,482.1 460.4,485.5 459.8,488.4C459.2,491.2 458.2,494.8 458.5,496.1C458.8,497.4 460.2,497.7 461.3,496.4C462.4,495.1 463.7,491.3 464.8,488.4C465.9,485.5 467.2,482.1 467.9,479.0C468.6,475.9 468.9,473.3 469.1,469.7C469.3,466.1 469.1,457.5 469.1,457.2C469.1,456.9 468.8,468.1 469.1,467.8C469.4,467.5 469.7,459.2 470.7,455.3C471.7,451.4 473.5,447.8 475.3,444.4C477.1,441.0 479.3,438.0 481.6,435.1C483.9,432.2 487.2,430.2 489.3,427.3C491.4,424.4 492.7,421.4 494.0,418.0C495.3,414.6 496.1,410.7 497.1,407.1C498.1,403.5 499.4,399.6 500.2,396.2C501.0,392.8 501.5,389.9 501.8,386.8C502.1,383.7 502.1,380.6 501.8,377.5C501.5,374.4 501.2,371.1 500.2,368.2C499.2,365.3 497.4,362.7 495.6,360.4C493.8,358.1 491.1,356.3 489.3,354.2C487.5,352.1 486.5,349.7 484.7,347.9C482.9,346.1 480.5,345.4 478.4,343.3C476.3,341.2 474.3,337.9 472.2,335.5C470.1,333.1 468.6,331.0 466.0,329.2C463.4,327.4 459.8,326.2 456.7,324.6C453.6,323.1 450.2,320.4 447.3,319.9C444.4,319.4 441.8,322.0 439.5,321.5C437.2,321.0 435.4,318.9 433.3,316.8C431.2,314.7 429.2,311.9 427.1,309.0C425.0,306.1 422.7,302.8 420.9,299.7C419.1,296.6 417.8,293.4 416.2,290.3C414.6,287.2 410.9,279.6 411.5,281.0C412.1,282.4 419.1,296.8 419.9,298.5C420.7,300.2 417.4,292.3 416.1,291.5C414.8,290.7 412.4,292.5 412.1,293.9Z" fill="#0e8c3c" stroke="#0e8c3c" stroke-width="12.5" stroke-linejoin="round"/><path d="M412.1,293.9C411.9,295.3 416.8,302.2 414.6,300.1C412.4,298.0 400.7,282.6 399.1,281.0C397.6,279.4 403.2,286.9 405.3,290.3C407.4,293.7 409.4,297.6 411.5,301.2C413.6,304.8 415.6,308.7 417.7,312.1C419.8,315.5 421.6,318.6 424.0,321.5C426.4,324.4 429.2,326.9 431.8,329.2C434.4,331.5 436.6,333.1 439.5,335.5C442.4,337.9 445.8,341.0 448.9,343.3C452.0,345.6 455.6,347.4 458.2,349.5C460.8,351.6 462.6,353.1 464.4,355.7C466.2,358.3 467.8,361.9 469.1,365.0C470.4,368.1 471.4,371.3 472.2,374.4C473.0,377.5 474.1,381.1 473.8,383.7C473.6,386.3 471.5,387.3 470.7,389.9C469.9,392.5 469.4,395.9 469.1,399.3C468.8,402.7 468.8,407.1 469.1,410.2C469.4,413.3 470.7,415.1 470.7,418.0C470.7,420.9 469.9,424.2 469.1,427.3C468.3,430.4 467.0,433.5 466.0,436.6C465.0,439.7 463.7,442.9 462.9,446.0C462.1,449.1 461.6,451.7 461.3,455.3C461.0,458.9 461.2,467.5 461.3,467.8C461.4,468.1 461.4,456.9 461.6,457.2C461.8,457.5 462.5,466.1 462.6,469.7C462.7,473.3 462.8,475.9 462.3,479.0C461.8,482.1 460.4,485.5 459.8,488.4C459.2,491.2 458.2,494.8 458.5,496.1C458.8,497.4 460.2,497.7 461.3,496.4C462.4,495.1 463.7,491.3 464.8,488.4C465.9,485.5 467.2,482.1 467.9,479.0C468.6,475.9 468.9,473.3 469.1,469.7C469.3,466.1 469.1,457.5 469.1,457.2C469.1,456.9 468.8,468.1 469.1,467.8C469.4,467.5 469.7,459.2 470.7,455.3C471.7,451.4 473.5,447.8 475.3,444.4C477.1,441.0 479.3,438.0 481.6,435.1C483.9,432.2 487.2,430.2 489.3,427.3C491.4,424.4 492.7,421.4 494.0,418.0C495.3,414.6 496.1,410.7 497.1,407.1C498.1,403.5 499.4,399.6 500.2,396.2C501.0,392.8 501.5,389.9 501.8,386.8C502.1,383.7 502.1,380.6 501.8,377.5C501.5,374.4 501.2,371.1 500.2,368.2C499.2,365.3 497.4,362.7 495.6,360.4C493.8,358.1 491.1,356.3 489.3,354.2C487.5,352.1 486.5,349.7 484.7,347.9C482.9,346.1 480.5,345.4 478.4,343.3C476.3,341.2 474.3,337.9 472.2,335.5C470.1,333.1 468.6,331.0 466.0,329.2C463.4,327.4 459.8,326.2 456.7,324.6C453.6,323.1 450.2,320.4 447.3,319.9C444.4,319.4 441.8,322.0 439.5,321.5C437.2,321.0 435.4,318.9 433.3,316.8C431.2,314.7 429.2,311.9 427.1,309.0C425.0,306.1 422.7,302.8 420.9,299.7C419.1,296.6 417.8,293.4 416.2,290.3C414.6,287.2 410.9,279.6 411.5,281.0C412.1,282.4 419.1,296.8 419.9,298.5C420.7,300.2 417.4,292.3 416.1,291.5C414.8,290.7 412.4,292.5 412.1,293.9Z" fill="#68962f" stroke="#68962f" stroke-width="9.4" stroke-linejoin="round"/><path d="M412.1,293.9C411.9,295.3 416.8,302.2 414.6,300.1C412.4,298.0 400.7,282.6 399.1,281.0C397.6,279.4 403.2,286.9 405.3,290.3C407.4,293.7 409.4,297.6 411.5,301.2C413.6,304.8 415.6,308.7 417.7,312.1C419.8,315.5 421.6,318.6 424.0,321.5C426.4,324.4 429.2,326.9 431.8,329.2C434.4,331.5 436.6,333.1 439.5,335.5C442.4,337.9 445.8,341.0 448.9,343.3C452.0,345.6 455.6,347.4 458.2,349.5C460.8,351.6 462.6,353.1 464.4,355.7C466.2,358.3 467.8,361.9 469.1,365.0C470.4,368.1 471.4,371.3 472.2,374.4C473.0,377.5 474.1,381.1 473.8,383.7C473.6,386.3 471.5,387.3 470.7,389.9C469.9,392.5 469.4,395.9 469.1,399.3C468.8,402.7 468.8,407.1 469.1,410.2C469.4,413.3 470.7,415.1 470.7,418.0C470.7,420.9 469.9,424.2 469.1,427.3C468.3,430.4 467.0,433.5 466.0,436.6C465.0,439.7 463.7,442.9 462.9,446.0C462.1,449.1 461.6,451.7 461.3,455.3C461.0,458.9 461.2,467.5 461.3,467.8C461.4,468.1 461.4,456.9 461.6,457.2C461.8,457.5 462.5,466.1 462.6,469.7C462.7,473.3 462.8,475.9 462.3,479.0C461.8,482.1 460.4,485.5 459.8,488.4C459.2,491.2 458.2,494.8 458.5,496.1C458.8,497.4 460.2,497.7 461.3,496.4C462.4,495.1 463.7,491.3 464.8,488.4C465.9,485.5 467.2,482.1 467.9,479.0C468.6,475.9 468.9,473.3 469.1,469.7C469.3,466.1 469.1,457.5 469.1,457.2C469.1,456.9 468.8,468.1 469.1,467.8C469.4,467.5 469.7,459.2 470.7,455.3C471.7,451.4 473.5,447.8 475.3,444.4C477.1,441.0 479.3,438.0 481.6,435.1C483.9,432.2 487.2,430.2 489.3,427.3C491.4,424.4 492.7,421.4 494.0,418.0C495.3,414.6 496.1,410.7 497.1,407.1C498.1,403.5 499.4,399.6 500.2,396.2C501.0,392.8 501.5,389.9 501.8,386.8C502.1,383.7 502.1,380.6 501.8,377.5C501.5,374.4 501.2,371.1 500.2,368.2C499.2,365.3 497.4,362.7 495.6,360.4C493.8,358.1 491.1,356.3 489.3,354.2C487.5,352.1 486.5,349.7 484.7,347.9C482.9,346.1 480.5,345.4 478.4,343.3C476.3,341.2 474.3,337.9 472.2,335.5C470.1,333.1 468.6,331.0 466.0,329.2C463.4,327.4 459.8,326.2 456.7,324.6C453.6,323.1 450.2,320.4 447.3,319.9C444.4,319.4 441.8,322.0 439.5,321.5C437.2,321.0 435.4,318.9 433.3,316.8C431.2,314.7 429.2,311.9 427.1,309.0C425.0,306.1 422.7,302.8 420.9,299.7C419.1,296.6 417.8,293.4 416.2,290.3C414.6,287.2 410.9,279.6 411.5,281.0C412.1,282.4 419.1,296.8 419.9,298.5C420.7,300.2 417.4,292.3 416.1,291.5C414.8,290.7 412.4,292.5 412.1,293.9Z" fill="#cdaf1e" stroke="#cdaf1e" stroke-width="7.2" stroke-linejoin="round"/><path d="M412.1,293.9C411.9,295.3 416.8,302.2 414.6,300.1C412.4,298.0 400.7,282.6 399.1,281.0C397.6,279.4 403.2,286.9 405.3,290.3C407.4,293.7 409.4,297.6 411.5,301.2C413.6,304.8 415.6,308.7 417.7,312.1C419.8,315.5 421.6,318.6 424.0,321.5C426.4,324.4 429.2,326.9 431.8,329.2C434.4,331.5 436.6,333.1 439.5,335.5C442.4,337.9 445.8,341.0 448.9,343.3C452.0,345.6 455.6,347.4 458.2,349.5C460.8,351.6 462.6,353.1 464.4,355.7C466.2,358.3 467.8,361.9 469.1,365.0C470.4,368.1 471.4,371.3 472.2,374.4C473.0,377.5 474.1,381.1 473.8,383.7C473.6,386.3 471.5,387.3 470.7,389.9C469.9,392.5 469.4,395.9 469.1,399.3C468.8,402.7 468.8,407.1 469.1,410.2C469.4,413.3 470.7,415.1 470.7,418.0C470.7,420.9 469.9,424.2 469.1,427.3C468.3,430.4 467.0,433.5 466.0,436.6C465.0,439.7 463.7,442.9 462.9,446.0C462.1,449.1 461.6,451.7 461.3,455.3C461.0,458.9 461.2,467.5 461.3,467.8C461.4,468.1 461.4,456.9 461.6,457.2C461.8,457.5 462.5,466.1 462.6,469.7C462.7,473.3 462.8,475.9 462.3,479.0C461.8,482.1 460.4,485.5 459.8,488.4C459.2,491.2 458.2,494.8 458.5,496.1C458.8,497.4 460.2,497.7 461.3,496.4C462.4,495.1 463.7,491.3 464.8,488.4C465.9,485.5 467.2,482.1 467.9,479.0C468.6,475.9 468.9,473.3 469.1,469.7C469.3,466.1 469.1,457.5 469.1,457.2C469.1,456.9 468.8,468.1 469.1,467.8C469.4,467.5 469.7,459.2 470.7,455.3C471.7,451.4 473.5,447.8 475.3,444.4C477.1,441.0 479.3,438.0 481.6,435.1C483.9,432.2 487.2,430.2 489.3,427.3C491.4,424.4 492.7,421.4 494.0,418.0C495.3,414.6 496.1,410.7 497.1,407.1C498.1,403.5 499.4,399.6 500.2,396.2C501.0,392.8 501.5,389.9 501.8,386.8C502.1,383.7 502.1,380.6 501.8,377.5C501.5,374.4 501.2,371.1 500.2,368.2C499.2,365.3 497.4,362.7 495.6,360.4C493.8,358.1 491.1,356.3 489.3,354.2C487.5,352.1 486.5,349.7 484.7,347.9C482.9,346.1 480.5,345.4 478.4,343.3C476.3,341.2 474.3,337.9 472.2,335.5C470.1,333.1 468.6,331.0 466.0,329.2C463.4,327.4 459.8,326.2 456.7,324.6C453.6,323.1 450.2,320.4 447.3,319.9C444.4,319.4 441.8,322.0 439.5,321.5C437.2,321.0 435.4,318.9 433.3,316.8C431.2,314.7 429.2,311.9 427.1,309.0C425.0,306.1 422.7,302.8 420.9,299.7C419.1,296.6 417.8,293.4 416.2,290.3C414.6,287.2 410.9,279.6 411.5,281.0C412.1,282.4 419.1,296.8 419.9,298.5C420.7,300.2 417.4,292.3 416.1,291.5C414.8,290.7 412.4,292.5 412.1,293.9Z" fill="#e67d00" stroke="#e67d00" stroke-width="5.0" stroke-linejoin="round"/><path d="M412.1,293.9C411.9,295.3 416.8,302.2 414.6,300.1C412.4,298.0 400.7,282.6 399.1,281.0C397.6,279.4 403.2,286.9 405.3,290.3C407.4,293.7 409.4,297.6 411.5,301.2C413.6,304.8 415.6,308.7 417.7,312.1C419.8,315.5 421.6,318.6 424.0,321.5C426.4,324.4 429.2,326.9 431.8,329.2C434.4,331.5 436.6,333.1 439.5,335.5C442.4,337.9 445.8,341.0 448.9,343.3C452.0,345.6 455.6,347.4 458.2,349.5C460.8,351.6 462.6,353.1 464.4,355.7C466.2,358.3 467.8,361.9 469.1,365.0C470.4,368.1 471.4,371.3 472.2,374.4C473.0,377.5 474.1,381.1 473.8,383.7C473.6,386.3 471.5,387.3 470.7,389.9C469.9,392.5 469.4,395.9 469.1,399.3C468.8,402.7 468.8,407.1 469.1,410.2C469.4,413.3 470.7,415.1 470.7,418.0C470.7,420.9 469.9,424.2 469.1,427.3C468.3,430.4 467.0,433.5 466.0,436.6C465.0,439.7 463.7,442.9 462.9,446.0C462.1,449.1 461.6,451.7 461.3,455.3C461.0,458.9 461.2,467.5 461.3,467.8C461.4,468.1 461.4,456.9 461.6,457.2C461.8,457.5 462.5,466.1 462.6,469.7C462.7,473.3 462.8,475.9 462.3,479.0C461.8,482.1 460.4,485.5 459.8,488.4C459.2,491.2 458.2,494.8 458.5,496.1C458.8,497.4 460.2,497.7 461.3,496.4C462.4,495.1 463.7,491.3 464.8,488.4C465.9,485.5 467.2,482.1 467.9,479.0C468.6,475.9 468.9,473.3 469.1,469.7C469.3,466.1 469.1,457.5 469.1,457.2C469.1,456.9 468.8,468.1 469.1,467.8C469.4,467.5 469.7,459.2 470.7,455.3C471.7,451.4 473.5,447.8 475.3,444.4C477.1,441.0 479.3,438.0 481.6,435.1C483.9,432.2 487.2,430.2 489.3,427.3C491.4,424.4 492.7,421.4 494.0,418.0C495.3,414.6 496.1,410.7 497.1,407.1C498.1,403.5 499.4,399.6 500.2,396.2C501.0,392.8 501.5,389.9 501.8,386.8C502.1,383.7 502.1,380.6 501.8,377.5C501.5,374.4 501.2,371.1 500.2,368.2C499.2,365.3 497.4,362.7 495.6,360.4C493.8,358.1 491.1,356.3 489.3,354.2C487.5,352.1 486.5,349.7 484.7,347.9C482.9,346.1 480.5,345.4 478.4,343.3C476.3,341.2 474.3,337.9 472.2,335.5C470.1,333.1 468.6,331.0 466.0,329.2C463.4,327.4 459.8,326.2 456.7,324.6C453.6,323.1 450.2,320.4 447.3,319.9C444.4,319.4 441.8,322.0 439.5,321.5C437.2,321.0 435.4,318.9 433.3,316.8C431.2,314.7 429.2,311.9 427.1,309.0C425.0,306.1 422.7,302.8 420.9,299.7C419.1,296.6 417.8,293.4 416.2,290.3C414.6,287.2 410.9,279.6 411.5,281.0C412.1,282.4 419.1,296.8 419.9,298.5C420.7,300.2 417.4,292.3 416.1,291.5C414.8,290.7 412.4,292.5 412.1,293.9Z" fill="#a82000" stroke="#a82000" stroke-width="2.8" stroke-linejoin="round"/><path d="M412.1,293.9C411.9,295.3 416.8,302.2 414.6,300.1C412.4,298.0 400.7,282.6 399.1,281.0C397.6,279.4 403.2,286.9 405.3,290.3C407.4,293.7 409.4,297.6 411.5,301.2C413.6,304.8 415.6,308.7 417.7,312.1C419.8,315.5 421.6,318.6 424.0,321.5C426.4,324.4 429.2,326.9 431.8,329.2C434.4,331.5 436.6,333.1 439.5,335.5C442.4,337.9 445.8,341.0 448.9,343.3C452.0,345.6 455.6,347.4 458.2,349.5C460.8,351.6 462.6,353.1 464.4,355.7C466.2,358.3 467.8,361.9 469.1,365.0C470.4,368.1 471.4,371.3 472.2,374.4C473.0,377.5 474.1,381.1 473.8,383.7C473.6,386.3 471.5,387.3 470.7,389.9C469.9,392.5 469.4,395.9 469.1,399.3C468.8,402.7 468.8,407.1 469.1,410.2C469.4,413.3 470.7,415.1 470.7,418.0C470.7,420.9 469.9,424.2 469.1,427.3C468.3,430.4 467.0,433.5 466.0,436.6C465.0,439.7 463.7,442.9 462.9,446.0C462.1,449.1 461.6,451.7 461.3,455.3C461.0,458.9 461.2,467.5 461.3,467.8C461.4,468.1 461.4,456.9 461.6,457.2C461.8,457.5 462.5,466.1 462.6,469.7C462.7,473.3 462.8,475.9 462.3,479.0C461.8,482.1 460.4,485.5 459.8,488.4C459.2,491.2 458.2,494.8 458.5,496.1C458.8,497.4 460.2,497.7 461.3,496.4C462.4,495.1 463.7,491.3 464.8,488.4C465.9,485.5 467.2,482.1 467.9,479.0C468.6,475.9 468.9,473.3 469.1,469.7C469.3,466.1 469.1,457.5 469.1,457.2C469.1,456.9 468.8,468.1 469.1,467.8C469.4,467.5 469.7,459.2 470.7,455.3C471.7,451.4 473.5,447.8 475.3,444.4C477.1,441.0 479.3,438.0 481.6,435.1C483.9,432.2 487.2,430.2 489.3,427.3C491.4,424.4 492.7,421.4 494.0,418.0C495.3,414.6 496.1,410.7 497.1,407.1C498.1,403.5 499.4,399.6 500.2,396.2C501.0,392.8 501.5,389.9 501.8,386.8C502.1,383.7 502.1,380.6 501.8,377.5C501.5,374.4 501.2,371.1 500.2,368.2C499.2,365.3 497.4,362.7 495.6,360.4C493.8,358.1 491.1,356.3 489.3,354.2C487.5,352.1 486.5,349.7 484.7,347.9C482.9,346.1 480.5,345.4 478.4,343.3C476.3,341.2 474.3,337.9 472.2,335.5C470.1,333.1 468.6,331.0 466.0,329.2C463.4,327.4 459.8,326.2 456.7,324.6C453.6,323.1 450.2,320.4 447.3,319.9C444.4,319.4 441.8,322.0 439.5,321.5C437.2,321.0 435.4,318.9 433.3,316.8C431.2,314.7 429.2,311.9 427.1,309.0C425.0,306.1 422.7,302.8 420.9,299.7C419.1,296.6 417.8,293.4 416.2,290.3C414.6,287.2 410.9,279.6 411.5,281.0C412.1,282.4 419.1,296.8 419.9,298.5C420.7,300.2 417.4,292.3 416.1,291.5C414.8,290.7 412.4,292.5 412.1,293.9Z" fill="#731405"/><path d="M394.6,268.2C395.4,269.2 397.7,272.1 399.3,274.4C400.9,276.7 402.4,279.6 404.0,282.2C405.6,284.8 407.2,287.7 408.6,290.0C410.0,292.3 413.7,297.7 412.1,296.2C410.5,294.7 400.2,282.0 399.1,281.0C398.0,280.0 404.3,288.8 405.3,290.3" fill="none" stroke="#a82000" stroke-width="6.4" stroke-linecap="round" stroke-linejoin="round"/><path d="M394.6,268.2C395.4,269.2 397.7,272.1 399.3,274.4C400.9,276.7 402.4,279.6 404.0,282.2C405.6,284.8 407.2,287.7 408.6,290.0C410.0,292.3 413.7,297.7 412.1,296.2C410.5,294.7 400.2,282.0 399.1,281.0C398.0,280.0 404.3,288.8 405.3,290.3" fill="none" stroke="#731405" stroke-width="4.8" stroke-linecap="round" stroke-linejoin="round"/><path d="M459.0,496.1C458.6,497.2 457.4,500.1 456.7,502.4C456.0,504.7 455.6,506.7 454.8,510.1C454.0,513.5 452.5,518.5 451.7,522.6C450.9,526.8 450.3,530.9 449.8,535.0C449.3,539.1 449.3,543.4 448.9,547.5C448.5,551.6 447.9,555.8 447.3,559.9C446.7,564.0 446.0,568.2 445.1,572.4C444.2,576.6 443.0,581.0 442.0,584.9C441.0,588.8 439.6,592.5 438.9,595.7C438.2,598.9 438.1,602.9 438.0,604.3" fill="none" stroke="#87cc5a" stroke-width="19.0" stroke-linecap="round" stroke-linejoin="round"/><path d="M459.0,496.1C458.6,497.2 457.4,500.1 456.7,502.4C456.0,504.7 455.6,506.7 454.8,510.1C454.0,513.5 452.5,518.5 451.7,522.6C450.9,526.8 450.3,530.9 449.8,535.0C449.3,539.1 449.3,543.4 448.9,547.5C448.5,551.6 447.9,555.8 447.3,559.9C446.7,564.0 446.0,568.2 445.1,572.4C444.2,576.6 443.0,581.0 442.0,584.9C441.0,588.8 439.6,592.5 438.9,595.7C438.2,598.9 438.1,602.9 438.0,604.3" fill="none" stroke="#0e8c3c" stroke-width="9.5" stroke-linecap="round" stroke-linejoin="round"/><path d="M459.0,496.1C458.6,497.2 457.4,500.1 456.7,502.4C456.0,504.7 455.6,506.7 454.8,510.1C454.0,513.5 452.5,518.5 451.7,522.6C450.9,526.8 450.3,530.9 449.8,535.0C449.3,539.1 449.3,543.4 448.9,547.5C448.5,551.6 447.9,555.8 447.3,559.9C446.7,564.0 446.0,568.2 445.1,572.4C444.2,576.6 443.0,581.0 442.0,584.9C441.0,588.8 439.6,592.5 438.9,595.7C438.2,598.9 438.1,602.9 438.0,604.3" fill="none" stroke="#68962f" stroke-width="3.0" stroke-linecap="round" stroke-linejoin="round"/><path d="M459.0,496.1C458.6,497.2 457.4,500.1 456.7,502.4C456.0,504.7 455.6,506.7 454.8,510.1C454.0,513.5 452.2,520.5 451.7,522.6" fill="none" stroke="#cdaf1e" stroke-width="1.4" stroke-linecap="round" stroke-linejoin="round"/><path d="M475.3,460.3C476.4,461.3 477.5,467.6 478.8,471.2C480.1,474.8 482.4,478.5 483.4,482.1C484.4,485.7 485.2,489.8 485.0,493.0C484.8,496.2 483.5,499.2 481.9,501.1C480.3,503.0 477.2,504.8 475.3,504.2C473.4,503.6 471.7,500.6 470.7,497.7C469.7,494.8 469.1,490.7 469.1,486.8C469.1,482.9 470.2,477.9 470.7,474.3C471.2,470.7 471.4,467.3 472.2,465.0C473.0,462.7 474.2,459.3 475.3,460.3Z" fill="#87cc5a"/><path d="M490.9,463.5C492.7,461.4 496.1,459.9 498.7,458.8C501.3,457.8 504.9,455.9 506.5,457.2C508.1,458.5 509.3,463.8 508.3,466.6C507.3,469.5 503.2,472.4 500.6,474.3C498.0,476.2 494.6,478.3 492.5,477.8C490.4,477.3 488.1,473.6 487.8,471.2C487.5,468.8 489.1,465.6 490.9,463.5Z" fill="#87cc5a"/><path d="M498.7,450.6C502.6,449.1 507.5,442.6 509.6,442.9C511.7,443.2 511.6,449.3 511.1,452.2C510.6,455.1 509.4,456.6 506.5,460.0C503.6,463.4 498.7,469.8 494.0,472.4C489.3,475.0 481.5,476.9 478.4,475.6C475.3,474.3 474.0,468.6 475.3,464.7C476.6,460.8 482.3,454.5 486.2,452.2C490.1,449.9 494.8,452.2 498.7,450.6Z" fill="#87cc5a"/><path d="M462.9,516.4C465.2,514.6 471.7,513.8 475.3,514.8C478.9,515.8 481.8,520.3 484.7,522.6C487.6,524.9 491.5,526.2 492.8,528.8C494.1,531.4 493.9,535.8 492.5,538.2C491.1,540.6 487.1,542.0 484.7,543.1C482.3,544.2 480.5,543.5 478.4,544.7C476.3,546.0 473.8,548.1 472.2,550.6C470.6,553.1 470.1,556.8 469.1,559.9C468.1,563.0 467.0,566.7 466.0,569.3C465.0,571.9 462.4,574.7 462.9,575.5C463.4,576.3 467.2,573.7 469.1,574.3C471.0,574.9 473.8,577.1 474.1,578.9C474.4,580.7 472.6,583.6 470.7,585.2C468.8,586.8 465.2,588.0 462.9,588.3C460.6,588.5 458.1,588.8 456.7,586.7C455.3,584.6 454.3,579.4 454.3,575.5C454.3,571.6 455.8,567.2 456.7,563.1C457.6,559.0 459.0,554.8 459.8,550.6C460.6,546.5 461.1,542.4 461.3,538.2C461.6,534.1 461.0,529.3 461.3,525.7C461.6,522.1 460.6,518.2 462.9,516.4Z" fill="#87cc5a"/><path d="M637.2,303.0C638.5,300.7 641.1,298.6 643.4,298.4C645.7,298.1 649.1,299.9 651.2,301.5C653.3,303.1 654.6,305.4 655.9,307.7C657.2,310.0 657.7,314.7 659.0,315.5C660.3,316.3 662.1,314.0 663.7,312.4C665.3,310.8 666.6,308.2 668.4,306.1C670.2,304.0 672.3,301.4 674.6,299.9C676.9,298.3 680.3,296.5 682.4,296.8C684.5,297.1 686.8,299.2 687.0,301.5C687.2,303.8 683.6,307.7 683.9,310.8C684.2,313.9 687.6,317.5 688.6,320.1C689.6,322.7 690.6,324.0 690.1,326.4C689.6,328.8 686.5,331.3 685.5,334.2C684.5,337.1 685.2,340.6 683.9,343.5C682.6,346.4 679.8,348.4 677.7,351.3C675.6,354.2 673.3,357.5 671.5,360.6C669.7,363.7 668.4,366.8 666.8,369.9C665.2,373.0 663.6,376.7 662.1,379.3C660.6,381.9 659.3,383.4 657.5,385.5C655.7,387.6 653.6,389.9 651.2,391.7C648.9,393.5 646.0,394.8 643.4,396.4C640.8,398.0 638.3,399.6 635.7,401.1C633.1,402.7 630.2,404.1 627.9,405.7C625.6,407.2 623.3,408.3 621.7,410.4C620.1,412.5 618.5,415.6 618.5,418.2C618.5,420.8 621.6,423.4 621.7,426.0C621.8,428.6 620.9,431.2 619.3,433.8C617.7,436.4 615.0,439.9 612.3,441.5C609.6,443.1 606.1,443.4 603.0,443.1C599.9,442.9 596.2,442.1 593.6,440.0C591.0,437.9 589.0,434.0 587.4,430.6C585.8,427.2 584.5,423.4 584.3,419.8C584.0,416.2 584.6,412.0 585.9,408.9C587.2,405.8 589.8,403.4 592.1,401.1C594.4,398.8 597.0,397.0 599.9,394.9C602.8,392.8 606.6,391.2 609.2,388.6C611.8,386.0 614.6,382.4 615.4,379.3C616.2,376.2 614.9,372.8 613.9,369.9C612.9,367.0 611.0,363.8 609.2,362.2C607.4,360.6 604.8,359.6 603.0,360.6C601.2,361.6 600.4,366.8 598.3,368.4C596.2,369.9 593.4,369.1 590.5,369.9C587.6,370.7 583.0,373.6 581.2,373.1C579.4,372.6 579.1,368.9 579.6,366.8C580.1,364.7 584.3,362.7 584.3,360.6C584.3,358.5 579.6,356.5 579.6,354.4C579.6,352.3 582.0,349.8 584.3,348.2C586.6,346.6 590.5,345.3 593.6,345.0C596.7,344.7 600.1,347.1 603.0,346.6C605.9,346.1 608.7,344.0 610.8,341.9C612.9,339.8 613.3,336.8 615.4,334.2C617.5,331.6 620.6,328.5 623.2,326.4C625.8,324.3 628.9,324.0 631.0,321.7C633.1,319.4 634.7,315.5 635.7,312.4C636.7,309.3 635.9,305.3 637.2,303.0Z" fill="#87cc5a"/></g><g filter="url(#rough2)"><path d="M497.4,191.9C498.3,189.8 502.8,189.4 505.1,190.4C507.4,191.4 510.3,195.6 511.4,198.2C512.4,200.8 512.4,204.1 511.4,205.9C510.3,207.7 507.1,209.6 505.1,209.1C503.2,208.6 501.0,205.7 499.7,202.8C498.4,199.9 496.5,194.0 497.4,191.9Z" fill="#87cc5a"/><path d="M519.1,178.7C520.1,176.9 525.9,176.4 528.5,177.1C531.1,177.8 534.2,180.8 534.7,182.6C535.2,184.4 533.7,187.1 531.6,188.0C529.5,188.9 524.4,189.6 522.3,188.0C520.2,186.4 518.1,180.5 519.1,178.7Z" fill="#87cc5a"/><path d="M469.4,482.1C470.7,480.9 475.4,482.2 476.9,484.0C478.4,485.8 479.1,490.7 478.4,493.0C477.7,495.3 474.1,498.2 472.5,498.0C470.9,497.8 469.6,494.1 469.1,491.5C468.6,488.9 468.1,483.4 469.4,482.1Z" fill="#0e8c3c"/><path d="M494.0,465.0C494.9,463.2 500.2,461.4 501.8,461.9C503.4,462.4 504.3,466.3 503.4,468.1C502.5,469.9 497.9,473.3 496.3,472.8C494.7,472.3 493.1,466.8 494.0,465.0Z" fill="#0e8c3c"/><path d="M487.8,456.9C489.9,454.6 496.1,452.5 497.1,453.8C498.1,455.1 496.1,462.4 494.0,464.7C491.9,467.0 485.7,469.1 484.7,467.8C483.7,466.5 485.7,459.2 487.8,456.9Z" fill="#0e8c3c"/><path d="M464.4,524.2C465.9,522.4 472.4,520.8 475.3,521.0C478.2,521.2 479.8,523.9 481.9,525.7C484.0,527.5 487.6,529.8 488.1,531.9C488.6,534.0 486.6,536.6 484.7,538.2C482.8,539.8 479.2,541.6 476.9,541.6C474.6,541.6 472.5,539.8 470.7,538.2C468.9,536.6 467.1,534.2 466.0,531.9C464.9,529.6 462.8,526.0 464.4,524.2Z" fill="#0e8c3c"/><path d="M679.2,276.6C679.7,273.7 682.1,270.6 683.9,270.3C685.7,270.0 689.6,272.7 690.1,275.0C690.6,277.3 688.5,282.2 687.0,284.3C685.5,286.4 682.1,288.8 680.8,287.5C679.5,286.2 678.7,279.5 679.2,276.6Z" fill="#87cc5a"/><path d="M702.6,279.7C703.4,277.9 709.0,276.4 711.9,276.6C714.8,276.9 718.9,279.1 719.7,281.2C720.5,283.3 718.7,287.9 716.6,289.0C714.5,290.1 709.6,289.1 707.3,287.5C705.0,285.9 701.8,281.5 702.6,279.7Z" fill="#87cc5a"/><path d="M635.7,287.5C636.5,285.9 640.5,284.1 643.4,284.3C646.2,284.6 652.3,287.2 652.8,289.0C653.3,290.8 648.9,294.4 646.6,295.2C644.3,296.0 640.6,295.0 638.8,293.7C637.0,292.4 634.9,289.1 635.7,287.5Z" fill="#87cc5a"/><path d="M657.5,289.0C658.0,287.7 665.8,286.5 666.8,287.5C667.8,288.5 665.2,294.9 663.7,295.2C662.2,295.4 657.0,290.3 657.5,289.0Z" fill="#87cc5a"/><path d="M571.9,337.3C572.4,334.7 576.8,330.0 579.6,329.5C582.5,329.0 588.0,331.9 589.0,334.2C590.0,336.5 588.0,341.7 585.9,343.5C583.8,345.3 578.8,346.0 576.5,345.0C574.2,344.0 571.4,339.9 571.9,337.3Z" fill="#87cc5a"/><path d="M537.6,320.1C537.6,318.8 541.2,322.2 543.8,323.3C546.4,324.4 550.9,325.4 553.2,326.4C555.5,327.4 558.3,328.2 557.8,329.5C557.3,330.8 552.4,333.9 550.1,334.2C547.8,334.4 545.9,333.4 543.8,331.0C541.7,328.6 537.6,321.4 537.6,320.1Z" fill="#87cc5a"/><path d="M564.1,284.3C565.1,284.4 570.9,286.8 573.4,288.2C575.9,289.6 578.6,292.2 578.9,292.9C579.2,293.5 577.0,293.0 575.0,292.1C573.0,291.2 569.0,288.8 567.2,287.5C565.4,286.2 563.1,284.2 564.1,284.3Z" fill="#87cc5a"/><path d="M694.8,296.8C696.1,295.1 700.8,293.7 702.6,294.5C704.4,295.3 706.2,299.3 705.7,301.5C705.2,303.7 701.3,307.2 699.5,307.7C697.7,308.2 695.6,306.4 694.8,304.6C694.0,302.8 693.5,298.5 694.8,296.8Z" fill="#87cc5a"/><path d="M671.5,369.9C672.3,367.0 677.4,362.2 679.2,362.2C681.0,362.2 683.2,367.0 682.4,369.9C681.6,372.8 676.4,379.3 674.6,379.3C672.8,379.3 670.7,372.8 671.5,369.9Z" fill="#87cc5a"/><path d="M627.9,323.3C630.0,320.7 633.6,321.5 634.1,323.3C634.6,325.1 632.5,330.8 631.0,334.2C629.5,337.6 626.3,342.7 624.8,343.5C623.2,344.3 621.2,342.2 621.7,338.8C622.2,335.4 625.8,325.9 627.9,323.3Z" fill="#0e8c3c"/><path d="M668.4,307.7C669.2,307.2 672.8,310.1 674.6,312.4C676.4,314.7 679.2,319.9 679.2,321.7C679.2,323.5 676.2,324.3 674.6,323.3C673.0,322.3 670.9,318.1 669.9,315.5C668.9,312.9 667.6,308.2 668.4,307.7Z" fill="#0e8c3c"/><path d="M631.0,363.7C632.5,362.4 638.2,361.2 640.3,362.2C642.4,363.2 641.3,367.6 643.4,369.9C645.5,372.2 650.2,374.6 652.8,376.2C655.4,377.8 658.8,377.8 659.0,379.3C659.2,380.9 656.4,383.7 654.3,385.5C652.2,387.3 648.9,389.9 646.6,390.2C644.3,390.5 642.1,389.2 640.3,387.1C638.5,385.0 637.2,380.6 635.7,377.7C634.2,374.8 631.8,372.2 631.0,369.9C630.2,367.6 629.5,365.0 631.0,363.7Z" fill="#0e8c3c"/><path d="M657.5,354.4C658.0,352.6 661.1,351.8 662.1,352.8C663.1,353.8 664.2,358.8 663.7,360.6C663.2,362.4 660.0,364.7 659.0,363.7C658.0,362.7 657.0,356.2 657.5,354.4Z" fill="#0e8c3c"/><path d="M596.8,416.6C597.6,414.5 601.2,410.1 603.0,410.4C604.8,410.7 607.5,415.6 607.7,418.2C608.0,420.8 606.1,425.2 604.5,426.0C602.9,426.8 599.6,424.5 598.3,422.9C597.0,421.3 596.0,418.7 596.8,416.6Z" fill="#0e8c3c"/><path d="M609.2,430.6C610.2,428.8 616.0,427.8 617.0,429.1C618.0,430.4 616.4,436.6 615.4,438.4C614.4,440.2 611.8,441.3 610.8,440.0C609.8,438.7 608.2,432.4 609.2,430.6Z" fill="#0e8c3c"/><path d="M420.9,298.1C422.4,298.4 426.0,305.6 428.6,309.0C431.2,312.4 433.3,316.1 436.4,318.4C439.5,320.7 443.9,321.4 447.3,323.0C450.7,324.6 453.6,326.1 456.7,327.7C459.8,329.3 463.4,330.3 466.0,332.4C468.6,334.5 470.4,337.2 472.2,340.1C474.0,343.0 475.9,345.9 476.9,349.5C477.9,353.1 478.4,357.8 478.4,361.9C478.4,366.0 477.9,373.3 476.9,374.4C475.9,375.4 473.5,370.8 472.2,368.2C470.9,365.6 470.7,361.7 469.1,358.8C467.6,355.9 465.5,353.6 462.9,351.0C460.3,348.4 456.9,345.9 453.5,343.3C450.1,340.7 446.1,338.1 442.7,335.5C439.3,332.9 436.2,330.6 433.3,327.7C430.4,324.8 427.8,321.8 425.5,318.4C423.2,315.0 420.1,310.9 419.3,307.5C418.5,304.1 419.3,297.9 420.9,298.1Z" fill="#6b240c"/><path d="M478.4,368.2C479.2,365.6 484.9,364.0 487.8,365.0C490.7,366.0 494.1,370.8 495.6,374.4C497.2,378.0 497.4,382.6 497.1,386.8C496.8,391.0 495.6,395.7 494.0,399.3C492.4,402.9 489.9,407.6 487.8,408.6C485.7,409.6 482.1,408.1 481.6,405.5C481.1,402.9 484.4,397.2 484.7,393.1C484.9,389.0 484.2,384.8 483.1,380.6C482.1,376.5 477.6,370.8 478.4,368.2Z" fill="#6e381b"/><path d="M476.9,408.6C478.7,407.6 482.9,409.6 484.7,411.7C486.5,413.8 488.3,418.0 487.8,421.1C487.3,424.2 483.7,427.8 481.6,430.4C479.5,433.0 476.9,436.9 475.3,436.6C473.7,436.4 472.4,432.0 472.2,428.9C471.9,425.8 473.0,421.4 473.8,418.0C474.6,414.6 475.1,409.7 476.9,408.6Z" fill="#6b240c"/><path d="M420.9,301.2C422.3,302.2 424.8,307.5 427.1,310.6C429.4,313.7 434.1,318.0 434.9,319.9C435.7,321.8 433.6,323.0 431.8,321.8C430.0,320.6 426.2,315.8 424.0,312.9C421.8,310.0 419.2,306.2 418.7,304.3C418.2,302.4 419.5,300.1 420.9,301.2Z" fill="#957565"/><path d="M453.5,332.4C454.5,332.0 459.2,333.7 461.3,335.5C463.4,337.3 466.0,341.9 466.0,343.3C466.0,344.7 463.1,344.5 461.3,343.6C459.5,342.7 456.4,339.7 455.1,337.8C453.8,335.9 452.5,332.8 453.5,332.4Z" fill="#957565"/><path d="M469.1,421.1C469.9,418.7 473.0,419.6 473.5,421.9C474.0,424.2 473.0,432.7 472.2,435.1C471.4,437.6 469.0,438.9 468.5,436.6C468.0,434.3 468.3,423.6 469.1,421.1Z" fill="#957565"/><path d="M471.4,389.9C472.7,388.1 476.8,387.3 478.4,388.4C480.0,389.4 480.8,393.3 480.8,396.2C480.8,399.1 479.7,403.7 478.4,405.5C477.1,407.3 474.3,408.1 473.0,407.1C471.7,406.1 471.0,402.2 470.7,399.3C470.4,396.4 470.1,391.7 471.4,389.9Z" fill="#e67d00"/><path d="M473.5,392.3C474.2,390.4 477.2,390.6 478.1,391.8C479.0,393.0 479.0,397.3 478.8,399.3C478.6,401.3 477.7,403.4 476.9,404.0C476.1,404.6 474.4,405.1 473.8,403.2C473.2,401.2 472.8,394.2 473.5,392.3Z" fill="#cdaf1e"/></g><g filter="url(#speck2)"><path d="M193.8,7.2C199.0,2.5 222.9,0.5 231.2,7.2C239.5,13.9 239.2,35.2 243.6,47.7C248.0,60.2 256.6,75.2 257.7,81.9C258.8,88.7 255.6,90.8 249.9,88.2C244.2,85.6 231.7,75.2 223.4,66.4C215.1,57.6 205.0,45.1 200.1,35.2C195.2,25.3 188.6,11.9 193.8,7.2Z" fill="#0e8c3c"/><path d="M189.2,41.5C190.8,41.2 195.7,48.2 200.1,52.4C204.5,56.5 209.9,62.0 215.6,66.4C221.3,70.8 227.8,75.2 234.3,78.8C240.8,82.4 248.8,85.6 254.5,88.2C260.2,90.8 266.7,91.8 268.5,94.4C270.3,97.0 268.5,102.7 265.4,103.7C262.3,104.7 255.6,102.4 249.9,100.6C244.2,98.8 237.4,95.9 231.2,92.8C225.0,89.7 217.9,85.8 212.5,81.9C207.1,78.0 202.1,74.2 198.5,69.5C194.9,64.8 192.2,58.6 190.7,53.9C189.1,49.2 187.6,41.8 189.2,41.5Z" fill="#0e8c3c"/><path d="M187.6,7.2C189.9,4.6 198.0,7.2 201.6,10.3C205.2,13.4 209.1,20.7 209.4,25.9C209.7,31.1 205.8,39.4 203.2,41.5C200.6,43.6 196.4,41.0 193.8,38.4C191.2,35.8 188.6,31.1 187.6,25.9C186.6,20.7 185.3,9.8 187.6,7.2Z" fill="#68962f"/><path d="M212.5,75.7C215.9,76.7 225.0,81.9 231.2,85.0C237.4,88.1 247.3,92.3 249.9,94.4C252.5,96.5 250.4,98.3 246.8,97.5C243.2,96.7 234.1,92.8 228.1,89.7C222.1,86.6 213.6,81.1 211.0,78.8C208.4,76.5 209.1,74.7 212.5,75.7Z" fill="#68962f"/><path d="M321.5,109.9C323.1,108.0 329.8,105.8 333.9,105.6C338.0,105.3 344.1,106.6 346.4,108.4C348.7,110.2 349.2,114.2 347.9,116.2C346.6,118.2 342.5,120.4 338.6,120.5C334.7,120.6 327.5,118.8 324.6,117.0C321.8,115.2 319.9,111.8 321.5,109.9Z" fill="#0e8c3c"/><path d="M400.9,264.3C402.1,263.9 407.6,265.3 410.2,267.4C412.8,269.5 414.8,273.4 416.4,276.8C418.0,280.2 419.1,284.2 419.9,287.7C420.7,291.2 421.7,296.0 421.4,297.8C421.1,299.6 419.2,300.1 418.0,298.5C416.8,296.9 415.5,291.8 414.1,288.4C412.7,285.0 411.2,281.4 409.4,278.3C407.6,275.2 404.6,272.1 403.2,269.8C401.8,267.5 399.7,264.7 400.9,264.3Z" fill="#0e8c3c"/><path d="M498.9,191.9C499.4,189.2 504.6,189.8 506.7,191.9C508.8,194.0 511.9,201.7 511.4,204.4C510.9,207.1 505.7,210.4 503.6,208.3C501.5,206.2 498.4,194.6 498.9,191.9Z" fill="#0e8c3c" stroke="#0e8c3c" stroke-width="3" stroke-linejoin="round"/><path d="M519.9,179.5C520.9,178.0 526.2,177.5 528.5,178.2C530.8,178.8 533.6,181.9 533.9,183.4C534.1,184.9 531.9,186.7 530.0,187.3C528.1,187.9 524.0,188.3 522.3,187.0C520.6,185.7 518.9,181.0 519.9,179.5Z" fill="#0e8c3c" stroke="#0e8c3c" stroke-width="3" stroke-linejoin="round"/><path d="M447.3,510.1C448.9,506.5 455.1,503.4 456.7,510.1C458.3,516.9 457.8,537.1 456.7,550.6C455.6,564.1 453.3,582.8 450.4,591.1C447.5,599.4 440.5,605.6 439.5,600.4C438.5,595.2 442.9,571.3 444.2,559.9C445.5,548.5 446.8,540.2 447.3,531.9C447.8,523.6 445.7,513.7 447.3,510.1Z" fill="#0e8c3c"/><path d="M621.7,320.1C624.3,314.4 635.1,315.4 637.2,320.1C639.3,324.8 633.1,341.4 634.1,348.2C635.1,354.9 638.7,360.6 643.4,360.6C648.1,360.6 656.4,357.0 662.1,348.2C667.8,339.4 674.1,311.3 677.7,307.7C681.3,304.1 685.5,316.0 683.9,326.4C682.3,336.8 673.6,358.5 668.4,369.9C663.2,381.3 658.5,391.8 652.8,394.9C647.1,398.0 639.3,395.4 634.1,388.6C628.9,381.9 623.8,365.8 621.7,354.4C619.6,343.0 619.1,325.8 621.7,320.1Z" fill="#0e8c3c"/><path d="M590.5,407.3C592.6,402.6 604.0,400.6 609.2,404.2C614.4,407.8 621.2,422.6 621.7,429.1C622.2,435.6 616.4,442.6 612.3,443.1C608.1,443.6 600.4,438.2 596.8,432.2C593.2,426.2 588.4,412.0 590.5,407.3Z" fill="#0e8c3c"/></g></g>
</defs>
<rect width="1285" height="2300" fill="#fff"/>
<g transform="translate(0,0)">
<text class="pl" transform="translate(5,78.6) scale(1,1.044)">A</text><text class="pl" transform="translate(65.2,78.6) scale(1,1.004)">)</text>
<g clip-path="url(#lcL)"><g clip-path="url(#lc)"><rect x="150" y="-20" width="640" height="700" fill="#6fa9b3"/><path d="M277.0,0.0C275.7,1.7 272.4,6.7 269.0,10.1C265.6,13.5 260.6,16.8 256.9,20.2C253.2,23.6 249.5,27.0 246.8,30.4C244.1,33.8 242.9,36.5 240.7,40.5C238.5,44.5 236.5,49.9 233.6,54.6C230.7,59.3 227.0,64.4 223.5,68.8C220.0,73.2 215.8,77.4 212.4,80.9C209.0,84.4 204.6,88.5 203.0,90.0L150,95L150,-10Z" fill="#2892c7"/><path d="M300.0,70.0C299.7,72.3 299.2,79.8 298.4,84.0C297.6,88.2 296.1,91.2 295.3,95.1C294.5,99.0 294.0,102.7 293.3,107.2C292.6,111.7 291.4,119.5 291.0,122.0L320,200L395,200L395,128L600,128L600,-10L300,-10Z" fill="#2892c7"/><path d="M391.1,212.3C392.3,212.8 395.5,214.1 398.1,215.4C400.7,216.7 403.7,218.2 406.7,220.0C409.7,221.8 413.1,224.0 416.0,226.3C418.9,228.6 421.5,231.4 423.8,234.0C426.1,236.6 427.9,238.9 430.0,241.8C432.1,244.7 434.2,248.2 436.3,251.2C438.4,254.2 440.2,257.2 442.5,259.7C444.8,262.2 447.4,264.3 450.3,266.0C453.2,267.7 456.5,269.0 459.6,269.8C462.7,270.6 465.8,270.9 468.9,270.6C472.0,270.4 475.4,269.5 478.3,268.3C481.2,267.1 483.5,265.7 486.1,263.6C488.7,261.5 491.0,258.7 493.9,255.8C496.8,253.0 499.8,249.6 503.2,246.5C506.6,243.4 510.5,240.0 514.1,237.2C517.7,234.3 521.4,232.0 525.0,229.4C528.6,226.8 532.5,224.4 535.9,221.6C539.3,218.8 542.4,215.2 545.2,212.3C548.1,209.5 550.6,207.8 553.0,204.5C555.4,201.2 557.3,196.4 559.8,192.8C562.3,189.2 566.0,185.0 567.9,182.7C569.8,180.4 569.6,180.8 571.0,179.1C572.4,177.4 575.2,173.7 576.0,172.6L590,100L380,100L380,200Z" fill="#2892c7"/><circle cx="528.1" cy="307.2" r="12.5" fill="#2892c7"/><circle cx="593.2" cy="392.6" r="32.3" fill="#2892c7"/><path d="M369.3,255.1C371.1,255.2 376.6,255.4 380.2,255.8C383.8,256.2 387.2,256.9 391.1,257.4C395.0,257.9 399.5,258.2 403.6,258.9C407.8,259.5 412.4,260.0 416.0,261.3C419.6,262.6 422.3,264.8 425.4,266.7C428.5,268.6 431.1,270.9 434.7,273.0C438.3,275.1 443.0,277.6 447.2,279.2C451.4,280.8 455.5,281.5 459.6,282.3C463.8,283.1 468.0,283.4 472.1,283.9C476.2,284.4 481.1,284.6 484.5,285.4C487.9,286.2 490.2,287.2 492.3,288.5C494.4,289.8 495.7,291.4 497.0,293.2C498.3,295.0 498.8,297.1 500.1,299.4C501.4,301.7 502.9,304.6 504.7,307.2C506.5,309.8 508.9,312.7 511.0,315.0C513.1,317.3 515.4,318.9 517.2,321.2C519.0,323.5 520.4,326.4 521.9,329.0C523.4,331.6 525.2,334.2 526.5,336.8C527.8,339.4 528.4,342.5 529.6,344.6C530.8,346.7 533.7,347.9 533.9,349.6C534.1,351.3 532.3,353.4 530.7,355.0C529.1,356.6 526.8,357.7 524.5,358.9C522.2,360.1 519.3,361.0 516.7,362.0C514.1,363.0 511.5,363.8 508.9,365.1C506.3,366.4 503.5,368.0 501.2,369.8C498.9,371.6 496.7,373.9 494.9,376.0C493.1,378.1 491.7,380.0 490.3,382.3C488.9,384.6 487.4,387.4 486.4,390.0C485.3,392.6 484.6,394.9 484.0,397.8C483.4,400.7 482.6,404.1 482.5,407.2C482.4,410.3 482.7,413.4 483.3,416.5C483.9,419.6 485.0,422.9 486.4,425.8C487.8,428.7 489.6,431.3 491.8,433.6C494.0,435.9 497.0,438.4 499.6,439.8C502.2,441.2 504.9,442.2 507.4,442.2C509.9,442.2 512.4,441.2 514.4,439.8C516.4,438.4 517.9,435.9 519.1,433.6C520.3,431.3 520.5,428.4 521.4,425.8C522.3,423.2 523.2,420.4 524.5,418.1C525.8,415.8 527.4,413.6 529.2,411.8C531.0,410.0 533.1,408.2 535.4,407.2C537.7,406.2 540.6,405.4 543.2,405.6C545.8,405.9 548.7,407.1 551.0,408.7C553.3,410.2 555.7,412.6 557.2,414.9C558.8,417.2 559.6,419.8 560.3,422.7C560.9,425.6 561.4,429.0 561.1,432.1C560.9,435.2 560.0,438.5 558.8,441.4C557.6,444.2 555.7,446.6 554.1,449.2C552.5,451.8 550.6,454.4 549.4,457.0C548.2,459.6 547.5,461.8 547.1,464.7C546.7,467.6 546.7,471.0 547.1,474.1C547.5,477.2 548.4,480.3 549.4,483.4C550.4,486.5 552.0,490.2 553.3,492.8C554.6,495.4 554.7,497.1 557.2,499.0C559.7,500.9 566.3,503.5 568.1,504.4L600,700L340,700L340,250Z" fill="#a0c29b"/><circle cx="509.7" cy="392.4" r="16.3" fill="#2892c7"/><circle cx="513.6" cy="295.8" r="7.0" fill="#a0c29b"/><circle cx="513.9" cy="296.2" r="4.3" fill="#cede81"/><circle cx="259.3" cy="93.2" r="3.8" fill="#cede81"/><circle cx="270.6" cy="97" r="3.2" fill="#2892c7"/><path d="M383.3,282.3C384.7,281.8 389.0,280.0 391.9,279.2C394.8,278.4 397.2,277.7 400.5,277.6C403.8,277.5 407.8,277.9 411.4,278.4C415.0,278.9 418.7,279.5 422.3,280.7C425.9,281.9 429.6,283.7 433.2,285.4C436.8,287.1 440.4,289.3 444.0,290.9C447.6,292.4 451.3,293.3 454.9,294.7C458.5,296.1 462.4,298.0 465.8,299.4C469.2,300.8 472.3,302.0 475.2,303.3C478.1,304.6 480.7,305.5 483.0,307.2C485.3,308.9 487.1,311.3 489.2,313.4C491.3,315.5 493.3,317.5 495.4,319.6C497.5,321.7 499.5,323.8 501.6,325.9C503.7,328.0 506.2,330.0 507.9,332.1C509.6,334.2 510.9,336.0 511.8,338.3C512.7,340.6 513.0,344.2 513.3,346.1C513.5,348.0 513.8,347.7 513.3,349.6C512.8,351.5 512.0,354.9 510.5,357.4C509.0,359.9 506.6,362.2 504.3,364.4C502.0,366.6 499.1,368.5 496.5,370.6C493.9,372.7 491.3,374.6 488.7,376.8C486.1,379.0 483.4,381.5 480.9,383.8C478.4,386.1 476.0,388.5 473.9,390.8C471.8,393.1 470.2,395.6 468.5,397.8C466.8,400.0 465.6,402.1 463.8,404.0C462.0,405.9 458.6,408.6 457.6,409.5L350,420L350,250Z" fill="#cede81"/><path d="M394.2,297.1C395.4,296.6 398.6,295.0 401.2,294.0C403.8,293.0 406.6,291.5 409.8,290.9C413.1,290.2 417.1,289.9 420.7,290.1C424.3,290.4 428.0,291.2 431.6,292.4C435.2,293.6 439.1,295.5 442.5,297.1C445.9,298.7 448.7,300.4 451.8,301.8C454.9,303.2 458.4,304.2 461.2,305.6C464.0,307.0 466.3,308.9 468.9,310.3C471.5,311.7 474.1,312.9 476.7,314.2C479.3,315.5 482.2,316.7 484.5,318.1C486.8,319.5 488.6,321.0 490.7,322.8C492.8,324.6 495.2,326.9 497.0,329.0C498.8,331.1 500.3,332.9 501.6,335.2C502.9,337.5 504.0,340.4 504.7,343.0C505.4,345.6 506.1,348.5 505.8,351.1C505.5,353.8 504.2,356.4 502.7,358.9C501.1,361.4 498.8,363.7 496.5,365.9C494.2,368.1 491.3,370.2 488.7,372.1C486.1,374.1 483.5,376.0 480.9,377.6C478.3,379.2 475.5,380.5 473.2,381.5C470.9,382.5 469.2,383.2 466.9,383.8C464.5,384.4 460.4,385.1 459.1,385.4L350,420L350,250Z" fill="#fafa64"/><path d="M402.0,311.1C402.9,310.5 405.4,308.6 407.5,307.2C409.6,305.8 411.8,303.7 414.5,302.5C417.2,301.3 420.7,300.4 423.8,300.2C426.9,299.9 430.1,300.4 433.2,301.0C436.3,301.6 439.4,302.8 442.5,304.1C445.6,305.4 448.9,307.0 451.8,308.8C454.7,310.6 457.0,313.2 459.6,315.0C462.2,316.8 464.8,318.6 467.4,319.6C470.0,320.6 472.6,320.6 475.2,321.2C477.8,321.8 480.7,322.5 483.0,323.5C485.3,324.5 487.4,325.8 489.2,327.4C491.0,329.0 492.5,330.8 493.9,332.9C495.3,335.0 496.8,337.0 497.7,339.9C498.6,342.8 499.4,347.1 499.3,350.0C499.2,352.9 498.6,355.0 497.3,357.4C496.1,359.8 494.0,362.3 491.8,364.4C489.6,366.5 486.6,368.5 484.0,369.8C481.4,371.1 478.9,371.5 476.3,372.1C473.7,372.8 471.4,373.2 468.5,373.7C465.6,374.1 460.7,374.6 459.1,374.8L350,400L350,300Z" fill="#fcc44c"/><path d="M408.2,323.5C409.1,322.7 411.9,320.6 413.7,318.9C415.5,317.2 416.9,314.8 419.1,313.4C421.3,312.0 424.0,310.8 426.9,310.3C429.8,309.8 433.4,309.8 436.3,310.3C439.2,310.8 441.7,312.0 444.0,313.4C446.3,314.8 448.2,317.1 450.3,318.9C452.4,320.7 454.4,322.9 456.5,324.3C458.6,325.7 460.4,326.8 462.7,327.4C465.0,328.0 467.9,327.9 470.5,328.2C473.1,328.5 476.0,328.5 478.3,329.0C480.6,329.5 482.7,330.0 484.5,331.3C486.3,332.6 487.9,334.9 489.2,336.8C490.5,338.8 491.6,340.8 492.3,343.0C493.0,345.2 492.9,348.4 493.1,350.0C493.3,351.6 494.1,350.9 493.4,352.7C492.7,354.4 490.8,358.4 488.7,360.5C486.6,362.6 483.5,364.1 480.9,365.1C478.3,366.1 475.8,366.7 473.2,366.7C470.6,366.7 468.0,365.8 465.4,365.1C462.8,364.5 458.9,363.2 457.6,362.8L350,380L350,310Z" fill="#fa8d34"/><circle cx="433.2" cy="327.4" r="13.2" fill="#f25622"/><circle cx="477" cy="345.8" r="14.8" fill="#f25622"/><circle cx="477" cy="345.8" r="5.6" fill="#e81014"/></g><use href="#ov"/><use href="#ovl"/></g>
<g transform="translate(550.5,-1)"><g clip-path="url(#lcR)"><use href="#elev"/><use href="#ov"/><use href="#ovr"/></g></g>
<g><ellipse cx="1089" cy="609.3" rx="8.5" ry="2.4" fill="#f4f6c6" transform="rotate(-14 1089 609.3)"/><ellipse cx="1099.5" cy="607.6" rx="6" ry="2" fill="#f4f6c6" transform="rotate(-10 1099.5 607.6)"/><path d="M1255.5,625.3l6,2l6,2.6" stroke="#4bb04b" stroke-width="1.8" stroke-linecap="round" fill="none"/><circle cx="855" cy="225.3" r="1.3" fill="#eaf0a8"/><circle cx="859.2" cy="223.4" r="1.1" fill="#eaf0a8"/><circle cx="862.4" cy="227" r="1.2" fill="#eaf0a8"/><circle cx="857.5" cy="228.4" r=".9" fill="#eaf0a8"/></g>
<text class="lt" x="193.3" y="422.6" textLength="122.2" lengthAdjust="spacingAndGlyphs">SP100 (Frequency)</text><rect class="sw" x="193.2" y="434.4" width="38.5" height="19"  fill="#2892c7"/><text class="ll" x="238.6" y="449.3" textLength="65.2" lengthAdjust="spacingAndGlyphs">0,00 - 0,05</text><rect class="sw" x="193.2" y="460.4" width="38.5" height="19"  fill="#6fa9b3"/><text class="ll" x="238.6" y="475.3" textLength="65.2" lengthAdjust="spacingAndGlyphs">0,05 - 0,10</text><rect class="sw" x="193.2" y="486.5" width="38.5" height="19"  fill="#a0c29b"/><text class="ll" x="238.6" y="501.4" textLength="65.2" lengthAdjust="spacingAndGlyphs">0,10 - 0,15</text><rect class="sw" x="193.2" y="512.6" width="38.5" height="19"  fill="#cede81"/><text class="ll" x="238.6" y="527.5" textLength="65.2" lengthAdjust="spacingAndGlyphs">0,15 - 0,20</text><rect class="sw" x="193.2" y="538.7" width="38.5" height="19"  fill="#fafa64"/><text class="ll" x="238.6" y="553.6" textLength="65.2" lengthAdjust="spacingAndGlyphs">0,20 - 0,25</text><rect class="sw" x="193.2" y="564.8" width="38.5" height="19"  fill="#fcc44c"/><text class="ll" x="238.6" y="579.7" textLength="65.2" lengthAdjust="spacingAndGlyphs">0,25 - 0,30</text><rect class="sw" x="193.2" y="590.8" width="38.5" height="19"  fill="#fa8d34"/><text class="ll" x="238.6" y="605.7" textLength="65.2" lengthAdjust="spacingAndGlyphs">0,30 - 0,35</text><rect class="sw" x="193.2" y="616.9" width="38.5" height="19"  fill="#f25622"/><text class="ll" x="238.6" y="631.8" textLength="65.2" lengthAdjust="spacingAndGlyphs">0,35 - 0,40</text><rect class="sw" x="193.2" y="643.0" width="38.5" height="19"  fill="#e81014"/><text class="ll" x="238.6" y="657.9" textLength="65.2" lengthAdjust="spacingAndGlyphs">0,40 - 0,45</text>
<text class="lt" x="738.7" y="320.0" textLength="118.3" lengthAdjust="spacingAndGlyphs">Elevation (meters)</text><rect class="sw" x="738.2" y="330.0" width="38.5" height="19"  fill="#f7fcb6"/><text class="ll" x="783.6" y="344.9" textLength="42.7" lengthAdjust="spacingAndGlyphs">0 - 500</text><rect class="sw" x="738.2" y="356.1" width="38.5" height="19"  fill="#87cc5a"/><text class="ll" x="783.6" y="371.0" textLength="69.0" lengthAdjust="spacingAndGlyphs">500 - 1.000</text><rect class="sw" x="738.2" y="382.2" width="38.5" height="19"  fill="#0e8c3c"/><text class="ll" x="783.6" y="397.1" textLength="80.2" lengthAdjust="spacingAndGlyphs">1.000 - 1.500</text><rect class="sw" x="738.2" y="408.3" width="38.5" height="19"  fill="#68962f"/><text class="ll" x="783.6" y="423.2" textLength="80.2" lengthAdjust="spacingAndGlyphs">1.500 - 2.000</text><rect class="sw" x="738.2" y="434.4" width="38.5" height="19"  fill="#cdaf1e"/><text class="ll" x="783.6" y="449.3" textLength="80.2" lengthAdjust="spacingAndGlyphs">2.000 - 2.500</text><rect class="sw" x="738.2" y="460.4" width="38.5" height="19"  fill="#e67d00"/><text class="ll" x="783.6" y="475.3" textLength="80.2" lengthAdjust="spacingAndGlyphs">2.500 - 3.000</text><rect class="sw" x="738.2" y="486.5" width="38.5" height="19"  fill="#a82000"/><text class="ll" x="783.6" y="501.4" textLength="80.2" lengthAdjust="spacingAndGlyphs">3.000 - 3.500</text><rect class="sw" x="738.2" y="512.6" width="38.5" height="19"  fill="#731405"/><text class="ll" x="783.6" y="527.5" textLength="80.2" lengthAdjust="spacingAndGlyphs">3.500 - 4.000</text><rect class="sw" x="738.2" y="538.7" width="38.5" height="19"  fill="#6b240c"/><text class="ll" x="783.6" y="553.6" textLength="80.2" lengthAdjust="spacingAndGlyphs">4.000 - 4.500</text><rect class="sw" x="738.2" y="564.8" width="38.5" height="19"  fill="#6e381b"/><text class="ll" x="783.6" y="579.7" textLength="80.2" lengthAdjust="spacingAndGlyphs">4.500 - 5.000</text><rect class="sw" x="738.2" y="590.8" width="38.5" height="19"  fill="#957565"/><text class="ll" x="783.6" y="605.7" textLength="80.2" lengthAdjust="spacingAndGlyphs">5.000 - 5.500</text><rect class="sw" x="738.2" y="616.9" width="38.5" height="19"  fill="#b0b0b0"/><text class="ll" x="783.6" y="631.8" textLength="80.2" lengthAdjust="spacingAndGlyphs">5.500 - 6.000</text><rect class="sw" x="738.2" y="643.0" width="38.5" height="19"  fill="#d7d5d8"/><text class="ll" x="783.6" y="657.9" textLength="80.2" lengthAdjust="spacingAndGlyphs">6.000 - 6.500</text>
</g>
<g transform="translate(0,816)">
<text class="pl" transform="translate(5,65.4) scale(1,1.044)">B</text><text class="pl" transform="translate(65.2,65.4) scale(1,1.004)">)</text>
<g clip-path="url(#lcL)"><g clip-path="url(#lc)"><rect x="150" y="-20" width="640" height="700" fill="#95bda0"/><path d="M258.9,-5.0C258.9,-3.4 259.1,-1.4 258.9,4.5C258.7,10.4 258.6,23.4 257.9,30.4C257.2,37.4 256.8,40.8 254.9,46.5C253.1,52.2 249.8,59.4 246.8,64.8C243.8,70.2 239.9,74.9 236.7,78.9C233.5,82.9 230.7,85.7 227.6,89.0C224.5,92.3 219.6,97.3 218.0,99.0L240,140L320,140L320,-10Z" fill="#67a6b5"/><path d="M218.6,0.0C218.6,0.6 217.2,1.2 218.6,3.7C220.0,6.2 224.5,11.0 227.0,14.9C229.5,18.8 232.1,23.1 233.6,27.1C235.1,31.2 235.8,35.0 235.9,39.2C236.1,43.4 235.5,48.1 234.5,52.3C233.5,56.5 231.8,60.8 229.8,64.4C227.8,68.0 225.1,71.3 222.3,73.8C219.5,76.3 216.1,77.8 213.0,79.4C209.9,81.0 205.5,82.8 204.0,83.5L150,90L150,-10Z" fill="#bfd48a"/><circle cx="205.1" cy="48.1" r="19.6" fill="#e9ee74"/><path d="M296.0,70.0C295.6,72.5 294.2,80.8 293.3,85.0C292.4,89.2 291.3,91.7 290.3,95.1C289.3,98.5 288.1,101.0 287.2,105.2C286.3,109.4 285.4,117.5 285.0,120.0L320,200L395,200L395,128L600,128L600,-10L300,-10Z" fill="#2892c7"/><path d="M372.5,233.3C374.1,233.2 378.2,232.9 381.8,232.5C385.4,232.1 390.1,231.3 394.2,230.9C398.3,230.5 402.0,230.4 406.7,230.2C411.4,230.0 417.1,229.9 422.3,229.7C427.5,229.5 432.6,229.1 437.8,229.1C443.0,229.1 448.2,229.1 453.4,229.4C458.6,229.7 464.2,229.9 468.9,230.9C473.6,231.9 477.8,233.8 481.4,235.6C485.0,237.4 488.2,239.5 490.7,241.8C493.2,244.1 495.1,246.8 496.2,249.6C497.2,252.4 497.4,255.8 497.0,258.9C496.6,262.0 495.1,264.9 493.9,268.3C492.7,271.7 490.9,275.6 490.0,279.2C489.1,282.8 488.3,286.5 488.4,290.1C488.5,293.7 489.3,297.4 490.7,301.0C492.1,304.6 494.4,308.5 497.0,311.9C499.6,315.3 502.9,318.3 506.3,321.2C509.7,324.1 513.3,326.8 517.2,329.0C521.1,331.2 525.2,333.2 529.6,334.4C534.0,335.6 540.4,335.9 543.7,336.0C547.0,336.1 546.1,335.5 549.4,334.8C552.7,334.1 559.0,333.1 563.4,331.7C567.8,330.3 572.3,328.1 575.9,326.2C579.5,324.2 579.2,326.5 585.2,320.0C591.2,313.5 605.5,295.9 611.9,287.0C618.3,278.1 619.6,273.0 623.4,266.8C627.2,260.6 631.1,254.4 634.9,249.6C638.7,244.8 642.1,240.8 646.4,238.1C650.7,235.4 658.4,234.4 660.8,233.7L680,200L600,100L380,100L360,230Z" fill="#67a6b5"/><path d="M296.0,70.0C295.6,72.5 294.2,80.8 293.3,85.0C292.4,89.2 291.3,91.7 290.3,95.1C289.3,98.5 288.1,101.0 287.2,105.2C286.3,109.4 285.4,117.5 285.0,120.0L320,200L395,200L395,128L600,128L600,-10L300,-10Z" fill="#2892c7"/><path d="M398.9,183.5C400.4,184.4 405.3,187.2 408.2,188.9C411.1,190.6 413.1,191.8 416.0,193.6C418.9,195.4 422.0,197.7 425.4,199.8C428.8,201.9 432.7,203.9 436.3,206.0C439.9,208.1 443.3,210.4 447.2,212.3C451.1,214.2 455.5,216.3 459.6,217.7C463.8,219.1 468.0,220.1 472.1,220.8C476.2,221.5 480.6,222.0 484.5,221.9C488.4,221.8 492.0,221.1 495.4,220.0C498.8,218.9 501.6,217.5 504.7,215.4C507.8,213.3 511.2,210.5 514.1,207.6C517.0,204.7 519.6,201.3 521.9,198.2C524.2,195.1 526.4,192.3 528.1,188.9C529.8,185.5 531.0,181.6 532.0,178.0C533.0,174.4 533.8,170.2 534.3,167.1C534.8,164.0 534.7,162.2 535.1,159.3C535.5,156.5 536.4,151.6 536.7,150.0L560,100L380,100L380,180Z" fill="#2892c7"/><circle cx="524.7" cy="297.5" r="25.6" fill="#2892c7"/><circle cx="586.3" cy="394.4" r="19.6" fill="#67a6b5"/><path d="M369.3,264.4C371.1,264.3 376.6,264.0 380.2,263.6C383.8,263.2 386.7,262.8 391.1,262.1C395.5,261.5 401.5,260.2 406.7,259.7C411.9,259.2 417.6,259.3 422.3,258.9C427.0,258.5 431.3,258.2 434.7,257.4C438.1,256.6 440.2,255.9 442.5,254.3C444.8,252.8 446.4,249.9 448.7,248.1C451.0,246.3 453.6,244.2 456.5,243.4C459.4,242.6 463.1,242.8 465.8,243.4C468.5,244.1 471.1,245.5 472.8,247.3C474.5,249.1 475.7,251.8 476.0,254.3C476.3,256.8 475.3,259.5 474.4,262.1C473.5,264.7 471.3,267.0 470.5,269.8C469.7,272.6 469.3,276.1 469.7,279.2C470.1,282.3 471.4,285.6 472.8,288.5C474.2,291.4 476.4,293.8 478.3,296.3C480.2,298.8 482.2,301.0 484.5,303.3C486.8,305.6 489.7,307.8 492.3,310.3C494.9,312.8 499.9,316.5 500.1,318.1C500.3,319.7 493.2,318.6 493.4,320.0C493.6,321.4 498.6,323.9 501.2,326.2C503.8,328.5 506.0,331.4 508.9,334.0C511.8,336.6 515.2,339.5 518.3,341.8C521.4,344.1 524.8,345.9 527.6,348.0C530.5,350.1 533.2,351.9 535.4,354.2C537.6,356.5 539.6,359.4 540.9,362.0C542.2,364.6 543.0,366.9 543.2,369.8C543.5,372.7 543.2,375.7 542.4,379.1C541.6,382.5 540.2,386.6 538.5,390.0C536.8,393.4 534.4,396.3 532.3,399.4C530.2,402.5 527.8,405.3 526.1,408.7C524.4,412.1 523.0,415.7 522.2,419.6C521.4,423.5 521.0,428.0 521.1,432.1C521.2,436.2 522.0,440.4 523.0,444.5C524.0,448.6 525.4,452.9 526.8,457.0C528.2,461.1 530.1,465.2 531.5,469.4C532.9,473.5 534.4,478.0 535.4,481.9C536.4,485.8 537.1,489.2 537.7,492.8C538.4,496.4 538.9,500.3 539.3,503.7C539.7,507.1 540.2,514.6 540.1,513.0C540.0,511.4 538.8,494.6 538.8,494.2C538.8,493.8 539.6,506.0 539.8,510.4C540.0,514.8 540.1,518.8 540.2,520.5L560,560L521.6,540.7L499.4,546.8L481.2,551.2L460.9,555.3L440.7,558.9L416.4,563L340,560L340,260Z" fill="#bfd48a"/><path d="M384.9,284.6C386.3,284.2 390.4,283.1 393.5,282.3C396.6,281.5 399.9,280.5 403.6,280.0C407.4,279.5 411.9,279.3 416.0,279.2C420.1,279.1 424.6,278.8 428.5,279.2C432.4,279.6 436.0,280.3 439.4,281.5C442.8,282.7 445.6,284.4 448.7,286.2C451.8,288.0 455.0,290.2 458.1,292.4C461.2,294.6 464.3,297.1 467.4,299.4C470.5,301.7 473.8,304.1 476.7,306.4C479.6,308.7 483.3,311.1 484.5,313.4C485.7,315.7 482.5,317.9 484.0,320.0C485.5,322.1 490.3,323.9 493.4,326.2C496.5,328.5 499.8,331.1 502.7,334.0C505.6,336.9 508.4,340.2 510.5,343.3C512.6,346.4 514.3,349.3 515.2,352.7C516.1,356.1 516.1,360.0 516.0,363.6C515.9,367.2 515.6,370.9 514.4,374.5C513.2,378.1 511.1,381.8 508.9,385.4C506.7,389.0 504.0,392.7 501.2,396.3C498.4,399.9 494.9,403.6 491.8,407.2C488.7,410.8 485.6,414.7 482.5,418.1C479.4,421.5 476.3,424.5 473.2,427.4C470.1,430.2 467.4,432.6 463.8,435.2C460.2,437.8 453.5,441.7 451.4,443.0L340,440L340,290Z" fill="#e9ee74"/><path d="M394.2,300.2C395.5,299.7 399.1,298.1 402.0,297.1C404.9,296.1 408.0,294.8 411.4,294.0C414.8,293.2 418.7,292.5 422.3,292.4C425.9,292.3 429.6,292.5 433.2,293.2C436.8,293.9 440.6,295.0 444.0,296.3C447.4,297.6 450.3,299.2 453.4,301.0C456.5,302.8 459.6,305.3 462.7,307.2C465.8,309.1 469.0,310.8 472.1,312.6C475.2,314.4 480.4,316.9 481.4,318.1C482.3,319.3 476.8,318.6 477.8,320.0C478.8,321.4 484.4,323.9 487.2,326.2C490.0,328.5 492.6,331.1 494.9,334.0C497.2,336.9 499.8,340.2 501.2,343.3C502.6,346.4 503.4,349.6 503.5,352.7C503.6,355.8 503.1,358.9 501.9,362.0C500.7,365.1 498.7,368.4 496.5,371.4C494.3,374.4 491.6,377.4 488.7,379.9C485.8,382.3 482.5,384.3 479.4,386.1C476.3,387.9 473.4,389.5 470.0,390.8C466.6,392.1 460.9,393.4 459.1,393.9L340,400L340,300Z" fill="#fce45c"/><path d="M401.2,312.6C402.4,312.0 405.7,310.2 408.2,308.8C410.7,307.4 413.1,305.3 416.0,304.1C418.9,302.9 422.3,302.1 425.4,301.8C428.5,301.5 431.6,301.9 434.7,302.5C437.8,303.1 440.9,304.2 444.0,305.6C447.1,307.0 450.5,309.2 453.4,311.1C456.3,313.1 458.6,315.6 461.2,317.3C463.8,319.0 466.4,320.3 468.9,321.2C471.4,322.1 475.3,323.0 476.0,322.8C476.7,322.6 472.1,319.7 473.2,320.0C474.3,320.3 479.6,322.9 482.5,324.7C485.4,326.5 488.1,328.6 490.3,330.9C492.5,333.2 494.4,335.8 495.7,338.7C497.0,341.6 498.1,344.9 498.4,348.0C498.7,351.1 498.3,354.5 497.3,357.4C496.3,360.2 494.6,362.9 492.6,365.1C490.7,367.3 488.1,369.2 485.6,370.6C483.1,372.0 480.4,373.1 477.8,373.7C475.2,374.3 473.0,374.6 470.0,374.5C467.0,374.4 461.6,373.4 459.9,373.2L340,380L340,310Z" fill="#fcb344"/><path d="M407.5,323.5C408.5,322.7 411.5,320.6 413.7,318.9C415.9,317.2 418.0,314.7 420.7,313.4C423.4,312.1 426.9,311.4 430.0,311.1C433.1,310.9 436.5,311.1 439.4,311.9C442.3,312.7 445.1,314.0 447.2,315.8C449.3,317.6 451.0,321.5 451.8,322.8C452.6,324.1 451.4,322.9 452.1,323.9C452.8,324.9 453.8,327.8 456.0,329.0C458.2,330.2 462.3,331.1 465.4,330.9C468.5,330.7 471.6,328.1 474.7,327.8C477.8,327.5 481.3,328.0 484.0,329.3C486.7,330.6 489.4,333.0 491.1,335.6C492.8,338.2 493.8,341.8 494.2,344.9C494.6,348.0 494.3,351.3 493.4,354.2C492.5,357.1 490.6,359.9 488.7,362.0C486.8,364.1 484.2,365.7 481.7,366.7C479.2,367.7 476.4,368.2 473.9,368.2C471.4,368.2 469.2,367.5 466.9,366.7C464.6,365.9 461.1,364.1 459.9,363.6L340,370L340,320Z" fill="#fa8532"/><circle cx="477" cy="346.3" r="13.2" fill="#f25622"/></g><use href="#ov"/><use href="#ovl"/></g>
<g transform="translate(550.5,-1)"><g clip-path="url(#lcR)"><use href="#elev"/><use href="#ov"/><use href="#ovr"/></g></g>
<g><ellipse cx="1089" cy="609.3" rx="8.5" ry="2.4" fill="#f4f6c6" transform="rotate(-14 1089 609.3)"/><ellipse cx="1099.5" cy="607.6" rx="6" ry="2" fill="#f4f6c6" transform="rotate(-10 1099.5 607.6)"/><path d="M1255.5,625.3l6,2l6,2.6" stroke="#4bb04b" stroke-width="1.8" stroke-linecap="round" fill="none"/><circle cx="855" cy="225.3" r="1.3" fill="#eaf0a8"/><circle cx="859.2" cy="223.4" r="1.1" fill="#eaf0a8"/><circle cx="862.4" cy="227" r="1.2" fill="#eaf0a8"/><circle cx="857.5" cy="228.4" r=".9" fill="#eaf0a8"/></g>
<text class="lt" x="193.3" y="396.5" textLength="128.3" lengthAdjust="spacingAndGlyphs">DOUX2 (Frequency)</text><rect class="sw" x="193.2" y="408.3" width="38.5" height="19"  fill="#2892c7"/><text class="ll" x="238.6" y="423.2" textLength="65.2" lengthAdjust="spacingAndGlyphs">0,00 - 0,05</text><rect class="sw" x="193.2" y="434.4" width="38.5" height="19"  fill="#67a6b5"/><text class="ll" x="238.6" y="449.3" textLength="65.2" lengthAdjust="spacingAndGlyphs">0,05 - 0,10</text><rect class="sw" x="193.2" y="460.4" width="38.5" height="19"  fill="#95bda0"/><text class="ll" x="238.6" y="475.3" textLength="65.2" lengthAdjust="spacingAndGlyphs">0,10 - 0,15</text><rect class="sw" x="193.2" y="486.5" width="38.5" height="19"  fill="#bfd48a"/><text class="ll" x="238.6" y="501.4" textLength="65.2" lengthAdjust="spacingAndGlyphs">0,15 - 0,20</text><rect class="sw" x="193.2" y="512.6" width="38.5" height="19"  fill="#e9ee74"/><text class="ll" x="238.6" y="527.5" textLength="65.2" lengthAdjust="spacingAndGlyphs">0,20 - 0,25</text><rect class="sw" x="193.2" y="538.7" width="38.5" height="19"  fill="#fce45c"/><text class="ll" x="238.6" y="553.6" textLength="65.2" lengthAdjust="spacingAndGlyphs">0,25 - 0,30</text><rect class="sw" x="193.2" y="564.8" width="38.5" height="19"  fill="#fcb344"/><text class="ll" x="238.6" y="579.7" textLength="65.2" lengthAdjust="spacingAndGlyphs">0,30 - 0,35</text><rect class="sw" x="193.2" y="590.8" width="38.5" height="19"  fill="#fa8532"/><text class="ll" x="238.6" y="605.7" textLength="57.7" lengthAdjust="spacingAndGlyphs">0,35 - 0,4</text><rect class="sw" x="193.2" y="616.9" width="38.5" height="19"  fill="#f25622"/><text class="ll" x="238.6" y="631.8" textLength="65.2" lengthAdjust="spacingAndGlyphs">0,40 - 0,45</text><rect class="sw" x="193.2" y="643.0" width="38.5" height="19"  fill="#e81014"/><text class="ll" x="238.6" y="657.9" textLength="65.2" lengthAdjust="spacingAndGlyphs">0,45 - 0,50</text>
<text class="lt" x="738.7" y="320.0" textLength="118.3" lengthAdjust="spacingAndGlyphs">Elevation (meters)</text><rect class="sw" x="738.2" y="330.0" width="38.5" height="19"  fill="#f7fcb6"/><text class="ll" x="783.6" y="344.9" textLength="42.7" lengthAdjust="spacingAndGlyphs">0 - 500</text><rect class="sw" x="738.2" y="356.1" width="38.5" height="19"  fill="#87cc5a"/><text class="ll" x="783.6" y="371.0" textLength="69.0" lengthAdjust="spacingAndGlyphs">500 - 1.000</text><rect class="sw" x="738.2" y="382.2" width="38.5" height="19"  fill="#0e8c3c"/><text class="ll" x="783.6" y="397.1" textLength="80.2" lengthAdjust="spacingAndGlyphs">1.000 - 1.500</text><rect class="sw" x="738.2" y="408.3" width="38.5" height="19"  fill="#68962f"/><text class="ll" x="783.6" y="423.2" textLength="80.2" lengthAdjust="spacingAndGlyphs">1.500 - 2.000</text><rect class="sw" x="738.2" y="434.4" width="38.5" height="19"  fill="#cdaf1e"/><text class="ll" x="783.6" y="449.3" textLength="80.2" lengthAdjust="spacingAndGlyphs">2.000 - 2.500</text><rect class="sw" x="738.2" y="460.4" width="38.5" height="19"  fill="#e67d00"/><text class="ll" x="783.6" y="475.3" textLength="80.2" lengthAdjust="spacingAndGlyphs">2.500 - 3.000</text><rect class="sw" x="738.2" y="486.5" width="38.5" height="19"  fill="#a82000"/><text class="ll" x="783.6" y="501.4" textLength="80.2" lengthAdjust="spacingAndGlyphs">3.000 - 3.500</text><rect class="sw" x="738.2" y="512.6" width="38.5" height="19"  fill="#731405"/><text class="ll" x="783.6" y="527.5" textLength="80.2" lengthAdjust="spacingAndGlyphs">3.500 - 4.000</text><rect class="sw" x="738.2" y="538.7" width="38.5" height="19"  fill="#6b240c"/><text class="ll" x="783.6" y="553.6" textLength="80.2" lengthAdjust="spacingAndGlyphs">4.000 - 4.500</text><rect class="sw" x="738.2" y="564.8" width="38.5" height="19"  fill="#6e381b"/><text class="ll" x="783.6" y="579.7" textLength="80.2" lengthAdjust="spacingAndGlyphs">4.500 - 5.000</text><rect class="sw" x="738.2" y="590.8" width="38.5" height="19"  fill="#957565"/><text class="ll" x="783.6" y="605.7" textLength="80.2" lengthAdjust="spacingAndGlyphs">5.000 - 5.500</text><rect class="sw" x="738.2" y="616.9" width="38.5" height="19"  fill="#b0b0b0"/><text class="ll" x="783.6" y="631.8" textLength="80.2" lengthAdjust="spacingAndGlyphs">5.500 - 6.000</text><rect class="sw" x="738.2" y="643.0" width="38.5" height="19"  fill="#d7d5d8"/><text class="ll" x="783.6" y="657.9" textLength="80.2" lengthAdjust="spacingAndGlyphs">6.000 - 6.500</text>
</g>
<g transform="translate(0,1632)">
<text class="pl" transform="translate(0.3,76.3) scale(1,1.044)">C</text><text class="pl" transform="translate(65.2,76.3) scale(1,1.004)">)</text>
<g clip-path="url(#lcL)"><g clip-path="url(#lc)"><rect x="150" y="-20" width="640" height="700" fill="#e9ee74"/><path d="M150,-10H372L365,135L392,158L380,190H150Z" fill="#95bda0"/><path d="M340,-10H410V45H386V80H340Z" fill="#95bda0"/><path d="M351,128L358,150L362,180L384,180L383,140Z" fill="#bfd48a"/><path d="M383,140L400,140L400,180L384,180Z" fill="#e9ee74"/><path d="M386,40H500V100H386Z" fill="#bfd48a"/><circle cx="206.3" cy="46.5" r="22.2" fill="#67a6b5"/><circle cx="258.4" cy="92.2" r="6.6" fill="#bfd48a"/><circle cx="311" cy="108" r="21" fill="#67a6b5"/><circle cx="332" cy="117.5" r="10.5" fill="#67a6b5"/><circle cx="307.5" cy="110.5" r="13.2" fill="#2892c7"/><ellipse cx="453" cy="146" rx="15" ry="13" fill="#bfd48a"/><circle cx="450.5" cy="146.5" r="7.5" fill="#95bda0"/><circle cx="432.5" cy="142.8" r="7.2" fill="#fce45c"/><circle cx="432.3" cy="142.5" r="4.2" fill="#fcb344"/><circle cx="432.2" cy="142.3" r="2.2" fill="#fa8532"/><ellipse cx="479.8" cy="199.8" rx="22.6" ry="19.5" fill="#fce45c"/><path d="M439.4,249.6C439.4,247.0 439.6,244.1 440.9,241.8C442.2,239.5 444.6,237.0 447.2,235.6C449.8,234.2 452.9,233.4 456.5,233.3C460.1,233.2 464.8,234.0 468.9,234.8C473.0,235.6 477.2,237.2 481.4,237.9C485.6,238.6 489.8,238.9 493.9,238.7C498.0,238.4 502.2,237.7 506.3,236.4C510.4,235.1 514.6,233.1 518.8,230.9C522.9,228.7 527.1,225.5 531.2,223.2C535.4,220.9 538.9,219.5 543.7,216.9C548.5,214.3 554.4,210.3 560.0,207.8C565.6,205.3 571.5,203.8 577.3,202.1C583.1,200.4 588.4,198.8 594.6,197.7C600.8,196.6 606.1,192.5 614.7,195.4C623.3,198.3 637.3,208.4 646.4,215.0C655.5,221.6 663.5,229.9 669.5,235.2C675.5,240.5 679.5,241.9 682.4,246.7C685.3,251.5 685.7,258.2 686.7,264.0C687.7,269.8 688.4,275.4 688.2,281.2C688.0,286.9 686.8,292.7 685.3,298.5C683.8,304.3 681.7,310.5 679.5,315.8C677.3,321.1 674.9,323.7 672.3,330.2C669.7,336.7 666.6,348.2 663.7,354.7C660.8,361.2 654.6,366.5 655.1,369.1C655.6,371.7 666.1,368.1 666.6,370.5C667.1,372.9 661.3,379.4 657.9,383.5C654.5,387.6 650.2,391.2 646.4,395.0C642.6,398.8 638.7,402.6 634.9,406.5C631.1,410.4 627.7,415.2 623.4,418.1C619.1,421.0 613.8,423.1 609.0,423.8C604.2,424.5 598.9,423.8 594.6,422.4C590.3,421.0 586.9,418.3 583.1,415.2C579.3,412.1 574.5,408.0 571.6,403.7C568.7,399.4 567.0,394.1 565.8,389.3C564.6,384.5 565.1,379.2 564.4,374.9C563.7,370.6 563.2,367.1 561.5,363.3C559.8,359.5 557.4,355.2 554.3,351.8C551.2,348.4 546.6,346.1 542.8,343.2C538.9,340.3 535.7,335.4 531.2,334.6C526.7,333.8 519.5,338.7 515.6,338.3C511.7,337.9 510.5,334.2 507.9,332.1C505.3,330.0 502.7,328.2 500.1,325.9C497.5,323.6 494.9,320.7 492.3,318.1C489.7,315.5 486.8,312.9 484.5,310.3C482.2,307.7 479.9,304.8 478.3,302.5C476.8,300.2 476.2,298.4 475.2,296.3C474.2,294.2 473.4,292.2 472.1,290.1C470.8,288.0 469.5,286.0 467.4,283.9C465.3,281.8 462.2,279.7 459.6,277.6C457.0,275.5 454.1,273.7 451.8,271.4C449.5,269.1 447.4,265.9 445.6,263.6C443.8,261.3 441.9,259.7 440.9,257.4C439.9,255.1 439.4,252.2 439.4,249.6Z" fill="#bfd48a"/><ellipse cx="535.6" cy="292.8" rx="50.4" ry="43.2" fill="#95bda0"/><ellipse cx="526.9" cy="297.1" rx="33" ry="28.8" fill="#67a6b5"/><circle cx="522" cy="300" r="20" fill="#2892c7"/><path d="M378.7,270.6C380.5,270.5 386.0,270.1 389.6,269.8C393.2,269.6 396.6,268.6 400.5,269.1C404.4,269.6 408.8,271.3 412.9,273.0C417.0,274.7 421.2,277.1 425.4,279.2C429.5,281.3 434.2,283.3 437.8,285.4C441.4,287.5 444.1,289.5 447.2,291.6C450.3,293.7 453.4,295.8 456.5,297.9C459.6,300.0 462.7,302.0 465.8,304.1C468.9,306.2 472.1,308.0 475.2,310.3C478.3,312.6 481.4,315.5 484.5,318.1C487.6,320.7 490.8,323.0 493.9,325.9C497.0,328.8 500.3,332.1 503.2,335.2C506.1,338.3 510.2,345.2 511.0,344.6C511.8,344.0 506.8,331.4 508.2,331.7C509.6,331.9 516.1,341.3 519.7,346.1C523.3,350.9 526.9,355.7 529.8,360.5C532.7,365.3 535.3,370.1 537.0,374.9C538.7,379.7 539.7,384.0 539.9,389.3C540.1,394.6 539.4,400.8 538.4,406.5C537.4,412.2 536.0,417.6 534.1,423.8C532.2,430.1 529.8,437.3 526.9,444.0C524.0,450.7 520.4,457.4 516.8,464.1C513.2,470.8 509.1,478.1 505.3,484.3C501.5,490.6 495.8,497.2 493.8,501.6C491.8,506.0 496.4,505.9 493.3,510.4C490.2,514.9 481.9,522.9 475.1,528.6C468.4,534.3 458.5,540.3 452.8,544.7C447.1,549.1 444.1,550.5 440.7,554.9C437.3,559.3 435.0,566.0 432.6,571.1C430.2,576.2 429.2,581.5 426.5,585.2C423.8,588.9 418.1,591.9 416.4,593.3L340,600L340,270Z" fill="#fce45c"/><path d="M392.7,299.4C394.2,298.9 398.9,297.5 402.0,296.3C405.1,295.1 408.0,293.2 411.4,292.4C414.8,291.6 418.7,291.3 422.3,291.6C425.9,291.9 429.6,292.9 433.2,294.0C436.8,295.1 440.6,296.3 444.0,297.9C447.4,299.4 450.3,301.5 453.4,303.3C456.5,305.1 459.6,307.1 462.7,308.8C465.8,310.5 469.0,311.7 472.1,313.4C475.2,315.1 478.3,316.8 481.4,318.9C484.5,321.0 487.8,323.4 490.7,325.9C493.6,328.4 496.2,330.8 498.5,333.7C500.8,336.6 503.8,341.4 504.7,343.0C505.6,344.6 503.5,340.8 503.9,343.2C504.2,345.6 506.6,352.8 506.8,357.6C507.0,362.4 507.0,367.2 505.3,372.0C503.6,376.8 500.1,382.1 496.7,386.4C493.3,390.7 489.0,394.8 485.2,397.9C481.4,401.0 478.5,403.6 473.7,405.1C468.9,406.6 459.3,406.8 456.4,407.1L340,420L340,290Z" fill="#fcb344"/><path d="M400.5,311.1C401.8,310.5 405.6,308.8 408.2,307.2C410.8,305.6 413.1,303.1 416.0,301.8C418.9,300.5 422.3,299.7 425.4,299.4C428.5,299.1 431.6,299.5 434.7,300.2C437.8,300.9 440.9,301.9 444.0,303.3C447.1,304.7 450.5,306.9 453.4,308.8C456.3,310.8 458.6,313.3 461.2,315.0C463.8,316.7 466.0,317.9 468.9,318.9C471.8,319.9 475.4,320.0 478.3,321.2C481.2,322.4 483.8,324.1 486.1,325.9C488.4,327.7 490.4,329.8 492.3,332.1C494.2,334.4 497.0,338.5 497.7,339.9C498.4,341.3 496.4,337.8 496.7,340.3C497.0,342.8 499.6,350.4 499.6,354.7C499.6,359.0 499.1,362.8 496.7,366.2C494.3,369.6 489.0,373.0 485.2,374.9C481.4,376.8 478.5,377.6 473.7,377.7C468.9,377.8 459.3,375.8 456.4,375.4L340,390L340,310Z" fill="#fa8532"/><circle cx="433.2" cy="327.4" r="13.2" fill="#f25622"/><ellipse cx="477" cy="346.2" rx="23" ry="17.5" fill="#f25622"/><circle cx="476.8" cy="346.3" r="11.5" fill="#e81014"/></g><use href="#ov"/><use href="#ovl"/></g>
<g transform="translate(550.5,-1)"><g clip-path="url(#lcR)"><use href="#elev"/><use href="#ov"/><use href="#ovr"/></g></g>
<g><ellipse cx="1089" cy="609.3" rx="8.5" ry="2.4" fill="#f4f6c6" transform="rotate(-14 1089 609.3)"/><ellipse cx="1099.5" cy="607.6" rx="6" ry="2" fill="#f4f6c6" transform="rotate(-10 1099.5 607.6)"/><path d="M1255.5,625.3l6,2l6,2.6" stroke="#4bb04b" stroke-width="1.8" stroke-linecap="round" fill="none"/><circle cx="855" cy="225.3" r="1.3" fill="#eaf0a8"/><circle cx="859.2" cy="223.4" r="1.1" fill="#eaf0a8"/><circle cx="862.4" cy="227" r="1.2" fill="#eaf0a8"/><circle cx="857.5" cy="228.4" r=".9" fill="#eaf0a8"/></g>
<text class="lt" x="193.3" y="396.5" textLength="110.0" lengthAdjust="spacingAndGlyphs">CLC (Frequency)</text><rect class="sw" x="193.2" y="408.3" width="38.5" height="19"  fill="#2892c7"/><text class="ll" x="238.6" y="423.2" textLength="65.2" lengthAdjust="spacingAndGlyphs">0,00 - 0,05</text><rect class="sw" x="193.2" y="434.4" width="38.5" height="19"  fill="#67a6b5"/><text class="ll" x="238.6" y="449.3" textLength="65.2" lengthAdjust="spacingAndGlyphs">0,05 - 0,10</text><rect class="sw" x="193.2" y="460.4" width="38.5" height="19"  fill="#95bda0"/><text class="ll" x="238.6" y="475.3" textLength="65.2" lengthAdjust="spacingAndGlyphs">0,10 - 0,15</text><rect class="sw" x="193.2" y="486.5" width="38.5" height="19"  fill="#bfd48a"/><text class="ll" x="238.6" y="501.4" textLength="65.2" lengthAdjust="spacingAndGlyphs">0,15 - 0,20</text><rect class="sw" x="193.2" y="512.6" width="38.5" height="19"  fill="#e9ee74"/><text class="ll" x="238.6" y="527.5" textLength="65.2" lengthAdjust="spacingAndGlyphs">0,20 - 0,25</text><rect class="sw" x="193.2" y="538.7" width="38.5" height="19"  fill="#fce45c"/><text class="ll" x="238.6" y="553.6" textLength="65.2" lengthAdjust="spacingAndGlyphs">0,25 - 0,30</text><rect class="sw" x="193.2" y="564.8" width="38.5" height="19"  fill="#fcb344"/><text class="ll" x="238.6" y="579.7" textLength="65.2" lengthAdjust="spacingAndGlyphs">0,30 - 0,35</text><rect class="sw" x="193.2" y="590.8" width="38.5" height="19"  fill="#fa8532"/><text class="ll" x="238.6" y="605.7" textLength="65.2" lengthAdjust="spacingAndGlyphs">0,35 - 0,40</text><rect class="sw" x="193.2" y="616.9" width="38.5" height="19"  fill="#f25622"/><text class="ll" x="238.6" y="631.8" textLength="65.2" lengthAdjust="spacingAndGlyphs">0,40 - 0,45</text><rect class="sw" x="193.2" y="643.0" width="38.5" height="19"  fill="#e81014"/><text class="ll" x="238.6" y="657.9" textLength="65.2" lengthAdjust="spacingAndGlyphs">0,45 - 0,50</text>
<text class="lt" x="738.7" y="320.0" textLength="118.3" lengthAdjust="spacingAndGlyphs">Elevation (meters)</text><rect class="sw" x="738.2" y="330.0" width="38.5" height="19"  fill="#f7fcb6"/><text class="ll" x="783.6" y="344.9" textLength="42.7" lengthAdjust="spacingAndGlyphs">0 - 500</text><rect class="sw" x="738.2" y="356.1" width="38.5" height="19"  fill="#87cc5a"/><text class="ll" x="783.6" y="371.0" textLength="69.0" lengthAdjust="spacingAndGlyphs">500 - 1.000</text><rect class="sw" x="738.2" y="382.2" width="38.5" height="19"  fill="#0e8c3c"/><text class="ll" x="783.6" y="397.1" textLength="80.2" lengthAdjust="spacingAndGlyphs">1.000 - 1.500</text><rect class="sw" x="738.2" y="408.3" width="38.5" height="19"  fill="#68962f"/><text class="ll" x="783.6" y="423.2" textLength="80.2" lengthAdjust="spacingAndGlyphs">1.500 - 2.000</text><rect class="sw" x="738.2" y="434.4" width="38.5" height="19"  fill="#cdaf1e"/><text class="ll" x="783.6" y="449.3" textLength="80.2" lengthAdjust="spacingAndGlyphs">2.000 - 2.500</text><rect class="sw" x="738.2" y="460.4" width="38.5" height="19"  fill="#e67d00"/><text class="ll" x="783.6" y="475.3" textLength="80.2" lengthAdjust="spacingAndGlyphs">2.500 - 3.000</text><rect class="sw" x="738.2" y="486.5" width="38.5" height="19"  fill="#a82000"/><text class="ll" x="783.6" y="501.4" textLength="80.2" lengthAdjust="spacingAndGlyphs">3.000 - 3.500</text><rect class="sw" x="738.2" y="512.6" width="38.5" height="19"  fill="#731405"/><text class="ll" x="783.6" y="527.5" textLength="80.2" lengthAdjust="spacingAndGlyphs">3.500 - 4.000</text><rect class="sw" x="738.2" y="538.7" width="38.5" height="19"  fill="#6b240c"/><text class="ll" x="783.6" y="553.6" textLength="80.2" lengthAdjust="spacingAndGlyphs">4.000 - 4.500</text><rect class="sw" x="738.2" y="564.8" width="38.5" height="19"  fill="#6e381b"/><text class="ll" x="783.6" y="579.7" textLength="80.2" lengthAdjust="spacingAndGlyphs">4.500 - 5.000</text><rect class="sw" x="738.2" y="590.8" width="38.5" height="19"  fill="#957565"/><text class="ll" x="783.6" y="605.7" textLength="80.2" lengthAdjust="spacingAndGlyphs">5.000 - 5.500</text><rect class="sw" x="738.2" y="616.9" width="38.5" height="19"  fill="#b0b0b0"/><text class="ll" x="783.6" y="631.8" textLength="80.2" lengthAdjust="spacingAndGlyphs">5.500 - 6.000</text><rect class="sw" x="738.2" y="643.0" width="38.5" height="19"  fill="#d7d5d8"/><text class="ll" x="783.6" y="657.9" textLength="80.2" lengthAdjust="spacingAndGlyphs">6.000 - 6.500</text>
</g>
</svg></body></html>
